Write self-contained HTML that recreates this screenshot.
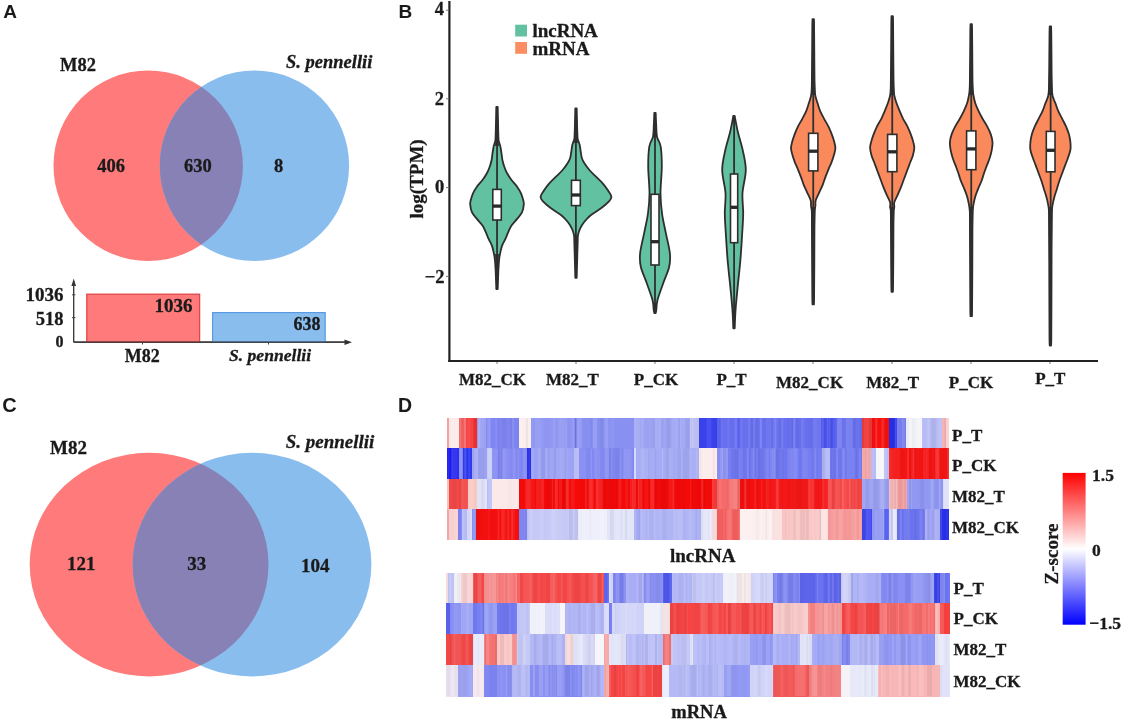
<!DOCTYPE html>
<html><head><meta charset="utf-8"><style>
html,body{margin:0;padding:0;background:#fff;}
svg{display:block;filter:blur(0.45px);}
</style></head><body>
<svg width="1122" height="720" viewBox="0 0 1122 720">
<rect width="1122" height="720" fill="#fff"/>
<text x="3.2" y="17.6" font-family='"Liberation Sans", sans-serif' font-size="19" font-weight="bold"  text-anchor="start" fill="#1a1a1a" >A</text>
<text x="398.6" y="17.6" font-family='"Liberation Sans", sans-serif' font-size="19" font-weight="bold"  text-anchor="start" fill="#1a1a1a" >B</text>
<text x="2.3" y="412.3" font-family='"Liberation Sans", sans-serif' font-size="20" font-weight="bold"  text-anchor="start" fill="#1a1a1a" >C</text>
<text x="398.0" y="412.4" font-family='"Liberation Sans", sans-serif' font-size="19.5" font-weight="bold"  text-anchor="start" fill="#1a1a1a" >D</text>
<ellipse cx="148.2" cy="165.7" rx="94.7" ry="95.3" fill="#ff7b7b"/>
<ellipse cx="254.4" cy="165.7" rx="94.7" ry="95.3" fill="#89bdee"/>
<clipPath id="c165"><ellipse cx="148.2" cy="165.7" rx="94.7" ry="95.3"/></clipPath>
<ellipse cx="254.4" cy="165.7" rx="94.7" ry="95.3" fill="#8781b5" clip-path="url(#c165)"/>
<text x="60" y="70.7" font-family='"Liberation Serif", serif' font-size="18.5" font-weight="bold"  text-anchor="start" fill="#1a1a1a"  stroke="#1a1a1a" stroke-width="0.3">M82</text>
<text x="286" y="68" font-family='"Liberation Serif", serif' font-size="18.5" font-weight="bold" font-style="italic" text-anchor="start" fill="#1a1a1a"  stroke="#1a1a1a" stroke-width="0.3">S. pennellii</text>
<text x="111.2" y="171.8" font-family='"Liberation Serif", serif' font-size="18.5" font-weight="bold"  text-anchor="middle" fill="#1a1a1a"  stroke="#1a1a1a" stroke-width="0.3">406</text>
<text x="197.8" y="171.8" font-family='"Liberation Serif", serif' font-size="18.5" font-weight="bold"  text-anchor="middle" fill="#1a1a1a"  stroke="#1a1a1a" stroke-width="0.3">630</text>
<text x="278.5" y="171.8" font-family='"Liberation Serif", serif' font-size="18.5" font-weight="bold"  text-anchor="middle" fill="#1a1a1a"  stroke="#1a1a1a" stroke-width="0.3">8</text>
<g stroke="#333" stroke-width="1.3" fill="none">
<line x1="73.7" y1="342.2" x2="73.7" y2="281"/>
<line x1="73.7" y1="342.2" x2="349" y2="342.2"/>
</g>
<path d="M73.7 278.5 L71.4 286 L76 286 Z" fill="#333"/>
<g stroke="#444" stroke-width="1"><line x1="72" y1="294.8" x2="75.4" y2="294.8"/><line x1="72" y1="317.6" x2="75.4" y2="317.6"/><line x1="142.5" y1="342" x2="142.5" y2="344.5"/><line x1="268.5" y1="342" x2="268.5" y2="344.5"/></g>
<path d="M352 342.2 L344.5 339.5 L344.5 344.9 Z" fill="#333"/>
<rect x="86.8" y="294.2" width="112.8" height="47.8" fill="#ff7b7b" stroke="#e04848" stroke-width="1.3"/>
<rect x="212.6" y="312.6" width="112.6" height="29.4" fill="#89bdee" stroke="#5a9ae0" stroke-width="1.2"/>
<line x1="73.7" y1="342.2" x2="349" y2="342.2" stroke="#333" stroke-width="1.3"/>
<text x="63.5" y="301.3" font-family='"Liberation Serif", serif' font-size="19" font-weight="bold"  text-anchor="end" fill="#1a1a1a"  stroke="#1a1a1a" stroke-width="0.3">1036</text>
<text x="63.5" y="324.5" font-family='"Liberation Serif", serif' font-size="18.5" font-weight="bold"  text-anchor="end" fill="#1a1a1a"  stroke="#1a1a1a" stroke-width="0.3">518</text>
<text x="63.5" y="347" font-family='"Liberation Serif", serif' font-size="16" font-weight="bold"  text-anchor="end" fill="#1a1a1a"  stroke="#1a1a1a" stroke-width="0.3">0</text>
<text x="192.5" y="312" font-family='"Liberation Serif", serif' font-size="19" font-weight="bold"  text-anchor="end" fill="#1a1a1a"  stroke="#1a1a1a" stroke-width="0.3">1036</text>
<text x="320.6" y="330" font-family='"Liberation Serif", serif' font-size="18" font-weight="bold"  text-anchor="end" fill="#1a1a1a"  stroke="#1a1a1a" stroke-width="0.3">638</text>
<text x="142.3" y="362.2" font-family='"Liberation Serif", serif' font-size="18" font-weight="bold"  text-anchor="middle" fill="#1a1a1a"  stroke="#1a1a1a" stroke-width="0.3">M82</text>
<text x="270" y="360.5" font-family='"Liberation Serif", serif' font-size="17.6" font-weight="bold" font-style="italic" text-anchor="middle" fill="#1a1a1a"  stroke="#1a1a1a" stroke-width="0.3">S. pennellii</text>
<ellipse cx="149.1" cy="564.6" rx="119.4" ry="111.8" fill="#ff7b7b"/>
<ellipse cx="252.0" cy="564.6" rx="119.4" ry="111.8" fill="#89bdee"/>
<clipPath id="c564"><ellipse cx="149.1" cy="564.6" rx="119.4" ry="111.8"/></clipPath>
<ellipse cx="252.0" cy="564.6" rx="119.4" ry="111.8" fill="#8781b5" clip-path="url(#c564)"/>
<text x="50" y="453.6" font-family='"Liberation Serif", serif' font-size="19" font-weight="bold"  text-anchor="start" fill="#1a1a1a"  stroke="#1a1a1a" stroke-width="0.3">M82</text>
<text x="285.7" y="448" font-family='"Liberation Serif", serif' font-size="19" font-weight="bold" font-style="italic" text-anchor="start" fill="#1a1a1a"  stroke="#1a1a1a" stroke-width="0.3">S. pennellii</text>
<text x="81.3" y="570" font-family='"Liberation Serif", serif' font-size="19" font-weight="bold"  text-anchor="middle" fill="#1a1a1a"  stroke="#1a1a1a" stroke-width="0.3">121</text>
<text x="196.7" y="570.4" font-family='"Liberation Serif", serif' font-size="19" font-weight="bold"  text-anchor="middle" fill="#1a1a1a"  stroke="#1a1a1a" stroke-width="0.3">33</text>
<text x="315.2" y="571.6" font-family='"Liberation Serif", serif' font-size="19" font-weight="bold"  text-anchor="middle" fill="#1a1a1a"  stroke="#1a1a1a" stroke-width="0.3">104</text>
<g stroke="#222" stroke-width="2.2" fill="none">
<line x1="449.4" y1="1" x2="449.4" y2="362"/>
<line x1="448.3" y1="361" x2="1098" y2="361"/>
</g>
<g stroke="#777" stroke-width="1">
<line x1="446" y1="10.2" x2="449" y2="10.2"/>
<line x1="446" y1="98.8" x2="449" y2="98.8"/>
<line x1="446" y1="187.6" x2="449" y2="187.6"/>
<line x1="446" y1="276.4" x2="449" y2="276.4"/>
<line x1="497" y1="362" x2="497" y2="364"/>
<line x1="576" y1="362" x2="576" y2="364"/>
<line x1="655" y1="362" x2="655" y2="364"/>
<line x1="734" y1="362" x2="734" y2="364"/>
<line x1="813" y1="362" x2="813" y2="364"/>
<line x1="892" y1="362" x2="892" y2="364"/>
<line x1="971" y1="362" x2="971" y2="364"/>
<line x1="1050" y1="362" x2="1050" y2="364"/>
</g>
<text x="444" y="15.3" font-family='"Liberation Serif", serif' font-size="18.5" font-weight="bold"  text-anchor="end" fill="#1a1a1a"  stroke="#1a1a1a" stroke-width="0.3">4</text>
<text x="444" y="105.3" font-family='"Liberation Serif", serif' font-size="18.5" font-weight="bold"  text-anchor="end" fill="#1a1a1a"  stroke="#1a1a1a" stroke-width="0.3">2</text>
<text x="444.3" y="193" font-family='"Liberation Serif", serif' font-size="18.5" font-weight="bold"  text-anchor="end" fill="#1a1a1a"  stroke="#1a1a1a" stroke-width="0.3">0</text>
<text x="444.5" y="282.6" font-family='"Liberation Serif", serif' font-size="18.5" font-weight="bold"  text-anchor="end" fill="#1a1a1a"  stroke="#1a1a1a" stroke-width="0.3">−2</text>
<text transform="translate(423.2,218.5) rotate(-90)" font-family='"Liberation Serif", serif' font-size="19" font-weight="bold" fill="#1a1a1a" stroke="#1a1a1a" stroke-width="0.3">log(TPM)</text>
<rect x="515.2" y="24.7" width="11.8" height="11.8" fill="#62c1a1"/>
<rect x="515.2" y="42" width="11.8" height="11.8" fill="#fc8d62"/>
<text x="532.4" y="36.5" font-family='"Liberation Serif", serif' font-size="19" font-weight="bold"  text-anchor="start" fill="#1a1a1a"  stroke="#1a1a1a" stroke-width="0.3">lncRNA</text>
<text x="532.4" y="54.8" font-family='"Liberation Serif", serif' font-size="19" font-weight="bold"  text-anchor="start" fill="#1a1a1a"  stroke="#1a1a1a" stroke-width="0.3">mRNA</text>
<path d="M497.70 107.00 C497.77 110.00 497.97 119.67 498.10 125.00 C498.23 130.33 498.33 136.13 498.50 139.00 C498.67 141.87 498.78 140.92 499.10 142.20 C499.42 143.48 500.00 144.85 500.40 146.70 C500.80 148.55 501.17 151.08 501.50 153.30 C501.83 155.52 501.93 157.77 502.40 160.00 C502.87 162.23 503.52 164.48 504.30 166.70 C505.08 168.92 505.90 171.08 507.10 173.30 C508.30 175.52 509.83 177.77 511.50 180.00 C513.17 182.23 515.52 184.48 517.10 186.70 C518.68 188.92 519.98 191.08 521.00 193.30 C522.02 195.52 522.73 198.15 523.20 200.00 C523.67 201.85 523.98 202.37 523.80 204.40 C523.62 206.43 523.22 209.78 522.10 212.20 C520.98 214.62 518.87 216.67 517.10 218.90 C515.33 221.13 512.98 223.38 511.50 225.60 C510.02 227.82 509.22 229.98 508.20 232.20 C507.18 234.42 506.42 236.67 505.40 238.90 C504.38 241.13 502.93 243.38 502.10 245.60 C501.27 247.82 500.88 249.98 500.40 252.20 C499.92 254.42 499.53 255.93 499.20 258.90 C498.87 261.87 498.65 264.98 498.40 270.00 C498.15 275.02 497.82 285.83 497.70 289.00 L496.30 289.00 C496.18 285.83 495.85 275.02 495.60 270.00 C495.35 264.98 495.13 261.87 494.80 258.90 C494.47 255.93 494.08 254.42 493.60 252.20 C493.12 249.98 492.73 247.82 491.90 245.60 C491.07 243.38 489.62 241.13 488.60 238.90 C487.58 236.67 486.82 234.42 485.80 232.20 C484.78 229.98 483.98 227.82 482.50 225.60 C481.02 223.38 478.67 221.13 476.90 218.90 C475.13 216.67 473.02 214.62 471.90 212.20 C470.78 209.78 470.38 206.43 470.20 204.40 C470.02 202.37 470.33 201.85 470.80 200.00 C471.27 198.15 471.98 195.52 473.00 193.30 C474.02 191.08 475.32 188.92 476.90 186.70 C478.48 184.48 480.83 182.23 482.50 180.00 C484.17 177.77 485.70 175.52 486.90 173.30 C488.10 171.08 488.92 168.92 489.70 166.70 C490.48 164.48 491.13 162.23 491.60 160.00 C492.07 157.77 492.17 155.52 492.50 153.30 C492.83 151.08 493.20 148.55 493.60 146.70 C494.00 144.85 494.58 143.48 494.90 142.20 C495.22 140.92 495.33 141.87 495.50 139.00 C495.67 136.13 495.77 130.33 495.90 125.00 C496.03 119.67 496.23 110.00 496.30 107.00 Z" fill="#62c1a1" stroke="#2e2e2e" stroke-width="1.8" stroke-linejoin="round"/>
<path d="M497.00 146.00 L498.90 146.00 L498.67 141.12 L498.46 136.25 L498.29 131.38 L498.15 126.50 L498.04 121.62 L497.96 116.75 L497.92 111.88 L497.90 107.00 L496.10 107.00 L496.08 111.88 L496.04 116.75 L495.96 121.62 L495.85 126.50 L495.71 131.38 L495.54 136.25 L495.33 141.12 L495.10 146.00 Z" fill="#2e2e2e"/>
<path d="M497.00 254.00 L498.90 254.00 L498.67 258.38 L498.46 262.75 L498.29 267.12 L498.15 271.50 L498.04 275.88 L497.96 280.25 L497.92 284.62 L497.90 289.00 L496.10 289.00 L496.08 284.62 L496.04 280.25 L495.96 275.88 L495.85 271.50 L495.71 267.12 L495.54 262.75 L495.33 258.38 L495.10 254.00 Z" fill="#2e2e2e"/>
<line x1="497.05" y1="107" x2="497.05" y2="289" stroke="#2e2e2e" stroke-width="1.8"/><rect x="492.8" y="189.4" width="8.5" height="30.599999999999994" fill="#fff" stroke="#2e2e2e" stroke-width="1.6"/><line x1="492.8" y1="206.1" x2="501.3" y2="206.1" stroke="#2a2a2a" stroke-width="3.3"/>
<path d="M576.70 108.30 C576.77 111.08 576.97 120.22 577.10 125.00 C577.23 129.78 577.35 134.50 577.50 137.00 C577.65 139.50 577.63 138.67 578.00 140.00 C578.37 141.33 579.25 143.05 579.70 145.00 C580.15 146.95 580.33 149.48 580.70 151.70 C581.07 153.92 581.28 156.37 581.90 158.30 C582.52 160.23 583.15 161.35 584.40 163.30 C585.65 165.25 587.47 167.77 589.40 170.00 C591.33 172.23 593.78 174.48 596.00 176.70 C598.22 178.92 600.75 181.08 602.70 183.30 C604.65 185.52 606.25 187.77 607.70 190.00 C609.15 192.23 611.23 194.75 611.40 196.70 C611.57 198.65 610.43 199.77 608.70 201.70 C606.97 203.63 603.95 206.08 601.00 208.30 C598.05 210.52 593.77 212.77 591.00 215.00 C588.23 217.23 586.20 219.48 584.40 221.70 C582.60 223.92 581.27 226.08 580.20 228.30 C579.13 230.52 578.42 232.77 578.00 235.00 C577.58 237.23 577.82 238.37 577.70 241.70 C577.58 245.03 577.47 248.98 577.30 255.00 C577.13 261.02 576.80 274.00 576.70 277.80 L575.30 277.80 C575.20 274.00 574.87 261.02 574.70 255.00 C574.53 248.98 574.42 245.03 574.30 241.70 C574.18 238.37 574.42 237.23 574.00 235.00 C573.58 232.77 572.87 230.52 571.80 228.30 C570.73 226.08 569.40 223.92 567.60 221.70 C565.80 219.48 563.77 217.23 561.00 215.00 C558.23 212.77 553.95 210.52 551.00 208.30 C548.05 206.08 545.03 203.63 543.30 201.70 C541.57 199.77 540.43 198.65 540.60 196.70 C540.77 194.75 542.85 192.23 544.30 190.00 C545.75 187.77 547.35 185.52 549.30 183.30 C551.25 181.08 553.78 178.92 556.00 176.70 C558.22 174.48 560.67 172.23 562.60 170.00 C564.53 167.77 566.35 165.25 567.60 163.30 C568.85 161.35 569.48 160.23 570.10 158.30 C570.72 156.37 570.93 153.92 571.30 151.70 C571.67 149.48 571.85 146.95 572.30 145.00 C572.75 143.05 573.63 141.33 574.00 140.00 C574.37 138.67 574.35 139.50 574.50 137.00 C574.65 134.50 574.77 129.78 574.90 125.00 C575.03 120.22 575.23 111.08 575.30 108.30 Z" fill="#62c1a1" stroke="#2e2e2e" stroke-width="1.8" stroke-linejoin="round"/>
<path d="M576.00 143.00 L577.90 143.00 L577.67 138.66 L577.46 134.32 L577.29 129.99 L577.15 125.65 L577.04 121.31 L576.96 116.97 L576.92 112.64 L576.90 108.30 L575.10 108.30 L575.08 112.64 L575.04 116.97 L574.96 121.31 L574.85 125.65 L574.71 129.99 L574.54 134.32 L574.33 138.66 L574.10 143.00 Z" fill="#2e2e2e"/>
<path d="M576.00 236.00 L577.90 236.00 L577.67 241.22 L577.46 246.45 L577.29 251.68 L577.15 256.90 L577.04 262.12 L576.96 267.35 L576.92 272.57 L576.90 277.80 L575.10 277.80 L575.08 272.57 L575.04 267.35 L574.96 262.12 L574.85 256.90 L574.71 251.68 L574.54 246.45 L574.33 241.22 L574.10 236.00 Z" fill="#2e2e2e"/>
<line x1="575.9" y1="108.3" x2="575.9" y2="277.8" stroke="#2e2e2e" stroke-width="1.8"/><rect x="571.5" y="180.3" width="8.799999999999955" height="25.299999999999983" fill="#fff" stroke="#2e2e2e" stroke-width="1.6"/><line x1="571.5" y1="195.0" x2="580.3" y2="195.0" stroke="#2a2a2a" stroke-width="3.3"/>
<path d="M655.70 113.00 C655.78 115.00 655.98 121.05 656.20 125.00 C656.42 128.95 656.25 133.08 657.00 136.70 C657.75 140.32 659.90 141.70 660.70 146.70 C661.50 151.70 661.83 158.93 661.80 166.70 C661.77 174.47 660.47 185.53 660.50 193.30 C660.53 201.07 661.10 206.63 662.00 213.30 C662.90 219.97 664.58 226.63 665.90 233.30 C667.22 239.97 669.35 247.73 669.90 253.30 C670.45 258.87 670.32 261.70 669.20 266.70 C668.08 271.70 665.15 277.75 663.20 283.30 C661.25 288.85 658.65 295.55 657.50 300.00 C656.35 304.45 656.60 307.83 656.30 310.00 C656.00 312.17 655.80 312.50 655.70 313.00 L654.30 313.00 C654.20 312.50 654.00 312.17 653.70 310.00 C653.40 307.83 653.65 304.45 652.50 300.00 C651.35 295.55 648.75 288.85 646.80 283.30 C644.85 277.75 641.92 271.70 640.80 266.70 C639.68 261.70 639.55 258.87 640.10 253.30 C640.65 247.73 642.78 239.97 644.10 233.30 C645.42 226.63 647.10 219.97 648.00 213.30 C648.90 206.63 649.47 201.07 649.50 193.30 C649.53 185.53 648.23 174.47 648.20 166.70 C648.17 158.93 648.50 151.70 649.30 146.70 C650.10 141.70 652.25 140.32 653.00 136.70 C653.75 133.08 653.58 128.95 653.80 125.00 C654.02 121.05 654.22 115.00 654.30 113.00 Z" fill="#62c1a1" stroke="#2e2e2e" stroke-width="1.8" stroke-linejoin="round"/>
<path d="M655.00 137.00 L656.90 137.00 L656.67 134.00 L656.46 131.00 L656.29 128.00 L656.15 125.00 L656.04 122.00 L655.96 119.00 L655.92 116.00 L655.90 113.00 L654.10 113.00 L654.08 116.00 L654.04 119.00 L653.96 122.00 L653.85 125.00 L653.71 128.00 L653.54 131.00 L653.33 134.00 L653.10 137.00 Z" fill="#2e2e2e"/>
<path d="M655.00 303.00 L656.90 303.00 L656.67 304.25 L656.46 305.50 L656.29 306.75 L656.15 308.00 L656.04 309.25 L655.96 310.50 L655.92 311.75 L655.90 313.00 L654.10 313.00 L654.08 311.75 L654.04 310.50 L653.96 309.25 L653.85 308.00 L653.71 306.75 L653.54 305.50 L653.33 304.25 L653.10 303.00 Z" fill="#2e2e2e"/>
<line x1="655.0" y1="113" x2="655.0" y2="313" stroke="#2e2e2e" stroke-width="1.8"/><rect x="651" y="194.3" width="8" height="70.69999999999999" fill="#fff" stroke="#2e2e2e" stroke-width="1.6"/><line x1="651" y1="241.7" x2="659" y2="241.7" stroke="#2a2a2a" stroke-width="3.3"/>
<path d="M734.70 116.00 C734.95 117.33 735.62 121.12 736.20 124.00 C736.78 126.88 737.12 128.97 738.20 133.30 C739.28 137.63 741.43 143.88 742.70 150.00 C743.97 156.12 745.83 162.83 745.80 170.00 C745.77 177.17 742.93 185.78 742.50 193.00 C742.07 200.22 743.25 206.58 743.20 213.30 C743.15 220.02 742.67 225.52 742.20 233.30 C741.73 241.08 741.15 251.10 740.40 260.00 C739.65 268.90 738.47 278.92 737.70 286.70 C736.93 294.48 736.23 301.48 735.80 306.70 C735.37 311.92 735.28 314.40 735.10 318.00 C734.92 321.60 734.77 326.58 734.70 328.30 L733.30 328.30 C733.23 326.58 733.08 321.60 732.90 318.00 C732.72 314.40 732.63 311.92 732.20 306.70 C731.77 301.48 731.07 294.48 730.30 286.70 C729.53 278.92 728.35 268.90 727.60 260.00 C726.85 251.10 726.27 241.08 725.80 233.30 C725.33 225.52 724.85 220.02 724.80 213.30 C724.75 206.58 725.93 200.22 725.50 193.00 C725.07 185.78 722.23 177.17 722.20 170.00 C722.17 162.83 724.03 156.12 725.30 150.00 C726.57 143.88 728.72 137.63 729.80 133.30 C730.88 128.97 731.22 126.88 731.80 124.00 C732.38 121.12 733.05 117.33 733.30 116.00 Z" fill="#62c1a1" stroke="#2e2e2e" stroke-width="1.8" stroke-linejoin="round"/>
<path d="M734.00 122.00 L735.90 122.00 L735.67 121.25 L735.46 120.50 L735.29 119.75 L735.15 119.00 L735.04 118.25 L734.96 117.50 L734.92 116.75 L734.90 116.00 L733.10 116.00 L733.08 116.75 L733.04 117.50 L732.96 118.25 L732.85 119.00 L732.71 119.75 L732.54 120.50 L732.33 121.25 L732.10 122.00 Z" fill="#2e2e2e"/>
<path d="M734.00 310.00 L735.90 310.00 L735.67 312.29 L735.46 314.57 L735.29 316.86 L735.15 319.15 L735.04 321.44 L734.96 323.73 L734.92 326.01 L734.90 328.30 L733.10 328.30 L733.08 326.01 L733.04 323.73 L732.96 321.44 L732.85 319.15 L732.71 316.86 L732.54 314.57 L732.33 312.29 L732.10 310.00 Z" fill="#2e2e2e"/>
<line x1="734.1" y1="116" x2="734.1" y2="328.3" stroke="#2e2e2e" stroke-width="1.8"/><rect x="730.5" y="174" width="7.2000000000000455" height="68.69999999999999" fill="#fff" stroke="#2e2e2e" stroke-width="1.6"/><line x1="730.5" y1="207.3" x2="737.7" y2="207.3" stroke="#2a2a2a" stroke-width="3.3"/>
<path d="M813.90 19.10 C813.93 20.43 814.03 21.36 814.10 27.10 C814.17 32.84 814.22 43.73 814.30 53.55 C814.38 63.37 814.43 79.01 814.60 86.00 C814.77 92.99 814.80 92.62 815.30 95.50 C815.80 98.38 816.78 100.70 817.60 103.30 C818.42 105.90 819.12 108.52 820.20 111.10 C821.28 113.68 822.72 116.22 824.10 118.80 C825.48 121.38 827.22 124.00 828.50 126.60 C829.78 129.20 830.83 131.82 831.80 134.40 C832.77 136.98 833.70 139.83 834.30 142.10 C834.90 144.37 835.40 146.05 835.40 148.00 C835.40 149.95 834.90 151.53 834.30 153.80 C833.70 156.07 832.77 159.02 831.80 161.60 C830.83 164.18 829.57 166.72 828.50 169.30 C827.43 171.88 826.37 174.50 825.40 177.10 C824.43 179.70 823.73 182.32 822.70 184.90 C821.67 187.48 820.37 190.02 819.20 192.60 C818.03 195.18 816.33 198.17 815.70 200.40 C815.07 202.63 815.58 204.23 815.40 206.00 C815.22 207.77 814.76 207.83 814.60 211.00 C814.44 214.17 814.50 216.05 814.45 225.00 C814.40 233.95 814.36 252.80 814.30 264.70 C814.24 276.60 814.17 289.78 814.10 296.40 C814.03 303.02 813.93 303.07 813.90 304.40 L812.50 304.40 C812.47 303.07 812.37 303.02 812.30 296.40 C812.23 289.78 812.16 276.60 812.10 264.70 C812.04 252.80 812.00 233.95 811.95 225.00 C811.90 216.05 811.96 214.17 811.80 211.00 C811.64 207.83 811.18 207.77 811.00 206.00 C810.82 204.23 811.33 202.63 810.70 200.40 C810.07 198.17 808.37 195.18 807.20 192.60 C806.03 190.02 804.73 187.48 803.70 184.90 C802.67 182.32 801.97 179.70 801.00 177.10 C800.03 174.50 798.97 171.88 797.90 169.30 C796.83 166.72 795.57 164.18 794.60 161.60 C793.63 159.02 792.70 156.07 792.10 153.80 C791.50 151.53 791.00 149.95 791.00 148.00 C791.00 146.05 791.50 144.37 792.10 142.10 C792.70 139.83 793.63 136.98 794.60 134.40 C795.57 131.82 796.62 129.20 797.90 126.60 C799.18 124.00 800.92 121.38 802.30 118.80 C803.68 116.22 805.12 113.68 806.20 111.10 C807.28 108.52 807.98 105.90 808.80 103.30 C809.62 100.70 810.60 98.38 811.10 95.50 C811.60 92.62 811.63 92.99 811.80 86.00 C811.97 79.01 812.02 63.37 812.10 53.55 C812.18 43.73 812.23 32.84 812.30 27.10 C812.37 21.36 812.47 20.43 812.50 19.10 Z" fill="#fa8a5c" stroke="#2e2e2e" stroke-width="1.8" stroke-linejoin="round"/>
<path d="M813.20 95.00 L815.50 95.00 L815.17 85.51 L814.89 76.03 L814.65 66.54 L814.45 57.05 L814.30 47.56 L814.19 38.07 L814.12 28.59 L814.10 19.10 L812.30 19.10 L812.28 28.59 L812.21 38.07 L812.10 47.56 L811.95 57.05 L811.75 66.54 L811.51 76.03 L811.23 85.51 L810.90 95.00 Z" fill="#2e2e2e"/>
<path d="M813.20 207.00 L815.50 207.00 L815.17 219.18 L814.89 231.35 L814.65 243.52 L814.45 255.70 L814.30 267.88 L814.19 280.05 L814.12 292.22 L814.10 304.40 L812.30 304.40 L812.28 292.22 L812.21 280.05 L812.10 267.88 L811.95 255.70 L811.75 243.52 L811.51 231.35 L811.23 219.18 L810.90 207.00 Z" fill="#2e2e2e"/>
<line x1="813.25" y1="19.1" x2="813.25" y2="304.4" stroke="#2e2e2e" stroke-width="1.8"/><rect x="808.6" y="133.3" width="9.299999999999955" height="37.599999999999994" fill="#fff" stroke="#2e2e2e" stroke-width="1.6"/><line x1="808.6" y1="151.2" x2="817.9" y2="151.2" stroke="#2a2a2a" stroke-width="3.3"/>
<path d="M892.90 16.20 C892.93 17.53 893.03 18.22 893.10 24.20 C893.17 30.18 893.22 41.80 893.30 52.10 C893.38 62.40 893.43 78.77 893.60 86.00 C893.77 93.23 893.80 92.62 894.30 95.50 C894.80 98.38 895.70 100.70 896.60 103.30 C897.50 105.90 898.62 108.52 899.70 111.10 C900.78 113.68 901.80 116.22 903.10 118.80 C904.40 121.38 906.22 124.00 907.50 126.60 C908.78 129.20 909.83 131.82 910.80 134.40 C911.77 136.98 912.72 139.83 913.30 142.10 C913.88 144.37 914.38 145.73 914.30 148.00 C914.22 150.27 913.55 153.12 912.80 155.70 C912.05 158.28 910.78 160.90 909.80 163.50 C908.82 166.10 907.87 168.72 906.90 171.30 C905.93 173.88 904.97 176.42 904.00 179.00 C903.03 181.58 902.13 184.20 901.10 186.80 C900.07 189.40 898.93 192.02 897.80 194.60 C896.67 197.18 894.88 200.23 894.30 202.30 C893.72 204.37 894.42 205.55 894.30 207.00 C894.18 208.45 893.74 208.00 893.60 211.00 C893.46 214.00 893.50 217.10 893.45 225.00 C893.40 232.90 893.36 248.60 893.30 258.40 C893.24 268.20 893.17 278.23 893.10 283.80 C893.03 289.37 892.93 290.47 892.90 291.80 L891.50 291.80 C891.47 290.47 891.37 289.37 891.30 283.80 C891.23 278.23 891.16 268.20 891.10 258.40 C891.04 248.60 891.00 232.90 890.95 225.00 C890.90 217.10 890.94 214.00 890.80 211.00 C890.66 208.00 890.22 208.45 890.10 207.00 C889.98 205.55 890.68 204.37 890.10 202.30 C889.52 200.23 887.73 197.18 886.60 194.60 C885.47 192.02 884.33 189.40 883.30 186.80 C882.27 184.20 881.37 181.58 880.40 179.00 C879.43 176.42 878.47 173.88 877.50 171.30 C876.53 168.72 875.58 166.10 874.60 163.50 C873.62 160.90 872.35 158.28 871.60 155.70 C870.85 153.12 870.18 150.27 870.10 148.00 C870.02 145.73 870.52 144.37 871.10 142.10 C871.68 139.83 872.63 136.98 873.60 134.40 C874.57 131.82 875.62 129.20 876.90 126.60 C878.18 124.00 880.00 121.38 881.30 118.80 C882.60 116.22 883.62 113.68 884.70 111.10 C885.78 108.52 886.90 105.90 887.80 103.30 C888.70 100.70 889.60 98.38 890.10 95.50 C890.60 92.62 890.63 93.23 890.80 86.00 C890.97 78.77 891.02 62.40 891.10 52.10 C891.18 41.80 891.23 30.18 891.30 24.20 C891.37 18.22 891.47 17.53 891.50 16.20 Z" fill="#fa8a5c" stroke="#2e2e2e" stroke-width="1.8" stroke-linejoin="round"/>
<path d="M892.20 95.00 L894.50 95.00 L894.17 85.15 L893.89 75.30 L893.65 65.45 L893.45 55.60 L893.30 45.75 L893.19 35.90 L893.12 26.05 L893.10 16.20 L891.30 16.20 L891.28 26.05 L891.21 35.90 L891.10 45.75 L890.95 55.60 L890.75 65.45 L890.51 75.30 L890.23 85.15 L889.90 95.00 Z" fill="#2e2e2e"/>
<path d="M892.20 207.00 L894.50 207.00 L894.17 217.60 L893.89 228.20 L893.65 238.80 L893.45 249.40 L893.30 260.00 L893.19 270.60 L893.12 281.20 L893.10 291.80 L891.30 291.80 L891.28 281.20 L891.21 270.60 L891.10 260.00 L890.95 249.40 L890.75 238.80 L890.51 228.20 L890.23 217.60 L889.90 207.00 Z" fill="#2e2e2e"/>
<line x1="892.25" y1="16.2" x2="892.25" y2="291.8" stroke="#2e2e2e" stroke-width="1.8"/><rect x="887.6" y="134.4" width="9.299999999999955" height="37.29999999999998" fill="#fff" stroke="#2e2e2e" stroke-width="1.6"/><line x1="887.6" y1="151.8" x2="896.9" y2="151.8" stroke="#2a2a2a" stroke-width="3.3"/>
<path d="M971.90 24.10 C971.93 25.43 972.03 26.78 972.10 32.10 C972.17 37.42 972.22 47.07 972.30 56.05 C972.38 65.03 972.40 79.42 972.60 86.00 C972.80 92.58 973.05 92.62 973.50 95.50 C973.95 98.38 974.45 100.70 975.30 103.30 C976.15 105.90 977.38 108.52 978.60 111.10 C979.82 113.68 981.15 116.22 982.60 118.80 C984.05 121.38 985.93 124.00 987.30 126.60 C988.67 129.20 989.93 131.82 990.80 134.40 C991.67 136.98 992.33 139.52 992.50 142.10 C992.67 144.68 992.25 147.30 991.80 149.90 C991.35 152.50 990.62 155.12 989.80 157.70 C988.98 160.28 987.87 162.82 986.90 165.40 C985.93 167.98 984.90 170.60 984.00 173.20 C983.10 175.80 982.47 178.42 981.50 181.00 C980.53 183.58 979.23 186.12 978.20 188.70 C977.17 191.28 976.08 193.90 975.30 196.50 C974.52 199.10 973.95 201.88 973.50 204.30 C973.05 206.72 972.77 207.55 972.60 211.00 C972.43 214.45 972.50 215.07 972.45 225.00 C972.40 234.93 972.36 256.73 972.30 270.60 C972.24 284.47 972.17 300.60 972.10 308.20 C972.03 315.80 971.93 314.87 971.90 316.20 L970.50 316.20 C970.47 314.87 970.37 315.80 970.30 308.20 C970.23 300.60 970.16 284.47 970.10 270.60 C970.04 256.73 970.00 234.93 969.95 225.00 C969.90 215.07 969.98 214.45 969.80 211.00 C969.63 207.55 969.35 206.72 968.90 204.30 C968.45 201.88 967.88 199.10 967.10 196.50 C966.32 193.90 965.23 191.28 964.20 188.70 C963.17 186.12 961.87 183.58 960.90 181.00 C959.93 178.42 959.30 175.80 958.40 173.20 C957.50 170.60 956.47 167.98 955.50 165.40 C954.53 162.82 953.42 160.28 952.60 157.70 C951.78 155.12 951.05 152.50 950.60 149.90 C950.15 147.30 949.73 144.68 949.90 142.10 C950.07 139.52 950.73 136.98 951.60 134.40 C952.47 131.82 953.73 129.20 955.10 126.60 C956.47 124.00 958.35 121.38 959.80 118.80 C961.25 116.22 962.58 113.68 963.80 111.10 C965.02 108.52 966.25 105.90 967.10 103.30 C967.95 100.70 968.45 98.38 968.90 95.50 C969.35 92.62 969.60 92.58 969.80 86.00 C970.00 79.42 970.02 65.03 970.10 56.05 C970.18 47.07 970.23 37.42 970.30 32.10 C970.37 26.78 970.47 25.43 970.50 24.10 Z" fill="#fa8a5c" stroke="#2e2e2e" stroke-width="1.8" stroke-linejoin="round"/>
<path d="M971.20 95.00 L973.50 95.00 L973.17 86.14 L972.89 77.28 L972.65 68.41 L972.45 59.55 L972.30 50.69 L972.19 41.82 L972.12 32.96 L972.10 24.10 L970.30 24.10 L970.28 32.96 L970.21 41.82 L970.10 50.69 L969.95 59.55 L969.75 68.41 L969.51 77.28 L969.23 86.14 L968.90 95.00 Z" fill="#2e2e2e"/>
<path d="M971.20 207.00 L973.50 207.00 L973.17 220.65 L972.89 234.30 L972.65 247.95 L972.45 261.60 L972.30 275.25 L972.19 288.90 L972.12 302.55 L972.10 316.20 L970.30 316.20 L970.28 302.55 L970.21 288.90 L970.10 275.25 L969.95 261.60 L969.75 247.95 L969.51 234.30 L969.23 220.65 L968.90 207.00 Z" fill="#2e2e2e"/>
<line x1="971.25" y1="24.1" x2="971.25" y2="316.2" stroke="#2e2e2e" stroke-width="1.8"/><rect x="966.6" y="130.9" width="9.299999999999955" height="38.79999999999998" fill="#fff" stroke="#2e2e2e" stroke-width="1.6"/><line x1="966.6" y1="148.9" x2="975.9" y2="148.9" stroke="#2a2a2a" stroke-width="3.3"/>
<path d="M1051.10 26.50 C1051.13 27.83 1051.23 29.38 1051.30 34.50 C1051.37 39.62 1051.42 48.67 1051.50 57.25 C1051.58 65.83 1051.63 79.62 1051.80 86.00 C1051.97 92.38 1051.90 92.62 1052.50 95.50 C1053.10 98.38 1054.43 100.70 1055.40 103.30 C1056.37 105.90 1057.17 108.52 1058.30 111.10 C1059.43 113.68 1060.90 116.22 1062.20 118.80 C1063.50 121.38 1064.97 124.00 1066.10 126.60 C1067.23 129.20 1068.28 131.82 1069.00 134.40 C1069.72 136.98 1070.17 139.52 1070.40 142.10 C1070.63 144.68 1070.80 147.30 1070.40 149.90 C1070.00 152.50 1068.88 155.12 1068.00 157.70 C1067.12 160.28 1066.07 162.82 1065.10 165.40 C1064.13 167.98 1063.17 170.60 1062.20 173.20 C1061.23 175.80 1060.17 178.42 1059.30 181.00 C1058.43 183.58 1057.80 186.12 1057.00 188.70 C1056.20 191.28 1055.22 193.90 1054.50 196.50 C1053.78 199.10 1053.15 201.88 1052.70 204.30 C1052.25 206.72 1051.98 207.55 1051.80 211.00 C1051.63 214.45 1051.70 212.62 1051.65 225.00 C1051.60 237.38 1051.56 266.53 1051.50 285.30 C1051.44 304.07 1051.37 327.55 1051.30 337.60 C1051.23 347.65 1051.13 344.27 1051.10 345.60 L1049.70 345.60 C1049.67 344.27 1049.57 347.65 1049.50 337.60 C1049.43 327.55 1049.36 304.07 1049.30 285.30 C1049.24 266.53 1049.20 237.38 1049.15 225.00 C1049.10 212.62 1049.17 214.45 1049.00 211.00 C1048.83 207.55 1048.55 206.72 1048.10 204.30 C1047.65 201.88 1047.02 199.10 1046.30 196.50 C1045.58 193.90 1044.60 191.28 1043.80 188.70 C1043.00 186.12 1042.37 183.58 1041.50 181.00 C1040.63 178.42 1039.57 175.80 1038.60 173.20 C1037.63 170.60 1036.67 167.98 1035.70 165.40 C1034.73 162.82 1033.68 160.28 1032.80 157.70 C1031.92 155.12 1030.80 152.50 1030.40 149.90 C1030.00 147.30 1030.17 144.68 1030.40 142.10 C1030.63 139.52 1031.08 136.98 1031.80 134.40 C1032.52 131.82 1033.57 129.20 1034.70 126.60 C1035.83 124.00 1037.30 121.38 1038.60 118.80 C1039.90 116.22 1041.37 113.68 1042.50 111.10 C1043.63 108.52 1044.43 105.90 1045.40 103.30 C1046.37 100.70 1047.70 98.38 1048.30 95.50 C1048.90 92.62 1048.83 92.38 1049.00 86.00 C1049.17 79.62 1049.22 65.83 1049.30 57.25 C1049.38 48.67 1049.43 39.62 1049.50 34.50 C1049.57 29.38 1049.67 27.83 1049.70 26.50 Z" fill="#fa8a5c" stroke="#2e2e2e" stroke-width="1.8" stroke-linejoin="round"/>
<path d="M1050.40 95.00 L1052.70 95.00 L1052.37 86.44 L1052.09 77.88 L1051.85 69.31 L1051.65 60.75 L1051.50 52.19 L1051.39 43.62 L1051.32 35.06 L1051.30 26.50 L1049.50 26.50 L1049.48 35.06 L1049.41 43.62 L1049.30 52.19 L1049.15 60.75 L1048.95 69.31 L1048.71 77.88 L1048.43 86.44 L1048.10 95.00 Z" fill="#2e2e2e"/>
<path d="M1050.40 207.00 L1052.70 207.00 L1052.37 224.32 L1052.09 241.65 L1051.85 258.98 L1051.65 276.30 L1051.50 293.62 L1051.39 310.95 L1051.32 328.28 L1051.30 345.60 L1049.50 345.60 L1049.48 328.28 L1049.41 310.95 L1049.30 293.62 L1049.15 276.30 L1048.95 258.98 L1048.71 241.65 L1048.43 224.32 L1048.10 207.00 Z" fill="#2e2e2e"/>
<line x1="1050.65" y1="26.5" x2="1050.65" y2="345.6" stroke="#2e2e2e" stroke-width="1.8"/><rect x="1046.3" y="131.4" width="8.700000000000045" height="40.400000000000006" fill="#fff" stroke="#2e2e2e" stroke-width="1.6"/><line x1="1046.3" y1="150.3" x2="1055.0" y2="150.3" stroke="#2a2a2a" stroke-width="3.3"/>
<text x="492.5" y="385.3" font-family='"Liberation Serif", serif' font-size="17" font-weight="bold"  text-anchor="middle" fill="#1a1a1a"  stroke="#1a1a1a" stroke-width="0.3">M82_CK</text>
<text x="572.5" y="385.3" font-family='"Liberation Serif", serif' font-size="17" font-weight="bold"  text-anchor="middle" fill="#1a1a1a"  stroke="#1a1a1a" stroke-width="0.3">M82_T</text>
<text x="656" y="385" font-family='"Liberation Serif", serif' font-size="17" font-weight="bold"  text-anchor="middle" fill="#1a1a1a"  stroke="#1a1a1a" stroke-width="0.3">P_CK</text>
<text x="731.5" y="384.5" font-family='"Liberation Serif", serif' font-size="17" font-weight="bold"  text-anchor="middle" fill="#1a1a1a"  stroke="#1a1a1a" stroke-width="0.3">P_T</text>
<text x="809.6" y="387.7" font-family='"Liberation Serif", serif' font-size="17" font-weight="bold"  text-anchor="middle" fill="#1a1a1a"  stroke="#1a1a1a" stroke-width="0.3">M82_CK</text>
<text x="892.6" y="387.7" font-family='"Liberation Serif", serif' font-size="17" font-weight="bold"  text-anchor="middle" fill="#1a1a1a"  stroke="#1a1a1a" stroke-width="0.3">M82_T</text>
<text x="971" y="387.7" font-family='"Liberation Serif", serif' font-size="17" font-weight="bold"  text-anchor="middle" fill="#1a1a1a"  stroke="#1a1a1a" stroke-width="0.3">P_CK</text>
<text x="1050.3" y="383.5" font-family='"Liberation Serif", serif' font-size="17" font-weight="bold"  text-anchor="middle" fill="#1a1a1a"  stroke="#1a1a1a" stroke-width="0.3">P_T</text>
<g shape-rendering="crispEdges">
<rect x="447.3" y="418.2" width="2.0" height="30.5" fill="#f5a0a0"/>
<rect x="449.0" y="418.2" width="9.8" height="30.5" fill="#fbeaea"/>
<rect x="458.5" y="418.2" width="7.8" height="30.5" fill="#f56060"/>
<rect x="466.0" y="418.2" width="10.9" height="30.5" fill="#f53030"/>
<rect x="476.6" y="418.2" width="9.7" height="30.5" fill="#9fa5f5"/>
<rect x="486.0" y="418.2" width="5.3" height="30.5" fill="#8a8ff5"/>
<rect x="491.0" y="418.2" width="28.3" height="30.5" fill="#7f86f2"/>
<rect x="519.0" y="418.2" width="12.3" height="30.5" fill="#fbeeee"/>
<rect x="531.0" y="418.2" width="44.3" height="30.5" fill="#9098f3"/>
<rect x="575.0" y="418.2" width="2.3" height="30.5" fill="#6a72ee"/>
<rect x="577.0" y="418.2" width="57.3" height="30.5" fill="#8890f2"/>
<rect x="634.0" y="418.2" width="56.3" height="30.5" fill="#a0a6f4"/>
<rect x="690.0" y="418.2" width="9.3" height="30.5" fill="#c0c4f6"/>
<rect x="699.0" y="418.2" width="18.3" height="30.5" fill="#3a42ec"/>
<rect x="717.0" y="418.2" width="23.3" height="30.5" fill="#5a62ee"/>
<rect x="740.0" y="418.2" width="81.3" height="30.5" fill="#6870ef"/>
<rect x="821.0" y="418.2" width="16.3" height="30.5" fill="#4a52ee"/>
<rect x="837.0" y="418.2" width="25.3" height="30.5" fill="#6a72ee"/>
<rect x="862.0" y="418.2" width="10.3" height="30.5" fill="#f03a3a"/>
<rect x="872.0" y="418.2" width="17.3" height="30.5" fill="#f51010"/>
<rect x="889.0" y="418.2" width="8.3" height="30.5" fill="#2830e8"/>
<rect x="897.0" y="418.2" width="9.3" height="30.5" fill="#7a80f0"/>
<rect x="906.0" y="418.2" width="16.3" height="30.5" fill="#f3f3fa"/>
<rect x="922.0" y="418.2" width="20.3" height="30.5" fill="#b8bcf5"/>
<rect x="942.0" y="418.2" width="4.3" height="30.5" fill="#f5b0b0"/>
<rect x="946.0" y="418.2" width="3.3" height="30.5" fill="#f8d0d0"/>
<rect x="447.3" y="448.4" width="12.0" height="30.8" fill="#1a1aee"/>
<rect x="459.0" y="448.4" width="4.3" height="30.8" fill="#7a80f0"/>
<rect x="463.0" y="448.4" width="9.3" height="30.8" fill="#2e38ee"/>
<rect x="472.0" y="448.4" width="15.3" height="30.8" fill="#9da3f3"/>
<rect x="487.0" y="448.4" width="5.3" height="30.8" fill="#c8cbf7"/>
<rect x="492.0" y="448.4" width="35.3" height="30.8" fill="#7f86f2"/>
<rect x="527.0" y="448.4" width="4.3" height="30.8" fill="#2830e8"/>
<rect x="531.0" y="448.4" width="43.3" height="30.8" fill="#9ba1f4"/>
<rect x="574.0" y="448.4" width="5.3" height="30.8" fill="#b5b9f5"/>
<rect x="579.0" y="448.4" width="55.3" height="30.8" fill="#8088f2"/>
<rect x="634.0" y="448.4" width="2.3" height="30.8" fill="#d5d8f8"/>
<rect x="636.0" y="448.4" width="4.3" height="30.8" fill="#a0a6f4"/>
<rect x="640.0" y="448.4" width="59.3" height="30.8" fill="#a5abf4"/>
<rect x="699.0" y="448.4" width="18.3" height="30.8" fill="#fcecec"/>
<rect x="717.0" y="448.4" width="11.3" height="30.8" fill="#8a91f2"/>
<rect x="728.0" y="448.4" width="94.3" height="30.8" fill="#7078f0"/>
<rect x="822.0" y="448.4" width="8.3" height="30.8" fill="#b0b5f5"/>
<rect x="830.0" y="448.4" width="32.3" height="30.8" fill="#7078f0"/>
<rect x="862.0" y="448.4" width="9.3" height="30.8" fill="#f5a8a8"/>
<rect x="871.0" y="448.4" width="5.3" height="30.8" fill="#b5b9f5"/>
<rect x="876.0" y="448.4" width="8.3" height="30.8" fill="#f5f5fa"/>
<rect x="884.0" y="448.4" width="5.3" height="30.8" fill="#c0c4f6"/>
<rect x="889.0" y="448.4" width="60.3" height="30.8" fill="#f51515"/>
<rect x="447.3" y="478.9" width="2.0" height="30.7" fill="#f9c0c0"/>
<rect x="449.0" y="478.9" width="19.3" height="30.7" fill="#f24848"/>
<rect x="468.0" y="478.9" width="9.3" height="30.7" fill="#f8c8c0"/>
<rect x="477.0" y="478.9" width="10.3" height="30.7" fill="#e0e2f8"/>
<rect x="487.0" y="478.9" width="5.3" height="30.7" fill="#b8bcf5"/>
<rect x="492.0" y="478.9" width="27.3" height="30.7" fill="#fbe8e8"/>
<rect x="519.0" y="478.9" width="193.3" height="30.7" fill="#f50a0a"/>
<rect x="712.0" y="478.9" width="5.3" height="30.7" fill="#f53838"/>
<rect x="717.0" y="478.9" width="23.3" height="30.7" fill="#f56a6a"/>
<rect x="740.0" y="478.9" width="25.3" height="30.7" fill="#f51010"/>
<rect x="765.0" y="478.9" width="63.3" height="30.7" fill="#f51818"/>
<rect x="828.0" y="478.9" width="34.3" height="30.7" fill="#f54545"/>
<rect x="862.0" y="478.9" width="27.3" height="30.7" fill="#9ca2f3"/>
<rect x="889.0" y="478.9" width="8.3" height="30.7" fill="#f5b8b8"/>
<rect x="897.0" y="478.9" width="10.3" height="30.7" fill="#f5a0a0"/>
<rect x="907.0" y="478.9" width="36.3" height="30.7" fill="#9098f3"/>
<rect x="943.0" y="478.9" width="6.3" height="30.7" fill="#e0e2f8"/>
<rect x="447.3" y="509.3" width="2.0" height="31.0" fill="#f5a5a5"/>
<rect x="449.0" y="509.3" width="9.3" height="31.0" fill="#f8d0d0"/>
<rect x="458.0" y="509.3" width="4.3" height="31.0" fill="#7a80f0"/>
<rect x="462.0" y="509.3" width="5.3" height="31.0" fill="#b0b5f5"/>
<rect x="467.0" y="509.3" width="5.3" height="31.0" fill="#d8daf8"/>
<rect x="472.0" y="509.3" width="4.3" height="31.0" fill="#8088f0"/>
<rect x="476.0" y="509.3" width="43.3" height="31.0" fill="#f51010"/>
<rect x="519.0" y="509.3" width="8.3" height="31.0" fill="#8088f2"/>
<rect x="527.0" y="509.3" width="51.3" height="31.0" fill="#c5c8f6"/>
<rect x="578.0" y="509.3" width="29.3" height="31.0" fill="#eeeffa"/>
<rect x="607.0" y="509.3" width="27.3" height="31.0" fill="#e2e4f9"/>
<rect x="634.0" y="509.3" width="6.3" height="31.0" fill="#a5abf4"/>
<rect x="640.0" y="509.3" width="61.3" height="31.0" fill="#b0b5f5"/>
<rect x="701.0" y="509.3" width="11.3" height="31.0" fill="#e5e6fa"/>
<rect x="712.0" y="509.3" width="5.3" height="31.0" fill="#f8d8d8"/>
<rect x="717.0" y="509.3" width="23.3" height="31.0" fill="#f56060"/>
<rect x="740.0" y="509.3" width="32.3" height="31.0" fill="#fcefef"/>
<rect x="772.0" y="509.3" width="10.3" height="31.0" fill="#fbe0e0"/>
<rect x="782.0" y="509.3" width="39.3" height="31.0" fill="#f8c4c4"/>
<rect x="821.0" y="509.3" width="7.3" height="31.0" fill="#fbe0e0"/>
<rect x="828.0" y="509.3" width="34.3" height="31.0" fill="#f59595"/>
<rect x="862.0" y="509.3" width="10.3" height="31.0" fill="#4048ee"/>
<rect x="872.0" y="509.3" width="12.3" height="31.0" fill="#9098f3"/>
<rect x="884.0" y="509.3" width="5.3" height="31.0" fill="#5a62ee"/>
<rect x="889.0" y="509.3" width="4.3" height="31.0" fill="#d0d3f8"/>
<rect x="893.0" y="509.3" width="4.3" height="31.0" fill="#e8e9fa"/>
<rect x="897.0" y="509.3" width="28.3" height="31.0" fill="#6a72ee"/>
<rect x="925.0" y="509.3" width="15.3" height="31.0" fill="#a0a6f4"/>
<rect x="940.0" y="509.3" width="9.3" height="31.0" fill="#2830e8"/>
<rect x="445.5" y="573.0" width="2.8" height="30.6" fill="#f8dede"/>
<rect x="448.0" y="573.0" width="6.3" height="30.6" fill="#c5c8f6"/>
<rect x="454.0" y="573.0" width="7.3" height="30.6" fill="#f2f0f8"/>
<rect x="461.0" y="573.0" width="12.3" height="30.6" fill="#f8d0d0"/>
<rect x="473.0" y="573.0" width="11.3" height="30.6" fill="#f24848"/>
<rect x="484.0" y="573.0" width="13.3" height="30.6" fill="#f59090"/>
<rect x="497.0" y="573.0" width="20.3" height="30.6" fill="#f57575"/>
<rect x="517.0" y="573.0" width="87.3" height="30.6" fill="#f54848"/>
<rect x="604.0" y="573.0" width="5.3" height="30.6" fill="#5a62ee"/>
<rect x="609.0" y="573.0" width="4.3" height="30.6" fill="#d5d8f8"/>
<rect x="613.0" y="573.0" width="13.3" height="30.6" fill="#7a82f0"/>
<rect x="626.0" y="573.0" width="18.3" height="30.6" fill="#a8adf5"/>
<rect x="644.0" y="573.0" width="19.3" height="30.6" fill="#8a91f2"/>
<rect x="663.0" y="573.0" width="9.3" height="30.6" fill="#5058ee"/>
<rect x="672.0" y="573.0" width="20.3" height="30.6" fill="#b0b5f5"/>
<rect x="692.0" y="573.0" width="31.3" height="30.6" fill="#c5c8f6"/>
<rect x="723.0" y="573.0" width="14.3" height="30.6" fill="#f0f0fa"/>
<rect x="737.0" y="573.0" width="14.3" height="30.6" fill="#f8ecec"/>
<rect x="751.0" y="573.0" width="22.3" height="30.6" fill="#d0d3f8"/>
<rect x="773.0" y="573.0" width="27.3" height="30.6" fill="#7a82f0"/>
<rect x="800.0" y="573.0" width="41.3" height="30.6" fill="#5e66ee"/>
<rect x="841.0" y="573.0" width="9.9" height="30.6" fill="#d0d3f8"/>
<rect x="850.6" y="573.0" width="30.7" height="30.6" fill="#a8adf5"/>
<rect x="881.0" y="573.0" width="32.3" height="30.6" fill="#8088f2"/>
<rect x="913.0" y="573.0" width="21.3" height="30.6" fill="#9098f3"/>
<rect x="934.0" y="573.0" width="6.3" height="30.6" fill="#3a42ec"/>
<rect x="940.0" y="573.0" width="5.3" height="30.6" fill="#8088f2"/>
<rect x="945.0" y="573.0" width="5.0" height="30.6" fill="#6068ee"/>
<rect x="445.5" y="603.3" width="4.8" height="31.4" fill="#5a62ee"/>
<rect x="450.0" y="603.3" width="11.3" height="31.4" fill="#8088f2"/>
<rect x="461.0" y="603.3" width="12.3" height="31.4" fill="#a0a6f4"/>
<rect x="473.0" y="603.3" width="11.3" height="31.4" fill="#7078f0"/>
<rect x="484.0" y="603.3" width="13.3" height="31.4" fill="#9098f3"/>
<rect x="497.0" y="603.3" width="20.3" height="31.4" fill="#7078f0"/>
<rect x="517.0" y="603.3" width="13.3" height="31.4" fill="#c0c4f6"/>
<rect x="530.0" y="603.3" width="15.3" height="31.4" fill="#f0f0fa"/>
<rect x="545.0" y="603.3" width="15.3" height="31.4" fill="#dadcf8"/>
<rect x="560.0" y="603.3" width="5.3" height="31.4" fill="#f5f5fa"/>
<rect x="565.0" y="603.3" width="39.3" height="31.4" fill="#b0b5f5"/>
<rect x="604.0" y="603.3" width="5.3" height="31.4" fill="#d8daf8"/>
<rect x="609.0" y="603.3" width="3.3" height="31.4" fill="#7078f0"/>
<rect x="612.0" y="603.3" width="32.3" height="31.4" fill="#d0d3f8"/>
<rect x="644.0" y="603.3" width="19.3" height="31.4" fill="#f0f0fa"/>
<rect x="663.0" y="603.3" width="7.3" height="31.4" fill="#f5e0e0"/>
<rect x="670.0" y="603.3" width="103.3" height="31.4" fill="#f54545"/>
<rect x="773.0" y="603.3" width="35.3" height="31.4" fill="#f8c8c8"/>
<rect x="808.0" y="603.3" width="7.3" height="31.4" fill="#f58080"/>
<rect x="815.0" y="603.3" width="27.3" height="31.4" fill="#f59595"/>
<rect x="842.0" y="603.3" width="37.3" height="31.4" fill="#f54545"/>
<rect x="879.0" y="603.3" width="56.3" height="31.4" fill="#f56a6a"/>
<rect x="935.0" y="603.3" width="5.3" height="31.4" fill="#f8b0b0"/>
<rect x="940.0" y="603.3" width="10.0" height="31.4" fill="#f54040"/>
<rect x="445.5" y="634.4" width="27.8" height="30.8" fill="#f24848"/>
<rect x="473.0" y="634.4" width="11.3" height="30.8" fill="#e8e9fa"/>
<rect x="484.0" y="634.4" width="13.3" height="30.8" fill="#f57070"/>
<rect x="497.0" y="634.4" width="15.3" height="30.8" fill="#f8c0c0"/>
<rect x="512.0" y="634.4" width="5.3" height="30.8" fill="#f59090"/>
<rect x="517.0" y="634.4" width="13.3" height="30.8" fill="#c5c8f6"/>
<rect x="530.0" y="634.4" width="35.3" height="30.8" fill="#adb2f5"/>
<rect x="565.0" y="634.4" width="8.3" height="30.8" fill="#f8dada"/>
<rect x="573.0" y="634.4" width="10.3" height="30.8" fill="#e5e6fa"/>
<rect x="583.0" y="634.4" width="12.3" height="30.8" fill="#d8daf8"/>
<rect x="595.0" y="634.4" width="9.3" height="30.8" fill="#f5f5fa"/>
<rect x="604.0" y="634.4" width="5.3" height="30.8" fill="#f5a0a0"/>
<rect x="609.0" y="634.4" width="17.3" height="30.8" fill="#e0e2f8"/>
<rect x="626.0" y="634.4" width="37.3" height="30.8" fill="#b5b9f5"/>
<rect x="663.0" y="634.4" width="8.3" height="30.8" fill="#f57070"/>
<rect x="671.0" y="634.4" width="19.3" height="30.8" fill="#c0c4f6"/>
<rect x="690.0" y="634.4" width="3.3" height="30.8" fill="#e0e2f8"/>
<rect x="693.0" y="634.4" width="57.3" height="30.8" fill="#b0b5f5"/>
<rect x="750.0" y="634.4" width="23.3" height="30.8" fill="#9098f3"/>
<rect x="773.0" y="634.4" width="27.3" height="30.8" fill="#a8adf5"/>
<rect x="800.0" y="634.4" width="12.3" height="30.8" fill="#e0e2f8"/>
<rect x="812.0" y="634.4" width="3.3" height="30.8" fill="#a8adf5"/>
<rect x="815.0" y="634.4" width="27.3" height="30.8" fill="#9ca2f3"/>
<rect x="842.0" y="634.4" width="8.3" height="30.8" fill="#7a82f0"/>
<rect x="850.0" y="634.4" width="29.3" height="30.8" fill="#aeb3f5"/>
<rect x="879.0" y="634.4" width="56.3" height="30.8" fill="#9098f3"/>
<rect x="935.0" y="634.4" width="15.0" height="30.8" fill="#e8e9fa"/>
<rect x="445.5" y="664.9" width="12.8" height="31.6" fill="#ece4f2"/>
<rect x="458.0" y="664.9" width="15.3" height="31.6" fill="#a0a6f4"/>
<rect x="473.0" y="664.9" width="11.3" height="31.6" fill="#f5e8ee"/>
<rect x="484.0" y="664.9" width="13.3" height="31.6" fill="#7a82f0"/>
<rect x="497.0" y="664.9" width="15.3" height="31.6" fill="#8a91f2"/>
<rect x="512.0" y="664.9" width="18.3" height="31.6" fill="#b5b9f5"/>
<rect x="530.0" y="664.9" width="35.3" height="31.6" fill="#8a91f2"/>
<rect x="565.0" y="664.9" width="17.3" height="31.6" fill="#8088f2"/>
<rect x="582.0" y="664.9" width="22.3" height="31.6" fill="#a8adf5"/>
<rect x="604.0" y="664.9" width="5.3" height="31.6" fill="#f5a8a8"/>
<rect x="609.0" y="664.9" width="53.3" height="31.6" fill="#f54545"/>
<rect x="662.0" y="664.9" width="7.3" height="31.6" fill="#ececfa"/>
<rect x="669.0" y="664.9" width="21.3" height="31.6" fill="#b5b9f5"/>
<rect x="690.0" y="664.9" width="34.3" height="31.6" fill="#aeb3f5"/>
<rect x="724.0" y="664.9" width="26.3" height="31.6" fill="#9098f3"/>
<rect x="750.0" y="664.9" width="23.3" height="31.6" fill="#d0d3f8"/>
<rect x="773.0" y="664.9" width="36.3" height="31.6" fill="#f55a5a"/>
<rect x="809.0" y="664.9" width="32.3" height="31.6" fill="#f58282"/>
<rect x="841.0" y="664.9" width="9.3" height="31.6" fill="#f5f3f8"/>
<rect x="850.0" y="664.9" width="28.3" height="31.6" fill="#e6e8f9"/>
<rect x="878.0" y="664.9" width="62.3" height="31.6" fill="#f8b5b5"/>
<rect x="940.0" y="664.9" width="10.0" height="31.6" fill="#e0e2f8"/>
</g>
<rect x="449.3" y="418.2" width="2.0" height="30.2" fill="#000" fill-opacity="0.01"/>
<rect x="451.3" y="418.2" width="3.0" height="30.2" fill="#fff" fill-opacity="0.11"/>
<rect x="454.3" y="418.2" width="3.0" height="30.2" fill="#fff" fill-opacity="0.05"/>
<rect x="457.3" y="418.2" width="2.0" height="30.2" fill="#fff" fill-opacity="0.05"/>
<rect x="459.3" y="418.2" width="2.0" height="30.2" fill="#fff" fill-opacity="0.11"/>
<rect x="461.3" y="418.2" width="1.5" height="30.2" fill="#000" fill-opacity="0.03"/>
<rect x="462.8" y="418.2" width="1.0" height="30.2" fill="#000" fill-opacity="0.03"/>
<rect x="463.8" y="418.2" width="1.5" height="30.2" fill="#fff" fill-opacity="0.14"/>
<rect x="465.3" y="418.2" width="2.0" height="30.2" fill="#fff" fill-opacity="0.10"/>
<rect x="467.3" y="418.2" width="3.0" height="30.2" fill="#fff" fill-opacity="0.14"/>
<rect x="470.3" y="418.2" width="1.5" height="30.2" fill="#fff" fill-opacity="0.11"/>
<rect x="471.8" y="418.2" width="1.5" height="30.2" fill="#fff" fill-opacity="0.11"/>
<rect x="473.3" y="418.2" width="1.0" height="30.2" fill="#000" fill-opacity="0.03"/>
<rect x="474.3" y="418.2" width="2.0" height="30.2" fill="#000" fill-opacity="0.03"/>
<rect x="476.3" y="418.2" width="2.0" height="30.2" fill="#000" fill-opacity="0.05"/>
<rect x="478.3" y="418.2" width="2.0" height="30.2" fill="#fff" fill-opacity="0.14"/>
<rect x="484.3" y="418.2" width="1.0" height="30.2" fill="#000" fill-opacity="0.03"/>
<rect x="485.3" y="418.2" width="2.0" height="30.2" fill="#000" fill-opacity="0.02"/>
<rect x="487.3" y="418.2" width="1.0" height="30.2" fill="#fff" fill-opacity="0.09"/>
<rect x="488.3" y="418.2" width="2.0" height="30.2" fill="#fff" fill-opacity="0.10"/>
<rect x="495.3" y="418.2" width="2.0" height="30.2" fill="#fff" fill-opacity="0.08"/>
<rect x="497.3" y="418.2" width="2.0" height="30.2" fill="#000" fill-opacity="0.03"/>
<rect x="500.3" y="418.2" width="2.0" height="30.2" fill="#000" fill-opacity="0.01"/>
<rect x="502.3" y="418.2" width="4.0" height="30.2" fill="#000" fill-opacity="0.04"/>
<rect x="510.3" y="418.2" width="2.0" height="30.2" fill="#000" fill-opacity="0.05"/>
<rect x="512.3" y="418.2" width="2.0" height="30.2" fill="#fff" fill-opacity="0.10"/>
<rect x="514.3" y="418.2" width="1.5" height="30.2" fill="#000" fill-opacity="0.03"/>
<rect x="517.3" y="418.2" width="1.5" height="30.2" fill="#000" fill-opacity="0.03"/>
<rect x="518.8" y="418.2" width="2.0" height="30.2" fill="#fff" fill-opacity="0.09"/>
<rect x="520.8" y="418.2" width="3.0" height="30.2" fill="#fff" fill-opacity="0.06"/>
<rect x="525.8" y="418.2" width="2.0" height="30.2" fill="#000" fill-opacity="0.05"/>
<rect x="531.8" y="418.2" width="1.5" height="30.2" fill="#fff" fill-opacity="0.06"/>
<rect x="533.3" y="418.2" width="1.5" height="30.2" fill="#000" fill-opacity="0.01"/>
<rect x="534.8" y="418.2" width="3.0" height="30.2" fill="#fff" fill-opacity="0.07"/>
<rect x="537.8" y="418.2" width="1.5" height="30.2" fill="#fff" fill-opacity="0.08"/>
<rect x="539.3" y="418.2" width="3.0" height="30.2" fill="#fff" fill-opacity="0.06"/>
<rect x="545.3" y="418.2" width="4.0" height="30.2" fill="#000" fill-opacity="0.01"/>
<rect x="553.3" y="418.2" width="2.0" height="30.2" fill="#fff" fill-opacity="0.09"/>
<rect x="555.3" y="418.2" width="2.0" height="30.2" fill="#000" fill-opacity="0.01"/>
<rect x="558.3" y="418.2" width="2.0" height="30.2" fill="#fff" fill-opacity="0.08"/>
<rect x="560.3" y="418.2" width="1.0" height="30.2" fill="#fff" fill-opacity="0.11"/>
<rect x="561.3" y="418.2" width="3.0" height="30.2" fill="#fff" fill-opacity="0.08"/>
<rect x="564.3" y="418.2" width="1.0" height="30.2" fill="#fff" fill-opacity="0.06"/>
<rect x="565.3" y="418.2" width="2.0" height="30.2" fill="#fff" fill-opacity="0.07"/>
<rect x="567.3" y="418.2" width="2.0" height="30.2" fill="#000" fill-opacity="0.03"/>
<rect x="570.3" y="418.2" width="2.0" height="30.2" fill="#000" fill-opacity="0.02"/>
<rect x="572.3" y="418.2" width="1.5" height="30.2" fill="#fff" fill-opacity="0.08"/>
<rect x="573.8" y="418.2" width="2.0" height="30.2" fill="#000" fill-opacity="0.04"/>
<rect x="575.8" y="418.2" width="3.0" height="30.2" fill="#fff" fill-opacity="0.15"/>
<rect x="578.8" y="418.2" width="3.0" height="30.2" fill="#fff" fill-opacity="0.12"/>
<rect x="584.8" y="418.2" width="1.0" height="30.2" fill="#000" fill-opacity="0.02"/>
<rect x="589.8" y="418.2" width="3.0" height="30.2" fill="#000" fill-opacity="0.03"/>
<rect x="592.8" y="418.2" width="4.0" height="30.2" fill="#fff" fill-opacity="0.14"/>
<rect x="598.3" y="418.2" width="2.0" height="30.2" fill="#000" fill-opacity="0.02"/>
<rect x="600.3" y="418.2" width="3.0" height="30.2" fill="#000" fill-opacity="0.04"/>
<rect x="604.3" y="418.2" width="2.0" height="30.2" fill="#fff" fill-opacity="0.12"/>
<rect x="606.3" y="418.2" width="2.0" height="30.2" fill="#fff" fill-opacity="0.15"/>
<rect x="610.3" y="418.2" width="2.0" height="30.2" fill="#fff" fill-opacity="0.05"/>
<rect x="612.3" y="418.2" width="2.0" height="30.2" fill="#fff" fill-opacity="0.06"/>
<rect x="634.3" y="418.2" width="2.0" height="30.2" fill="#fff" fill-opacity="0.15"/>
<rect x="636.3" y="418.2" width="4.0" height="30.2" fill="#fff" fill-opacity="0.09"/>
<rect x="640.3" y="418.2" width="1.0" height="30.2" fill="#000" fill-opacity="0.02"/>
<rect x="641.3" y="418.2" width="1.5" height="30.2" fill="#fff" fill-opacity="0.11"/>
<rect x="644.8" y="418.2" width="1.5" height="30.2" fill="#000" fill-opacity="0.03"/>
<rect x="646.3" y="418.2" width="2.0" height="30.2" fill="#000" fill-opacity="0.02"/>
<rect x="648.3" y="418.2" width="3.0" height="30.2" fill="#000" fill-opacity="0.01"/>
<rect x="651.3" y="418.2" width="4.0" height="30.2" fill="#000" fill-opacity="0.03"/>
<rect x="655.3" y="418.2" width="1.5" height="30.2" fill="#fff" fill-opacity="0.14"/>
<rect x="656.8" y="418.2" width="1.5" height="30.2" fill="#fff" fill-opacity="0.07"/>
<rect x="658.3" y="418.2" width="3.0" height="30.2" fill="#fff" fill-opacity="0.11"/>
<rect x="661.3" y="418.2" width="2.0" height="30.2" fill="#000" fill-opacity="0.04"/>
<rect x="666.3" y="418.2" width="4.0" height="30.2" fill="#000" fill-opacity="0.05"/>
<rect x="672.3" y="418.2" width="3.0" height="30.2" fill="#fff" fill-opacity="0.06"/>
<rect x="675.3" y="418.2" width="3.0" height="30.2" fill="#fff" fill-opacity="0.09"/>
<rect x="678.3" y="418.2" width="1.5" height="30.2" fill="#000" fill-opacity="0.04"/>
<rect x="679.8" y="418.2" width="1.5" height="30.2" fill="#fff" fill-opacity="0.10"/>
<rect x="681.3" y="418.2" width="4.0" height="30.2" fill="#fff" fill-opacity="0.05"/>
<rect x="685.3" y="418.2" width="4.0" height="30.2" fill="#000" fill-opacity="0.03"/>
<rect x="690.3" y="418.2" width="1.0" height="30.2" fill="#fff" fill-opacity="0.07"/>
<rect x="691.3" y="418.2" width="1.0" height="30.2" fill="#000" fill-opacity="0.03"/>
<rect x="692.3" y="418.2" width="1.0" height="30.2" fill="#fff" fill-opacity="0.11"/>
<rect x="693.3" y="418.2" width="3.0" height="30.2" fill="#000" fill-opacity="0.02"/>
<rect x="696.3" y="418.2" width="2.0" height="30.2" fill="#000" fill-opacity="0.03"/>
<rect x="698.3" y="418.2" width="2.0" height="30.2" fill="#000" fill-opacity="0.02"/>
<rect x="706.8" y="418.2" width="1.5" height="30.2" fill="#fff" fill-opacity="0.09"/>
<rect x="708.3" y="418.2" width="2.0" height="30.2" fill="#fff" fill-opacity="0.07"/>
<rect x="710.3" y="418.2" width="1.0" height="30.2" fill="#fff" fill-opacity="0.08"/>
<rect x="713.8" y="418.2" width="4.0" height="30.2" fill="#000" fill-opacity="0.02"/>
<rect x="719.3" y="418.2" width="1.5" height="30.2" fill="#000" fill-opacity="0.01"/>
<rect x="720.8" y="418.2" width="2.0" height="30.2" fill="#fff" fill-opacity="0.12"/>
<rect x="722.8" y="418.2" width="1.5" height="30.2" fill="#fff" fill-opacity="0.09"/>
<rect x="724.3" y="418.2" width="3.0" height="30.2" fill="#fff" fill-opacity="0.09"/>
<rect x="727.3" y="418.2" width="2.0" height="30.2" fill="#fff" fill-opacity="0.13"/>
<rect x="729.3" y="418.2" width="1.0" height="30.2" fill="#fff" fill-opacity="0.10"/>
<rect x="730.3" y="418.2" width="4.0" height="30.2" fill="#fff" fill-opacity="0.08"/>
<rect x="734.3" y="418.2" width="3.0" height="30.2" fill="#fff" fill-opacity="0.16"/>
<rect x="739.8" y="418.2" width="1.0" height="30.2" fill="#fff" fill-opacity="0.07"/>
<rect x="740.8" y="418.2" width="1.5" height="30.2" fill="#fff" fill-opacity="0.06"/>
<rect x="748.3" y="418.2" width="2.0" height="30.2" fill="#fff" fill-opacity="0.10"/>
<rect x="750.3" y="418.2" width="3.0" height="30.2" fill="#000" fill-opacity="0.04"/>
<rect x="753.3" y="418.2" width="1.0" height="30.2" fill="#fff" fill-opacity="0.14"/>
<rect x="754.3" y="418.2" width="1.5" height="30.2" fill="#fff" fill-opacity="0.05"/>
<rect x="755.8" y="418.2" width="1.0" height="30.2" fill="#000" fill-opacity="0.04"/>
<rect x="756.8" y="418.2" width="1.0" height="30.2" fill="#000" fill-opacity="0.02"/>
<rect x="759.8" y="418.2" width="2.0" height="30.2" fill="#fff" fill-opacity="0.16"/>
<rect x="763.8" y="418.2" width="2.0" height="30.2" fill="#000" fill-opacity="0.01"/>
<rect x="765.8" y="418.2" width="4.0" height="30.2" fill="#fff" fill-opacity="0.05"/>
<rect x="769.8" y="418.2" width="1.5" height="30.2" fill="#fff" fill-opacity="0.06"/>
<rect x="771.3" y="418.2" width="2.0" height="30.2" fill="#000" fill-opacity="0.03"/>
<rect x="773.3" y="418.2" width="1.5" height="30.2" fill="#fff" fill-opacity="0.10"/>
<rect x="774.8" y="418.2" width="1.5" height="30.2" fill="#fff" fill-opacity="0.14"/>
<rect x="776.3" y="418.2" width="2.0" height="30.2" fill="#fff" fill-opacity="0.04"/>
<rect x="778.3" y="418.2" width="3.0" height="30.2" fill="#000" fill-opacity="0.02"/>
<rect x="781.3" y="418.2" width="2.0" height="30.2" fill="#fff" fill-opacity="0.09"/>
<rect x="787.3" y="418.2" width="2.0" height="30.2" fill="#000" fill-opacity="0.03"/>
<rect x="791.3" y="418.2" width="2.0" height="30.2" fill="#000" fill-opacity="0.05"/>
<rect x="793.3" y="418.2" width="2.0" height="30.2" fill="#fff" fill-opacity="0.15"/>
<rect x="795.3" y="418.2" width="4.0" height="30.2" fill="#000" fill-opacity="0.03"/>
<rect x="801.3" y="418.2" width="1.5" height="30.2" fill="#fff" fill-opacity="0.12"/>
<rect x="802.8" y="418.2" width="2.0" height="30.2" fill="#fff" fill-opacity="0.05"/>
<rect x="808.8" y="418.2" width="3.0" height="30.2" fill="#000" fill-opacity="0.02"/>
<rect x="811.8" y="418.2" width="1.5" height="30.2" fill="#000" fill-opacity="0.01"/>
<rect x="813.3" y="418.2" width="1.5" height="30.2" fill="#fff" fill-opacity="0.09"/>
<rect x="814.8" y="418.2" width="2.0" height="30.2" fill="#fff" fill-opacity="0.08"/>
<rect x="816.8" y="418.2" width="3.0" height="30.2" fill="#fff" fill-opacity="0.04"/>
<rect x="819.8" y="418.2" width="2.0" height="30.2" fill="#fff" fill-opacity="0.06"/>
<rect x="821.8" y="418.2" width="2.0" height="30.2" fill="#fff" fill-opacity="0.10"/>
<rect x="823.8" y="418.2" width="3.0" height="30.2" fill="#000" fill-opacity="0.02"/>
<rect x="826.8" y="418.2" width="1.0" height="30.2" fill="#fff" fill-opacity="0.14"/>
<rect x="827.8" y="418.2" width="1.5" height="30.2" fill="#fff" fill-opacity="0.05"/>
<rect x="829.3" y="418.2" width="1.0" height="30.2" fill="#fff" fill-opacity="0.12"/>
<rect x="830.3" y="418.2" width="1.0" height="30.2" fill="#000" fill-opacity="0.03"/>
<rect x="831.3" y="418.2" width="1.5" height="30.2" fill="#000" fill-opacity="0.04"/>
<rect x="832.8" y="418.2" width="3.0" height="30.2" fill="#fff" fill-opacity="0.08"/>
<rect x="835.8" y="418.2" width="2.0" height="30.2" fill="#fff" fill-opacity="0.13"/>
<rect x="837.8" y="418.2" width="4.0" height="30.2" fill="#fff" fill-opacity="0.14"/>
<rect x="845.8" y="418.2" width="4.0" height="30.2" fill="#fff" fill-opacity="0.12"/>
<rect x="849.8" y="418.2" width="3.0" height="30.2" fill="#fff" fill-opacity="0.10"/>
<rect x="852.8" y="418.2" width="3.0" height="30.2" fill="#000" fill-opacity="0.04"/>
<rect x="859.8" y="418.2" width="4.0" height="30.2" fill="#000" fill-opacity="0.04"/>
<rect x="863.8" y="418.2" width="1.5" height="30.2" fill="#fff" fill-opacity="0.05"/>
<rect x="865.3" y="418.2" width="4.0" height="30.2" fill="#fff" fill-opacity="0.05"/>
<rect x="869.3" y="418.2" width="2.0" height="30.2" fill="#000" fill-opacity="0.04"/>
<rect x="871.3" y="418.2" width="4.0" height="30.2" fill="#000" fill-opacity="0.02"/>
<rect x="875.3" y="418.2" width="2.0" height="30.2" fill="#fff" fill-opacity="0.14"/>
<rect x="881.3" y="418.2" width="3.0" height="30.2" fill="#fff" fill-opacity="0.10"/>
<rect x="884.3" y="418.2" width="4.0" height="30.2" fill="#000" fill-opacity="0.02"/>
<rect x="889.3" y="418.2" width="1.5" height="30.2" fill="#000" fill-opacity="0.02"/>
<rect x="890.8" y="418.2" width="4.0" height="30.2" fill="#000" fill-opacity="0.03"/>
<rect x="894.8" y="418.2" width="2.0" height="30.2" fill="#fff" fill-opacity="0.15"/>
<rect x="898.8" y="418.2" width="3.0" height="30.2" fill="#000" fill-opacity="0.02"/>
<rect x="901.8" y="418.2" width="3.0" height="30.2" fill="#fff" fill-opacity="0.07"/>
<rect x="904.8" y="418.2" width="4.0" height="30.2" fill="#000" fill-opacity="0.03"/>
<rect x="908.8" y="418.2" width="1.5" height="30.2" fill="#fff" fill-opacity="0.05"/>
<rect x="912.3" y="418.2" width="1.0" height="30.2" fill="#000" fill-opacity="0.04"/>
<rect x="913.3" y="418.2" width="2.0" height="30.2" fill="#000" fill-opacity="0.02"/>
<rect x="915.3" y="418.2" width="2.0" height="30.2" fill="#000" fill-opacity="0.01"/>
<rect x="917.3" y="418.2" width="3.0" height="30.2" fill="#fff" fill-opacity="0.16"/>
<rect x="920.3" y="418.2" width="2.0" height="30.2" fill="#fff" fill-opacity="0.10"/>
<rect x="927.3" y="418.2" width="2.0" height="30.2" fill="#fff" fill-opacity="0.15"/>
<rect x="929.3" y="418.2" width="1.5" height="30.2" fill="#fff" fill-opacity="0.05"/>
<rect x="930.8" y="418.2" width="4.0" height="30.2" fill="#000" fill-opacity="0.05"/>
<rect x="934.8" y="418.2" width="1.5" height="30.2" fill="#000" fill-opacity="0.04"/>
<rect x="938.3" y="418.2" width="4.0" height="30.2" fill="#fff" fill-opacity="0.10"/>
<rect x="942.3" y="418.2" width="2.0" height="30.2" fill="#fff" fill-opacity="0.06"/>
<rect x="944.3" y="418.2" width="2.0" height="30.2" fill="#000" fill-opacity="0.03"/>
<rect x="946.3" y="418.2" width="2.7" height="30.2" fill="#fff" fill-opacity="0.08"/>
<rect x="447.3" y="448.4" width="2.0" height="30.5" fill="#fff" fill-opacity="0.08"/>
<rect x="451.3" y="448.4" width="2.0" height="30.5" fill="#fff" fill-opacity="0.15"/>
<rect x="453.3" y="448.4" width="4.0" height="30.5" fill="#fff" fill-opacity="0.13"/>
<rect x="457.3" y="448.4" width="2.0" height="30.5" fill="#fff" fill-opacity="0.09"/>
<rect x="459.3" y="448.4" width="3.0" height="30.5" fill="#fff" fill-opacity="0.15"/>
<rect x="464.3" y="448.4" width="2.0" height="30.5" fill="#fff" fill-opacity="0.14"/>
<rect x="466.3" y="448.4" width="2.0" height="30.5" fill="#000" fill-opacity="0.02"/>
<rect x="468.3" y="448.4" width="2.0" height="30.5" fill="#fff" fill-opacity="0.08"/>
<rect x="474.3" y="448.4" width="4.0" height="30.5" fill="#fff" fill-opacity="0.15"/>
<rect x="478.3" y="448.4" width="3.0" height="30.5" fill="#000" fill-opacity="0.04"/>
<rect x="482.3" y="448.4" width="2.0" height="30.5" fill="#000" fill-opacity="0.04"/>
<rect x="488.3" y="448.4" width="2.0" height="30.5" fill="#fff" fill-opacity="0.15"/>
<rect x="490.3" y="448.4" width="1.5" height="30.5" fill="#fff" fill-opacity="0.09"/>
<rect x="491.8" y="448.4" width="2.0" height="30.5" fill="#fff" fill-opacity="0.13"/>
<rect x="493.8" y="448.4" width="4.0" height="30.5" fill="#fff" fill-opacity="0.12"/>
<rect x="497.8" y="448.4" width="2.0" height="30.5" fill="#000" fill-opacity="0.04"/>
<rect x="499.8" y="448.4" width="1.0" height="30.5" fill="#fff" fill-opacity="0.06"/>
<rect x="500.8" y="448.4" width="1.5" height="30.5" fill="#000" fill-opacity="0.04"/>
<rect x="502.3" y="448.4" width="3.0" height="30.5" fill="#fff" fill-opacity="0.15"/>
<rect x="505.3" y="448.4" width="2.0" height="30.5" fill="#fff" fill-opacity="0.11"/>
<rect x="507.3" y="448.4" width="1.5" height="30.5" fill="#fff" fill-opacity="0.08"/>
<rect x="508.8" y="448.4" width="1.0" height="30.5" fill="#fff" fill-opacity="0.08"/>
<rect x="509.8" y="448.4" width="3.0" height="30.5" fill="#fff" fill-opacity="0.04"/>
<rect x="512.8" y="448.4" width="2.0" height="30.5" fill="#fff" fill-opacity="0.13"/>
<rect x="514.8" y="448.4" width="1.5" height="30.5" fill="#fff" fill-opacity="0.08"/>
<rect x="516.3" y="448.4" width="1.0" height="30.5" fill="#000" fill-opacity="0.03"/>
<rect x="517.3" y="448.4" width="2.0" height="30.5" fill="#fff" fill-opacity="0.10"/>
<rect x="523.3" y="448.4" width="1.5" height="30.5" fill="#fff" fill-opacity="0.15"/>
<rect x="524.8" y="448.4" width="2.0" height="30.5" fill="#fff" fill-opacity="0.09"/>
<rect x="528.8" y="448.4" width="1.0" height="30.5" fill="#fff" fill-opacity="0.09"/>
<rect x="531.8" y="448.4" width="2.0" height="30.5" fill="#fff" fill-opacity="0.09"/>
<rect x="536.8" y="448.4" width="2.0" height="30.5" fill="#fff" fill-opacity="0.05"/>
<rect x="538.8" y="448.4" width="1.5" height="30.5" fill="#fff" fill-opacity="0.16"/>
<rect x="541.3" y="448.4" width="4.0" height="30.5" fill="#000" fill-opacity="0.04"/>
<rect x="545.3" y="448.4" width="2.0" height="30.5" fill="#fff" fill-opacity="0.13"/>
<rect x="548.3" y="448.4" width="1.5" height="30.5" fill="#000" fill-opacity="0.01"/>
<rect x="549.8" y="448.4" width="4.0" height="30.5" fill="#fff" fill-opacity="0.06"/>
<rect x="553.8" y="448.4" width="2.0" height="30.5" fill="#000" fill-opacity="0.03"/>
<rect x="555.8" y="448.4" width="1.0" height="30.5" fill="#fff" fill-opacity="0.08"/>
<rect x="556.8" y="448.4" width="3.0" height="30.5" fill="#fff" fill-opacity="0.07"/>
<rect x="559.8" y="448.4" width="3.0" height="30.5" fill="#fff" fill-opacity="0.10"/>
<rect x="562.8" y="448.4" width="2.0" height="30.5" fill="#fff" fill-opacity="0.08"/>
<rect x="564.8" y="448.4" width="1.5" height="30.5" fill="#000" fill-opacity="0.02"/>
<rect x="566.3" y="448.4" width="1.5" height="30.5" fill="#fff" fill-opacity="0.09"/>
<rect x="567.8" y="448.4" width="4.0" height="30.5" fill="#fff" fill-opacity="0.04"/>
<rect x="573.8" y="448.4" width="4.0" height="30.5" fill="#fff" fill-opacity="0.07"/>
<rect x="577.8" y="448.4" width="4.0" height="30.5" fill="#fff" fill-opacity="0.08"/>
<rect x="581.8" y="448.4" width="2.0" height="30.5" fill="#fff" fill-opacity="0.08"/>
<rect x="583.8" y="448.4" width="2.0" height="30.5" fill="#fff" fill-opacity="0.09"/>
<rect x="590.8" y="448.4" width="1.0" height="30.5" fill="#fff" fill-opacity="0.16"/>
<rect x="593.8" y="448.4" width="1.5" height="30.5" fill="#fff" fill-opacity="0.07"/>
<rect x="595.3" y="448.4" width="2.0" height="30.5" fill="#fff" fill-opacity="0.11"/>
<rect x="597.3" y="448.4" width="3.0" height="30.5" fill="#fff" fill-opacity="0.07"/>
<rect x="604.8" y="448.4" width="1.0" height="30.5" fill="#fff" fill-opacity="0.16"/>
<rect x="605.8" y="448.4" width="1.5" height="30.5" fill="#fff" fill-opacity="0.13"/>
<rect x="607.3" y="448.4" width="1.5" height="30.5" fill="#fff" fill-opacity="0.15"/>
<rect x="608.8" y="448.4" width="2.0" height="30.5" fill="#000" fill-opacity="0.05"/>
<rect x="610.8" y="448.4" width="1.5" height="30.5" fill="#fff" fill-opacity="0.06"/>
<rect x="612.3" y="448.4" width="3.0" height="30.5" fill="#000" fill-opacity="0.01"/>
<rect x="615.3" y="448.4" width="4.0" height="30.5" fill="#000" fill-opacity="0.04"/>
<rect x="619.3" y="448.4" width="2.0" height="30.5" fill="#fff" fill-opacity="0.05"/>
<rect x="621.3" y="448.4" width="1.0" height="30.5" fill="#fff" fill-opacity="0.08"/>
<rect x="622.3" y="448.4" width="1.0" height="30.5" fill="#000" fill-opacity="0.04"/>
<rect x="623.3" y="448.4" width="2.0" height="30.5" fill="#fff" fill-opacity="0.14"/>
<rect x="625.3" y="448.4" width="2.0" height="30.5" fill="#fff" fill-opacity="0.12"/>
<rect x="627.3" y="448.4" width="1.5" height="30.5" fill="#fff" fill-opacity="0.15"/>
<rect x="628.8" y="448.4" width="1.5" height="30.5" fill="#fff" fill-opacity="0.13"/>
<rect x="630.3" y="448.4" width="2.0" height="30.5" fill="#fff" fill-opacity="0.09"/>
<rect x="636.3" y="448.4" width="1.0" height="30.5" fill="#fff" fill-opacity="0.10"/>
<rect x="637.3" y="448.4" width="1.0" height="30.5" fill="#fff" fill-opacity="0.13"/>
<rect x="638.3" y="448.4" width="3.0" height="30.5" fill="#fff" fill-opacity="0.07"/>
<rect x="641.3" y="448.4" width="3.0" height="30.5" fill="#fff" fill-opacity="0.13"/>
<rect x="644.3" y="448.4" width="4.0" height="30.5" fill="#fff" fill-opacity="0.07"/>
<rect x="648.3" y="448.4" width="1.0" height="30.5" fill="#000" fill-opacity="0.03"/>
<rect x="653.3" y="448.4" width="1.0" height="30.5" fill="#fff" fill-opacity="0.07"/>
<rect x="654.3" y="448.4" width="2.0" height="30.5" fill="#000" fill-opacity="0.03"/>
<rect x="661.8" y="448.4" width="1.5" height="30.5" fill="#fff" fill-opacity="0.15"/>
<rect x="665.3" y="448.4" width="1.5" height="30.5" fill="#000" fill-opacity="0.02"/>
<rect x="666.8" y="448.4" width="2.0" height="30.5" fill="#000" fill-opacity="0.04"/>
<rect x="668.8" y="448.4" width="3.0" height="30.5" fill="#fff" fill-opacity="0.06"/>
<rect x="671.8" y="448.4" width="1.5" height="30.5" fill="#fff" fill-opacity="0.05"/>
<rect x="673.3" y="448.4" width="1.0" height="30.5" fill="#000" fill-opacity="0.03"/>
<rect x="676.8" y="448.4" width="2.0" height="30.5" fill="#000" fill-opacity="0.02"/>
<rect x="678.8" y="448.4" width="2.0" height="30.5" fill="#000" fill-opacity="0.04"/>
<rect x="680.8" y="448.4" width="2.0" height="30.5" fill="#fff" fill-opacity="0.06"/>
<rect x="682.8" y="448.4" width="2.0" height="30.5" fill="#000" fill-opacity="0.04"/>
<rect x="684.8" y="448.4" width="4.0" height="30.5" fill="#000" fill-opacity="0.04"/>
<rect x="689.8" y="448.4" width="2.0" height="30.5" fill="#fff" fill-opacity="0.11"/>
<rect x="691.8" y="448.4" width="2.0" height="30.5" fill="#fff" fill-opacity="0.07"/>
<rect x="693.8" y="448.4" width="2.0" height="30.5" fill="#fff" fill-opacity="0.07"/>
<rect x="695.8" y="448.4" width="1.5" height="30.5" fill="#fff" fill-opacity="0.15"/>
<rect x="697.3" y="448.4" width="1.5" height="30.5" fill="#fff" fill-opacity="0.09"/>
<rect x="698.8" y="448.4" width="1.5" height="30.5" fill="#000" fill-opacity="0.02"/>
<rect x="700.3" y="448.4" width="1.0" height="30.5" fill="#000" fill-opacity="0.05"/>
<rect x="701.3" y="448.4" width="1.0" height="30.5" fill="#fff" fill-opacity="0.15"/>
<rect x="703.8" y="448.4" width="2.0" height="30.5" fill="#fff" fill-opacity="0.08"/>
<rect x="705.8" y="448.4" width="1.0" height="30.5" fill="#fff" fill-opacity="0.11"/>
<rect x="706.8" y="448.4" width="3.0" height="30.5" fill="#fff" fill-opacity="0.05"/>
<rect x="712.8" y="448.4" width="2.0" height="30.5" fill="#000" fill-opacity="0.04"/>
<rect x="718.8" y="448.4" width="1.0" height="30.5" fill="#000" fill-opacity="0.04"/>
<rect x="719.8" y="448.4" width="2.0" height="30.5" fill="#fff" fill-opacity="0.08"/>
<rect x="721.8" y="448.4" width="1.5" height="30.5" fill="#fff" fill-opacity="0.16"/>
<rect x="723.3" y="448.4" width="1.0" height="30.5" fill="#000" fill-opacity="0.04"/>
<rect x="725.8" y="448.4" width="2.0" height="30.5" fill="#fff" fill-opacity="0.08"/>
<rect x="727.8" y="448.4" width="3.0" height="30.5" fill="#fff" fill-opacity="0.06"/>
<rect x="730.8" y="448.4" width="2.0" height="30.5" fill="#000" fill-opacity="0.01"/>
<rect x="733.8" y="448.4" width="4.0" height="30.5" fill="#000" fill-opacity="0.04"/>
<rect x="737.8" y="448.4" width="1.0" height="30.5" fill="#000" fill-opacity="0.03"/>
<rect x="738.8" y="448.4" width="2.0" height="30.5" fill="#fff" fill-opacity="0.07"/>
<rect x="740.8" y="448.4" width="2.0" height="30.5" fill="#fff" fill-opacity="0.05"/>
<rect x="742.8" y="448.4" width="4.0" height="30.5" fill="#000" fill-opacity="0.02"/>
<rect x="746.8" y="448.4" width="2.0" height="30.5" fill="#fff" fill-opacity="0.13"/>
<rect x="748.8" y="448.4" width="2.0" height="30.5" fill="#000" fill-opacity="0.03"/>
<rect x="750.8" y="448.4" width="2.0" height="30.5" fill="#fff" fill-opacity="0.04"/>
<rect x="752.8" y="448.4" width="1.5" height="30.5" fill="#fff" fill-opacity="0.14"/>
<rect x="754.3" y="448.4" width="2.0" height="30.5" fill="#000" fill-opacity="0.02"/>
<rect x="756.3" y="448.4" width="1.5" height="30.5" fill="#fff" fill-opacity="0.05"/>
<rect x="757.8" y="448.4" width="1.5" height="30.5" fill="#000" fill-opacity="0.05"/>
<rect x="759.3" y="448.4" width="1.0" height="30.5" fill="#000" fill-opacity="0.05"/>
<rect x="760.3" y="448.4" width="4.0" height="30.5" fill="#000" fill-opacity="0.02"/>
<rect x="764.3" y="448.4" width="2.0" height="30.5" fill="#fff" fill-opacity="0.06"/>
<rect x="766.3" y="448.4" width="1.0" height="30.5" fill="#fff" fill-opacity="0.10"/>
<rect x="767.3" y="448.4" width="1.5" height="30.5" fill="#fff" fill-opacity="0.14"/>
<rect x="769.8" y="448.4" width="2.0" height="30.5" fill="#fff" fill-opacity="0.11"/>
<rect x="771.8" y="448.4" width="4.0" height="30.5" fill="#fff" fill-opacity="0.15"/>
<rect x="775.8" y="448.4" width="3.0" height="30.5" fill="#000" fill-opacity="0.05"/>
<rect x="782.8" y="448.4" width="1.5" height="30.5" fill="#000" fill-opacity="0.03"/>
<rect x="785.8" y="448.4" width="1.5" height="30.5" fill="#000" fill-opacity="0.01"/>
<rect x="787.3" y="448.4" width="3.0" height="30.5" fill="#fff" fill-opacity="0.08"/>
<rect x="790.3" y="448.4" width="1.5" height="30.5" fill="#fff" fill-opacity="0.13"/>
<rect x="791.8" y="448.4" width="1.5" height="30.5" fill="#fff" fill-opacity="0.11"/>
<rect x="793.3" y="448.4" width="4.0" height="30.5" fill="#fff" fill-opacity="0.14"/>
<rect x="797.3" y="448.4" width="1.0" height="30.5" fill="#fff" fill-opacity="0.09"/>
<rect x="802.3" y="448.4" width="4.0" height="30.5" fill="#fff" fill-opacity="0.11"/>
<rect x="806.3" y="448.4" width="2.0" height="30.5" fill="#fff" fill-opacity="0.08"/>
<rect x="808.3" y="448.4" width="3.0" height="30.5" fill="#fff" fill-opacity="0.04"/>
<rect x="814.3" y="448.4" width="2.0" height="30.5" fill="#fff" fill-opacity="0.13"/>
<rect x="818.3" y="448.4" width="2.0" height="30.5" fill="#fff" fill-opacity="0.05"/>
<rect x="820.3" y="448.4" width="2.0" height="30.5" fill="#fff" fill-opacity="0.05"/>
<rect x="822.3" y="448.4" width="2.0" height="30.5" fill="#000" fill-opacity="0.04"/>
<rect x="824.3" y="448.4" width="1.0" height="30.5" fill="#000" fill-opacity="0.01"/>
<rect x="825.3" y="448.4" width="4.0" height="30.5" fill="#fff" fill-opacity="0.13"/>
<rect x="829.3" y="448.4" width="1.0" height="30.5" fill="#fff" fill-opacity="0.10"/>
<rect x="830.3" y="448.4" width="2.0" height="30.5" fill="#000" fill-opacity="0.04"/>
<rect x="833.3" y="448.4" width="3.0" height="30.5" fill="#000" fill-opacity="0.04"/>
<rect x="836.3" y="448.4" width="1.5" height="30.5" fill="#fff" fill-opacity="0.15"/>
<rect x="839.8" y="448.4" width="1.5" height="30.5" fill="#000" fill-opacity="0.04"/>
<rect x="841.3" y="448.4" width="1.5" height="30.5" fill="#fff" fill-opacity="0.08"/>
<rect x="842.8" y="448.4" width="2.0" height="30.5" fill="#fff" fill-opacity="0.15"/>
<rect x="846.8" y="448.4" width="2.0" height="30.5" fill="#fff" fill-opacity="0.10"/>
<rect x="848.8" y="448.4" width="2.0" height="30.5" fill="#fff" fill-opacity="0.07"/>
<rect x="850.8" y="448.4" width="3.0" height="30.5" fill="#fff" fill-opacity="0.08"/>
<rect x="853.8" y="448.4" width="1.5" height="30.5" fill="#fff" fill-opacity="0.06"/>
<rect x="855.3" y="448.4" width="2.0" height="30.5" fill="#000" fill-opacity="0.05"/>
<rect x="858.8" y="448.4" width="2.0" height="30.5" fill="#fff" fill-opacity="0.10"/>
<rect x="864.8" y="448.4" width="2.0" height="30.5" fill="#000" fill-opacity="0.03"/>
<rect x="866.8" y="448.4" width="1.0" height="30.5" fill="#fff" fill-opacity="0.10"/>
<rect x="867.8" y="448.4" width="2.0" height="30.5" fill="#000" fill-opacity="0.02"/>
<rect x="871.8" y="448.4" width="3.0" height="30.5" fill="#fff" fill-opacity="0.08"/>
<rect x="874.8" y="448.4" width="1.0" height="30.5" fill="#fff" fill-opacity="0.06"/>
<rect x="881.8" y="448.4" width="2.0" height="30.5" fill="#fff" fill-opacity="0.16"/>
<rect x="886.8" y="448.4" width="2.0" height="30.5" fill="#000" fill-opacity="0.04"/>
<rect x="888.8" y="448.4" width="1.5" height="30.5" fill="#fff" fill-opacity="0.11"/>
<rect x="890.3" y="448.4" width="2.0" height="30.5" fill="#fff" fill-opacity="0.08"/>
<rect x="892.3" y="448.4" width="1.0" height="30.5" fill="#fff" fill-opacity="0.07"/>
<rect x="893.3" y="448.4" width="4.0" height="30.5" fill="#fff" fill-opacity="0.05"/>
<rect x="897.3" y="448.4" width="3.0" height="30.5" fill="#fff" fill-opacity="0.05"/>
<rect x="900.3" y="448.4" width="2.0" height="30.5" fill="#000" fill-opacity="0.03"/>
<rect x="902.3" y="448.4" width="2.0" height="30.5" fill="#000" fill-opacity="0.02"/>
<rect x="907.3" y="448.4" width="1.5" height="30.5" fill="#fff" fill-opacity="0.15"/>
<rect x="908.8" y="448.4" width="1.5" height="30.5" fill="#000" fill-opacity="0.03"/>
<rect x="910.3" y="448.4" width="1.0" height="30.5" fill="#000" fill-opacity="0.04"/>
<rect x="911.3" y="448.4" width="2.0" height="30.5" fill="#fff" fill-opacity="0.07"/>
<rect x="913.3" y="448.4" width="1.0" height="30.5" fill="#fff" fill-opacity="0.14"/>
<rect x="914.3" y="448.4" width="2.0" height="30.5" fill="#000" fill-opacity="0.03"/>
<rect x="919.3" y="448.4" width="4.0" height="30.5" fill="#000" fill-opacity="0.02"/>
<rect x="923.3" y="448.4" width="1.0" height="30.5" fill="#fff" fill-opacity="0.10"/>
<rect x="924.3" y="448.4" width="2.0" height="30.5" fill="#fff" fill-opacity="0.06"/>
<rect x="926.3" y="448.4" width="1.0" height="30.5" fill="#fff" fill-opacity="0.11"/>
<rect x="927.3" y="448.4" width="1.5" height="30.5" fill="#fff" fill-opacity="0.06"/>
<rect x="928.8" y="448.4" width="3.0" height="30.5" fill="#000" fill-opacity="0.04"/>
<rect x="933.8" y="448.4" width="1.5" height="30.5" fill="#000" fill-opacity="0.01"/>
<rect x="935.3" y="448.4" width="4.0" height="30.5" fill="#fff" fill-opacity="0.15"/>
<rect x="939.3" y="448.4" width="2.0" height="30.5" fill="#000" fill-opacity="0.01"/>
<rect x="941.3" y="448.4" width="2.0" height="30.5" fill="#000" fill-opacity="0.03"/>
<rect x="943.3" y="448.4" width="4.0" height="30.5" fill="#000" fill-opacity="0.02"/>
<rect x="947.3" y="448.4" width="1.0" height="30.5" fill="#fff" fill-opacity="0.12"/>
<rect x="948.3" y="448.4" width="0.7" height="30.5" fill="#fff" fill-opacity="0.13"/>
<rect x="451.3" y="478.9" width="2.0" height="30.4" fill="#000" fill-opacity="0.02"/>
<rect x="453.3" y="478.9" width="3.0" height="30.4" fill="#000" fill-opacity="0.04"/>
<rect x="459.3" y="478.9" width="2.0" height="30.4" fill="#000" fill-opacity="0.05"/>
<rect x="461.3" y="478.9" width="1.5" height="30.4" fill="#fff" fill-opacity="0.10"/>
<rect x="462.8" y="478.9" width="1.5" height="30.4" fill="#fff" fill-opacity="0.07"/>
<rect x="464.3" y="478.9" width="4.0" height="30.4" fill="#fff" fill-opacity="0.06"/>
<rect x="468.3" y="478.9" width="2.0" height="30.4" fill="#fff" fill-opacity="0.09"/>
<rect x="470.3" y="478.9" width="3.0" height="30.4" fill="#fff" fill-opacity="0.15"/>
<rect x="481.3" y="478.9" width="3.0" height="30.4" fill="#000" fill-opacity="0.04"/>
<rect x="484.3" y="478.9" width="4.0" height="30.4" fill="#fff" fill-opacity="0.04"/>
<rect x="488.3" y="478.9" width="4.0" height="30.4" fill="#fff" fill-opacity="0.15"/>
<rect x="492.3" y="478.9" width="1.5" height="30.4" fill="#fff" fill-opacity="0.11"/>
<rect x="496.8" y="478.9" width="1.5" height="30.4" fill="#fff" fill-opacity="0.05"/>
<rect x="503.3" y="478.9" width="4.0" height="30.4" fill="#fff" fill-opacity="0.04"/>
<rect x="507.3" y="478.9" width="4.0" height="30.4" fill="#000" fill-opacity="0.01"/>
<rect x="511.3" y="478.9" width="1.0" height="30.4" fill="#000" fill-opacity="0.01"/>
<rect x="524.8" y="478.9" width="1.0" height="30.4" fill="#fff" fill-opacity="0.06"/>
<rect x="525.8" y="478.9" width="1.0" height="30.4" fill="#fff" fill-opacity="0.14"/>
<rect x="526.8" y="478.9" width="4.0" height="30.4" fill="#fff" fill-opacity="0.13"/>
<rect x="530.8" y="478.9" width="4.0" height="30.4" fill="#fff" fill-opacity="0.05"/>
<rect x="535.8" y="478.9" width="4.0" height="30.4" fill="#fff" fill-opacity="0.08"/>
<rect x="539.8" y="478.9" width="2.0" height="30.4" fill="#fff" fill-opacity="0.08"/>
<rect x="541.8" y="478.9" width="2.0" height="30.4" fill="#fff" fill-opacity="0.13"/>
<rect x="545.8" y="478.9" width="3.0" height="30.4" fill="#000" fill-opacity="0.04"/>
<rect x="548.8" y="478.9" width="3.0" height="30.4" fill="#000" fill-opacity="0.04"/>
<rect x="551.8" y="478.9" width="1.0" height="30.4" fill="#fff" fill-opacity="0.13"/>
<rect x="552.8" y="478.9" width="2.0" height="30.4" fill="#000" fill-opacity="0.01"/>
<rect x="554.8" y="478.9" width="3.0" height="30.4" fill="#fff" fill-opacity="0.14"/>
<rect x="557.8" y="478.9" width="1.0" height="30.4" fill="#000" fill-opacity="0.02"/>
<rect x="558.8" y="478.9" width="2.0" height="30.4" fill="#fff" fill-opacity="0.06"/>
<rect x="560.8" y="478.9" width="1.0" height="30.4" fill="#fff" fill-opacity="0.10"/>
<rect x="561.8" y="478.9" width="2.0" height="30.4" fill="#000" fill-opacity="0.04"/>
<rect x="563.8" y="478.9" width="2.0" height="30.4" fill="#000" fill-opacity="0.05"/>
<rect x="565.8" y="478.9" width="3.0" height="30.4" fill="#fff" fill-opacity="0.15"/>
<rect x="570.8" y="478.9" width="4.0" height="30.4" fill="#fff" fill-opacity="0.06"/>
<rect x="580.8" y="478.9" width="4.0" height="30.4" fill="#000" fill-opacity="0.01"/>
<rect x="584.8" y="478.9" width="2.0" height="30.4" fill="#fff" fill-opacity="0.09"/>
<rect x="588.8" y="478.9" width="4.0" height="30.4" fill="#fff" fill-opacity="0.15"/>
<rect x="592.8" y="478.9" width="1.0" height="30.4" fill="#fff" fill-opacity="0.08"/>
<rect x="595.8" y="478.9" width="3.0" height="30.4" fill="#fff" fill-opacity="0.16"/>
<rect x="598.8" y="478.9" width="4.0" height="30.4" fill="#fff" fill-opacity="0.10"/>
<rect x="602.8" y="478.9" width="3.0" height="30.4" fill="#000" fill-opacity="0.04"/>
<rect x="605.8" y="478.9" width="3.0" height="30.4" fill="#000" fill-opacity="0.02"/>
<rect x="608.8" y="478.9" width="2.0" height="30.4" fill="#000" fill-opacity="0.04"/>
<rect x="610.8" y="478.9" width="2.0" height="30.4" fill="#000" fill-opacity="0.04"/>
<rect x="612.8" y="478.9" width="1.5" height="30.4" fill="#000" fill-opacity="0.04"/>
<rect x="614.3" y="478.9" width="2.0" height="30.4" fill="#000" fill-opacity="0.02"/>
<rect x="616.3" y="478.9" width="2.0" height="30.4" fill="#000" fill-opacity="0.04"/>
<rect x="618.3" y="478.9" width="3.0" height="30.4" fill="#fff" fill-opacity="0.08"/>
<rect x="625.3" y="478.9" width="3.0" height="30.4" fill="#fff" fill-opacity="0.06"/>
<rect x="628.3" y="478.9" width="1.5" height="30.4" fill="#000" fill-opacity="0.03"/>
<rect x="629.8" y="478.9" width="2.0" height="30.4" fill="#fff" fill-opacity="0.08"/>
<rect x="631.8" y="478.9" width="1.5" height="30.4" fill="#fff" fill-opacity="0.15"/>
<rect x="633.3" y="478.9" width="1.0" height="30.4" fill="#fff" fill-opacity="0.12"/>
<rect x="634.3" y="478.9" width="1.5" height="30.4" fill="#fff" fill-opacity="0.16"/>
<rect x="635.8" y="478.9" width="2.0" height="30.4" fill="#000" fill-opacity="0.03"/>
<rect x="637.8" y="478.9" width="1.5" height="30.4" fill="#fff" fill-opacity="0.15"/>
<rect x="639.3" y="478.9" width="2.0" height="30.4" fill="#fff" fill-opacity="0.09"/>
<rect x="641.3" y="478.9" width="1.0" height="30.4" fill="#fff" fill-opacity="0.14"/>
<rect x="642.3" y="478.9" width="2.0" height="30.4" fill="#000" fill-opacity="0.03"/>
<rect x="644.3" y="478.9" width="4.0" height="30.4" fill="#fff" fill-opacity="0.04"/>
<rect x="648.3" y="478.9" width="2.0" height="30.4" fill="#000" fill-opacity="0.03"/>
<rect x="650.3" y="478.9" width="4.0" height="30.4" fill="#fff" fill-opacity="0.14"/>
<rect x="654.3" y="478.9" width="4.0" height="30.4" fill="#000" fill-opacity="0.04"/>
<rect x="660.3" y="478.9" width="4.0" height="30.4" fill="#000" fill-opacity="0.05"/>
<rect x="664.3" y="478.9" width="4.0" height="30.4" fill="#000" fill-opacity="0.04"/>
<rect x="668.3" y="478.9" width="4.0" height="30.4" fill="#fff" fill-opacity="0.05"/>
<rect x="672.3" y="478.9" width="2.0" height="30.4" fill="#fff" fill-opacity="0.12"/>
<rect x="676.8" y="478.9" width="4.0" height="30.4" fill="#000" fill-opacity="0.02"/>
<rect x="680.8" y="478.9" width="2.0" height="30.4" fill="#000" fill-opacity="0.01"/>
<rect x="682.8" y="478.9" width="2.0" height="30.4" fill="#000" fill-opacity="0.04"/>
<rect x="690.3" y="478.9" width="1.0" height="30.4" fill="#fff" fill-opacity="0.11"/>
<rect x="691.3" y="478.9" width="1.5" height="30.4" fill="#000" fill-opacity="0.05"/>
<rect x="692.8" y="478.9" width="1.5" height="30.4" fill="#000" fill-opacity="0.01"/>
<rect x="694.3" y="478.9" width="3.0" height="30.4" fill="#000" fill-opacity="0.02"/>
<rect x="697.3" y="478.9" width="2.0" height="30.4" fill="#000" fill-opacity="0.04"/>
<rect x="699.3" y="478.9" width="2.0" height="30.4" fill="#000" fill-opacity="0.03"/>
<rect x="701.3" y="478.9" width="2.0" height="30.4" fill="#fff" fill-opacity="0.12"/>
<rect x="703.3" y="478.9" width="2.0" height="30.4" fill="#000" fill-opacity="0.05"/>
<rect x="709.3" y="478.9" width="2.0" height="30.4" fill="#000" fill-opacity="0.02"/>
<rect x="711.3" y="478.9" width="2.0" height="30.4" fill="#fff" fill-opacity="0.04"/>
<rect x="715.3" y="478.9" width="4.0" height="30.4" fill="#000" fill-opacity="0.02"/>
<rect x="719.3" y="478.9" width="2.0" height="30.4" fill="#fff" fill-opacity="0.08"/>
<rect x="726.3" y="478.9" width="2.0" height="30.4" fill="#000" fill-opacity="0.02"/>
<rect x="729.3" y="478.9" width="4.0" height="30.4" fill="#fff" fill-opacity="0.12"/>
<rect x="733.3" y="478.9" width="4.0" height="30.4" fill="#fff" fill-opacity="0.16"/>
<rect x="737.3" y="478.9" width="2.0" height="30.4" fill="#000" fill-opacity="0.04"/>
<rect x="739.3" y="478.9" width="2.0" height="30.4" fill="#000" fill-opacity="0.02"/>
<rect x="741.3" y="478.9" width="3.0" height="30.4" fill="#000" fill-opacity="0.04"/>
<rect x="744.3" y="478.9" width="2.0" height="30.4" fill="#fff" fill-opacity="0.14"/>
<rect x="746.3" y="478.9" width="2.0" height="30.4" fill="#000" fill-opacity="0.04"/>
<rect x="748.3" y="478.9" width="2.0" height="30.4" fill="#000" fill-opacity="0.03"/>
<rect x="754.3" y="478.9" width="2.0" height="30.4" fill="#fff" fill-opacity="0.08"/>
<rect x="756.3" y="478.9" width="2.0" height="30.4" fill="#000" fill-opacity="0.03"/>
<rect x="758.3" y="478.9" width="1.0" height="30.4" fill="#000" fill-opacity="0.02"/>
<rect x="761.3" y="478.9" width="1.0" height="30.4" fill="#fff" fill-opacity="0.11"/>
<rect x="764.3" y="478.9" width="1.5" height="30.4" fill="#000" fill-opacity="0.02"/>
<rect x="765.8" y="478.9" width="3.0" height="30.4" fill="#fff" fill-opacity="0.04"/>
<rect x="768.8" y="478.9" width="1.0" height="30.4" fill="#000" fill-opacity="0.02"/>
<rect x="769.8" y="478.9" width="1.0" height="30.4" fill="#000" fill-opacity="0.04"/>
<rect x="775.8" y="478.9" width="3.0" height="30.4" fill="#fff" fill-opacity="0.15"/>
<rect x="781.8" y="478.9" width="1.0" height="30.4" fill="#000" fill-opacity="0.05"/>
<rect x="786.8" y="478.9" width="1.5" height="30.4" fill="#000" fill-opacity="0.02"/>
<rect x="788.3" y="478.9" width="1.0" height="30.4" fill="#000" fill-opacity="0.03"/>
<rect x="789.3" y="478.9" width="1.0" height="30.4" fill="#000" fill-opacity="0.02"/>
<rect x="791.8" y="478.9" width="2.0" height="30.4" fill="#000" fill-opacity="0.01"/>
<rect x="795.8" y="478.9" width="4.0" height="30.4" fill="#000" fill-opacity="0.03"/>
<rect x="799.8" y="478.9" width="3.0" height="30.4" fill="#000" fill-opacity="0.04"/>
<rect x="804.3" y="478.9" width="2.0" height="30.4" fill="#000" fill-opacity="0.03"/>
<rect x="808.3" y="478.9" width="2.0" height="30.4" fill="#fff" fill-opacity="0.16"/>
<rect x="810.3" y="478.9" width="4.0" height="30.4" fill="#fff" fill-opacity="0.12"/>
<rect x="814.3" y="478.9" width="4.0" height="30.4" fill="#000" fill-opacity="0.01"/>
<rect x="818.3" y="478.9" width="1.0" height="30.4" fill="#000" fill-opacity="0.05"/>
<rect x="821.3" y="478.9" width="1.0" height="30.4" fill="#000" fill-opacity="0.03"/>
<rect x="822.3" y="478.9" width="1.5" height="30.4" fill="#fff" fill-opacity="0.13"/>
<rect x="823.8" y="478.9" width="4.0" height="30.4" fill="#fff" fill-opacity="0.05"/>
<rect x="827.8" y="478.9" width="4.0" height="30.4" fill="#fff" fill-opacity="0.10"/>
<rect x="831.8" y="478.9" width="3.0" height="30.4" fill="#000" fill-opacity="0.05"/>
<rect x="834.8" y="478.9" width="2.0" height="30.4" fill="#fff" fill-opacity="0.09"/>
<rect x="836.8" y="478.9" width="3.0" height="30.4" fill="#fff" fill-opacity="0.07"/>
<rect x="841.8" y="478.9" width="2.0" height="30.4" fill="#fff" fill-opacity="0.16"/>
<rect x="843.8" y="478.9" width="3.0" height="30.4" fill="#fff" fill-opacity="0.06"/>
<rect x="848.8" y="478.9" width="2.0" height="30.4" fill="#fff" fill-opacity="0.13"/>
<rect x="850.8" y="478.9" width="1.5" height="30.4" fill="#000" fill-opacity="0.04"/>
<rect x="852.3" y="478.9" width="1.0" height="30.4" fill="#fff" fill-opacity="0.11"/>
<rect x="853.3" y="478.9" width="2.0" height="30.4" fill="#000" fill-opacity="0.01"/>
<rect x="855.3" y="478.9" width="2.0" height="30.4" fill="#fff" fill-opacity="0.05"/>
<rect x="857.3" y="478.9" width="2.0" height="30.4" fill="#000" fill-opacity="0.04"/>
<rect x="862.3" y="478.9" width="3.0" height="30.4" fill="#fff" fill-opacity="0.06"/>
<rect x="865.3" y="478.9" width="4.0" height="30.4" fill="#000" fill-opacity="0.03"/>
<rect x="869.3" y="478.9" width="4.0" height="30.4" fill="#fff" fill-opacity="0.04"/>
<rect x="873.3" y="478.9" width="4.0" height="30.4" fill="#000" fill-opacity="0.04"/>
<rect x="877.3" y="478.9" width="1.0" height="30.4" fill="#000" fill-opacity="0.04"/>
<rect x="880.3" y="478.9" width="4.0" height="30.4" fill="#fff" fill-opacity="0.14"/>
<rect x="885.8" y="478.9" width="3.0" height="30.4" fill="#000" fill-opacity="0.04"/>
<rect x="888.8" y="478.9" width="1.5" height="30.4" fill="#fff" fill-opacity="0.08"/>
<rect x="890.3" y="478.9" width="2.0" height="30.4" fill="#000" fill-opacity="0.03"/>
<rect x="892.3" y="478.9" width="1.0" height="30.4" fill="#000" fill-opacity="0.03"/>
<rect x="894.3" y="478.9" width="2.0" height="30.4" fill="#000" fill-opacity="0.05"/>
<rect x="896.3" y="478.9" width="2.0" height="30.4" fill="#fff" fill-opacity="0.12"/>
<rect x="898.3" y="478.9" width="3.0" height="30.4" fill="#000" fill-opacity="0.05"/>
<rect x="901.3" y="478.9" width="1.5" height="30.4" fill="#000" fill-opacity="0.03"/>
<rect x="902.8" y="478.9" width="1.0" height="30.4" fill="#fff" fill-opacity="0.10"/>
<rect x="903.8" y="478.9" width="1.5" height="30.4" fill="#000" fill-opacity="0.03"/>
<rect x="905.3" y="478.9" width="1.0" height="30.4" fill="#000" fill-opacity="0.01"/>
<rect x="906.3" y="478.9" width="1.0" height="30.4" fill="#fff" fill-opacity="0.05"/>
<rect x="907.3" y="478.9" width="2.0" height="30.4" fill="#fff" fill-opacity="0.13"/>
<rect x="909.3" y="478.9" width="1.5" height="30.4" fill="#000" fill-opacity="0.04"/>
<rect x="910.8" y="478.9" width="1.0" height="30.4" fill="#fff" fill-opacity="0.13"/>
<rect x="919.8" y="478.9" width="2.0" height="30.4" fill="#000" fill-opacity="0.04"/>
<rect x="921.8" y="478.9" width="2.0" height="30.4" fill="#000" fill-opacity="0.05"/>
<rect x="923.8" y="478.9" width="1.0" height="30.4" fill="#000" fill-opacity="0.01"/>
<rect x="929.8" y="478.9" width="1.0" height="30.4" fill="#fff" fill-opacity="0.08"/>
<rect x="930.8" y="478.9" width="3.0" height="30.4" fill="#fff" fill-opacity="0.14"/>
<rect x="933.8" y="478.9" width="2.0" height="30.4" fill="#000" fill-opacity="0.02"/>
<rect x="935.8" y="478.9" width="3.0" height="30.4" fill="#000" fill-opacity="0.03"/>
<rect x="938.8" y="478.9" width="1.5" height="30.4" fill="#fff" fill-opacity="0.14"/>
<rect x="942.3" y="478.9" width="1.5" height="30.4" fill="#000" fill-opacity="0.03"/>
<rect x="947.8" y="478.9" width="1.2" height="30.4" fill="#fff" fill-opacity="0.07"/>
<rect x="454.3" y="509.3" width="3.0" height="30.7" fill="#fff" fill-opacity="0.11"/>
<rect x="461.3" y="509.3" width="3.0" height="30.7" fill="#fff" fill-opacity="0.15"/>
<rect x="464.3" y="509.3" width="2.0" height="30.7" fill="#fff" fill-opacity="0.09"/>
<rect x="467.8" y="509.3" width="2.0" height="30.7" fill="#000" fill-opacity="0.02"/>
<rect x="469.8" y="509.3" width="2.0" height="30.7" fill="#fff" fill-opacity="0.11"/>
<rect x="471.8" y="509.3" width="1.0" height="30.7" fill="#fff" fill-opacity="0.06"/>
<rect x="472.8" y="509.3" width="3.0" height="30.7" fill="#fff" fill-opacity="0.16"/>
<rect x="475.8" y="509.3" width="3.0" height="30.7" fill="#000" fill-opacity="0.05"/>
<rect x="478.8" y="509.3" width="2.0" height="30.7" fill="#000" fill-opacity="0.03"/>
<rect x="488.3" y="509.3" width="1.5" height="30.7" fill="#fff" fill-opacity="0.05"/>
<rect x="489.8" y="509.3" width="2.0" height="30.7" fill="#000" fill-opacity="0.02"/>
<rect x="491.8" y="509.3" width="2.0" height="30.7" fill="#000" fill-opacity="0.01"/>
<rect x="493.8" y="509.3" width="2.0" height="30.7" fill="#000" fill-opacity="0.01"/>
<rect x="497.8" y="509.3" width="1.5" height="30.7" fill="#fff" fill-opacity="0.10"/>
<rect x="501.3" y="509.3" width="3.0" height="30.7" fill="#fff" fill-opacity="0.10"/>
<rect x="504.3" y="509.3" width="1.5" height="30.7" fill="#fff" fill-opacity="0.06"/>
<rect x="507.3" y="509.3" width="2.0" height="30.7" fill="#fff" fill-opacity="0.11"/>
<rect x="511.3" y="509.3" width="1.5" height="30.7" fill="#fff" fill-opacity="0.15"/>
<rect x="512.8" y="509.3" width="2.0" height="30.7" fill="#fff" fill-opacity="0.05"/>
<rect x="514.8" y="509.3" width="4.0" height="30.7" fill="#000" fill-opacity="0.01"/>
<rect x="518.8" y="509.3" width="2.0" height="30.7" fill="#000" fill-opacity="0.02"/>
<rect x="520.8" y="509.3" width="3.0" height="30.7" fill="#000" fill-opacity="0.01"/>
<rect x="525.3" y="509.3" width="3.0" height="30.7" fill="#000" fill-opacity="0.03"/>
<rect x="530.3" y="509.3" width="2.0" height="30.7" fill="#fff" fill-opacity="0.15"/>
<rect x="535.3" y="509.3" width="1.5" height="30.7" fill="#fff" fill-opacity="0.04"/>
<rect x="538.3" y="509.3" width="2.0" height="30.7" fill="#fff" fill-opacity="0.05"/>
<rect x="540.3" y="509.3" width="3.0" height="30.7" fill="#fff" fill-opacity="0.12"/>
<rect x="546.3" y="509.3" width="4.0" height="30.7" fill="#fff" fill-opacity="0.05"/>
<rect x="550.3" y="509.3" width="1.0" height="30.7" fill="#fff" fill-opacity="0.11"/>
<rect x="551.3" y="509.3" width="4.0" height="30.7" fill="#fff" fill-opacity="0.15"/>
<rect x="555.3" y="509.3" width="3.0" height="30.7" fill="#fff" fill-opacity="0.09"/>
<rect x="558.3" y="509.3" width="1.5" height="30.7" fill="#fff" fill-opacity="0.07"/>
<rect x="559.8" y="509.3" width="4.0" height="30.7" fill="#fff" fill-opacity="0.04"/>
<rect x="567.8" y="509.3" width="1.0" height="30.7" fill="#fff" fill-opacity="0.10"/>
<rect x="568.8" y="509.3" width="4.0" height="30.7" fill="#000" fill-opacity="0.05"/>
<rect x="572.8" y="509.3" width="1.0" height="30.7" fill="#fff" fill-opacity="0.08"/>
<rect x="574.8" y="509.3" width="4.0" height="30.7" fill="#000" fill-opacity="0.03"/>
<rect x="580.8" y="509.3" width="1.0" height="30.7" fill="#000" fill-opacity="0.02"/>
<rect x="581.8" y="509.3" width="2.0" height="30.7" fill="#fff" fill-opacity="0.10"/>
<rect x="583.8" y="509.3" width="1.5" height="30.7" fill="#fff" fill-opacity="0.14"/>
<rect x="589.3" y="509.3" width="2.0" height="30.7" fill="#000" fill-opacity="0.02"/>
<rect x="591.3" y="509.3" width="1.0" height="30.7" fill="#fff" fill-opacity="0.14"/>
<rect x="599.8" y="509.3" width="4.0" height="30.7" fill="#fff" fill-opacity="0.16"/>
<rect x="605.8" y="509.3" width="2.0" height="30.7" fill="#fff" fill-opacity="0.08"/>
<rect x="607.8" y="509.3" width="2.0" height="30.7" fill="#fff" fill-opacity="0.05"/>
<rect x="609.8" y="509.3" width="4.0" height="30.7" fill="#000" fill-opacity="0.05"/>
<rect x="615.8" y="509.3" width="2.0" height="30.7" fill="#fff" fill-opacity="0.07"/>
<rect x="617.8" y="509.3" width="1.0" height="30.7" fill="#fff" fill-opacity="0.14"/>
<rect x="620.8" y="509.3" width="2.0" height="30.7" fill="#000" fill-opacity="0.02"/>
<rect x="622.8" y="509.3" width="2.0" height="30.7" fill="#fff" fill-opacity="0.16"/>
<rect x="624.8" y="509.3" width="1.0" height="30.7" fill="#000" fill-opacity="0.04"/>
<rect x="625.8" y="509.3" width="1.5" height="30.7" fill="#000" fill-opacity="0.04"/>
<rect x="627.3" y="509.3" width="1.0" height="30.7" fill="#fff" fill-opacity="0.06"/>
<rect x="628.3" y="509.3" width="2.0" height="30.7" fill="#fff" fill-opacity="0.07"/>
<rect x="631.8" y="509.3" width="1.0" height="30.7" fill="#fff" fill-opacity="0.09"/>
<rect x="632.8" y="509.3" width="1.5" height="30.7" fill="#fff" fill-opacity="0.13"/>
<rect x="634.3" y="509.3" width="2.0" height="30.7" fill="#fff" fill-opacity="0.12"/>
<rect x="638.3" y="509.3" width="2.0" height="30.7" fill="#000" fill-opacity="0.03"/>
<rect x="640.3" y="509.3" width="3.0" height="30.7" fill="#fff" fill-opacity="0.08"/>
<rect x="644.3" y="509.3" width="1.5" height="30.7" fill="#fff" fill-opacity="0.06"/>
<rect x="645.8" y="509.3" width="1.5" height="30.7" fill="#000" fill-opacity="0.02"/>
<rect x="647.3" y="509.3" width="1.5" height="30.7" fill="#fff" fill-opacity="0.05"/>
<rect x="649.8" y="509.3" width="4.0" height="30.7" fill="#000" fill-opacity="0.02"/>
<rect x="653.8" y="509.3" width="1.5" height="30.7" fill="#fff" fill-opacity="0.12"/>
<rect x="659.3" y="509.3" width="3.0" height="30.7" fill="#fff" fill-opacity="0.04"/>
<rect x="662.3" y="509.3" width="4.0" height="30.7" fill="#000" fill-opacity="0.03"/>
<rect x="673.3" y="509.3" width="2.0" height="30.7" fill="#fff" fill-opacity="0.12"/>
<rect x="675.3" y="509.3" width="2.0" height="30.7" fill="#fff" fill-opacity="0.09"/>
<rect x="677.3" y="509.3" width="2.0" height="30.7" fill="#fff" fill-opacity="0.12"/>
<rect x="679.3" y="509.3" width="1.5" height="30.7" fill="#fff" fill-opacity="0.14"/>
<rect x="680.8" y="509.3" width="2.0" height="30.7" fill="#fff" fill-opacity="0.12"/>
<rect x="682.8" y="509.3" width="3.0" height="30.7" fill="#000" fill-opacity="0.01"/>
<rect x="688.8" y="509.3" width="3.0" height="30.7" fill="#fff" fill-opacity="0.08"/>
<rect x="695.3" y="509.3" width="2.0" height="30.7" fill="#000" fill-opacity="0.05"/>
<rect x="699.3" y="509.3" width="4.0" height="30.7" fill="#000" fill-opacity="0.03"/>
<rect x="706.3" y="509.3" width="1.5" height="30.7" fill="#fff" fill-opacity="0.16"/>
<rect x="707.8" y="509.3" width="1.5" height="30.7" fill="#000" fill-opacity="0.02"/>
<rect x="709.3" y="509.3" width="2.0" height="30.7" fill="#fff" fill-opacity="0.14"/>
<rect x="711.3" y="509.3" width="1.0" height="30.7" fill="#fff" fill-opacity="0.15"/>
<rect x="712.3" y="509.3" width="4.0" height="30.7" fill="#fff" fill-opacity="0.04"/>
<rect x="716.3" y="509.3" width="3.0" height="30.7" fill="#000" fill-opacity="0.03"/>
<rect x="719.3" y="509.3" width="1.5" height="30.7" fill="#000" fill-opacity="0.01"/>
<rect x="720.8" y="509.3" width="1.0" height="30.7" fill="#000" fill-opacity="0.01"/>
<rect x="721.8" y="509.3" width="1.0" height="30.7" fill="#000" fill-opacity="0.03"/>
<rect x="722.8" y="509.3" width="2.0" height="30.7" fill="#fff" fill-opacity="0.05"/>
<rect x="724.8" y="509.3" width="1.5" height="30.7" fill="#000" fill-opacity="0.02"/>
<rect x="726.3" y="509.3" width="1.5" height="30.7" fill="#fff" fill-opacity="0.11"/>
<rect x="727.8" y="509.3" width="4.0" height="30.7" fill="#fff" fill-opacity="0.15"/>
<rect x="732.8" y="509.3" width="2.0" height="30.7" fill="#000" fill-opacity="0.03"/>
<rect x="734.8" y="509.3" width="3.0" height="30.7" fill="#000" fill-opacity="0.03"/>
<rect x="738.8" y="509.3" width="2.0" height="30.7" fill="#fff" fill-opacity="0.14"/>
<rect x="740.8" y="509.3" width="4.0" height="30.7" fill="#fff" fill-opacity="0.16"/>
<rect x="746.8" y="509.3" width="3.0" height="30.7" fill="#fff" fill-opacity="0.10"/>
<rect x="755.3" y="509.3" width="4.0" height="30.7" fill="#000" fill-opacity="0.02"/>
<rect x="759.3" y="509.3" width="3.0" height="30.7" fill="#fff" fill-opacity="0.08"/>
<rect x="762.3" y="509.3" width="1.5" height="30.7" fill="#000" fill-opacity="0.01"/>
<rect x="763.8" y="509.3" width="1.5" height="30.7" fill="#fff" fill-opacity="0.09"/>
<rect x="765.3" y="509.3" width="2.0" height="30.7" fill="#000" fill-opacity="0.04"/>
<rect x="767.3" y="509.3" width="1.0" height="30.7" fill="#fff" fill-opacity="0.12"/>
<rect x="770.3" y="509.3" width="3.0" height="30.7" fill="#fff" fill-opacity="0.11"/>
<rect x="773.3" y="509.3" width="1.0" height="30.7" fill="#000" fill-opacity="0.02"/>
<rect x="774.3" y="509.3" width="3.0" height="30.7" fill="#fff" fill-opacity="0.07"/>
<rect x="777.3" y="509.3" width="1.0" height="30.7" fill="#fff" fill-opacity="0.08"/>
<rect x="778.3" y="509.3" width="4.0" height="30.7" fill="#fff" fill-opacity="0.05"/>
<rect x="785.3" y="509.3" width="1.0" height="30.7" fill="#000" fill-opacity="0.03"/>
<rect x="786.3" y="509.3" width="1.5" height="30.7" fill="#fff" fill-opacity="0.10"/>
<rect x="789.8" y="509.3" width="3.0" height="30.7" fill="#fff" fill-opacity="0.07"/>
<rect x="792.8" y="509.3" width="1.0" height="30.7" fill="#000" fill-opacity="0.02"/>
<rect x="793.8" y="509.3" width="2.0" height="30.7" fill="#000" fill-opacity="0.03"/>
<rect x="795.8" y="509.3" width="4.0" height="30.7" fill="#fff" fill-opacity="0.11"/>
<rect x="799.8" y="509.3" width="2.0" height="30.7" fill="#000" fill-opacity="0.03"/>
<rect x="801.8" y="509.3" width="3.0" height="30.7" fill="#000" fill-opacity="0.04"/>
<rect x="804.8" y="509.3" width="1.0" height="30.7" fill="#fff" fill-opacity="0.07"/>
<rect x="805.8" y="509.3" width="3.0" height="30.7" fill="#000" fill-opacity="0.05"/>
<rect x="808.8" y="509.3" width="2.0" height="30.7" fill="#fff" fill-opacity="0.08"/>
<rect x="810.8" y="509.3" width="1.5" height="30.7" fill="#fff" fill-opacity="0.08"/>
<rect x="812.3" y="509.3" width="2.0" height="30.7" fill="#fff" fill-opacity="0.16"/>
<rect x="814.3" y="509.3" width="2.0" height="30.7" fill="#fff" fill-opacity="0.04"/>
<rect x="816.3" y="509.3" width="3.0" height="30.7" fill="#fff" fill-opacity="0.14"/>
<rect x="819.3" y="509.3" width="2.0" height="30.7" fill="#000" fill-opacity="0.03"/>
<rect x="821.3" y="509.3" width="2.0" height="30.7" fill="#fff" fill-opacity="0.13"/>
<rect x="823.3" y="509.3" width="3.0" height="30.7" fill="#fff" fill-opacity="0.16"/>
<rect x="830.3" y="509.3" width="2.0" height="30.7" fill="#fff" fill-opacity="0.08"/>
<rect x="832.3" y="509.3" width="4.0" height="30.7" fill="#fff" fill-opacity="0.11"/>
<rect x="838.3" y="509.3" width="3.0" height="30.7" fill="#fff" fill-opacity="0.14"/>
<rect x="841.3" y="509.3" width="2.0" height="30.7" fill="#fff" fill-opacity="0.12"/>
<rect x="847.3" y="509.3" width="1.5" height="30.7" fill="#fff" fill-opacity="0.05"/>
<rect x="850.8" y="509.3" width="3.0" height="30.7" fill="#fff" fill-opacity="0.09"/>
<rect x="853.8" y="509.3" width="3.0" height="30.7" fill="#fff" fill-opacity="0.14"/>
<rect x="858.8" y="509.3" width="3.0" height="30.7" fill="#fff" fill-opacity="0.14"/>
<rect x="861.8" y="509.3" width="4.0" height="30.7" fill="#000" fill-opacity="0.04"/>
<rect x="865.8" y="509.3" width="2.0" height="30.7" fill="#fff" fill-opacity="0.10"/>
<rect x="867.8" y="509.3" width="3.0" height="30.7" fill="#fff" fill-opacity="0.08"/>
<rect x="874.8" y="509.3" width="2.0" height="30.7" fill="#fff" fill-opacity="0.08"/>
<rect x="876.8" y="509.3" width="3.0" height="30.7" fill="#fff" fill-opacity="0.06"/>
<rect x="879.8" y="509.3" width="3.0" height="30.7" fill="#fff" fill-opacity="0.07"/>
<rect x="882.8" y="509.3" width="2.0" height="30.7" fill="#fff" fill-opacity="0.14"/>
<rect x="887.8" y="509.3" width="1.0" height="30.7" fill="#fff" fill-opacity="0.07"/>
<rect x="888.8" y="509.3" width="2.0" height="30.7" fill="#fff" fill-opacity="0.10"/>
<rect x="890.8" y="509.3" width="2.0" height="30.7" fill="#000" fill-opacity="0.05"/>
<rect x="895.8" y="509.3" width="4.0" height="30.7" fill="#000" fill-opacity="0.03"/>
<rect x="899.8" y="509.3" width="2.0" height="30.7" fill="#fff" fill-opacity="0.12"/>
<rect x="903.8" y="509.3" width="4.0" height="30.7" fill="#fff" fill-opacity="0.07"/>
<rect x="907.8" y="509.3" width="2.0" height="30.7" fill="#fff" fill-opacity="0.09"/>
<rect x="914.3" y="509.3" width="2.0" height="30.7" fill="#000" fill-opacity="0.03"/>
<rect x="919.3" y="509.3" width="3.0" height="30.7" fill="#fff" fill-opacity="0.10"/>
<rect x="922.3" y="509.3" width="1.0" height="30.7" fill="#fff" fill-opacity="0.08"/>
<rect x="924.3" y="509.3" width="3.0" height="30.7" fill="#fff" fill-opacity="0.12"/>
<rect x="927.3" y="509.3" width="2.0" height="30.7" fill="#000" fill-opacity="0.04"/>
<rect x="932.3" y="509.3" width="2.0" height="30.7" fill="#000" fill-opacity="0.03"/>
<rect x="934.3" y="509.3" width="3.0" height="30.7" fill="#fff" fill-opacity="0.15"/>
<rect x="937.3" y="509.3" width="2.0" height="30.7" fill="#fff" fill-opacity="0.12"/>
<rect x="939.3" y="509.3" width="3.0" height="30.7" fill="#fff" fill-opacity="0.11"/>
<rect x="942.3" y="509.3" width="4.0" height="30.7" fill="#000" fill-opacity="0.01"/>
<rect x="946.3" y="509.3" width="2.0" height="30.7" fill="#fff" fill-opacity="0.04"/>
<rect x="948.3" y="509.3" width="0.7" height="30.7" fill="#000" fill-opacity="0.01"/>
<rect x="447.5" y="573.0" width="2.0" height="30.3" fill="#000" fill-opacity="0.04"/>
<rect x="449.5" y="573.0" width="1.5" height="30.3" fill="#fff" fill-opacity="0.10"/>
<rect x="451.0" y="573.0" width="4.0" height="30.3" fill="#000" fill-opacity="0.02"/>
<rect x="455.0" y="573.0" width="2.0" height="30.3" fill="#fff" fill-opacity="0.05"/>
<rect x="457.0" y="573.0" width="4.0" height="30.3" fill="#000" fill-opacity="0.03"/>
<rect x="463.0" y="573.0" width="4.0" height="30.3" fill="#000" fill-opacity="0.04"/>
<rect x="467.0" y="573.0" width="3.0" height="30.3" fill="#fff" fill-opacity="0.10"/>
<rect x="470.0" y="573.0" width="1.0" height="30.3" fill="#fff" fill-opacity="0.15"/>
<rect x="471.0" y="573.0" width="3.0" height="30.3" fill="#fff" fill-opacity="0.10"/>
<rect x="474.0" y="573.0" width="2.0" height="30.3" fill="#000" fill-opacity="0.02"/>
<rect x="476.0" y="573.0" width="1.5" height="30.3" fill="#000" fill-opacity="0.03"/>
<rect x="477.5" y="573.0" width="4.0" height="30.3" fill="#fff" fill-opacity="0.12"/>
<rect x="483.5" y="573.0" width="1.0" height="30.3" fill="#000" fill-opacity="0.02"/>
<rect x="484.5" y="573.0" width="1.5" height="30.3" fill="#000" fill-opacity="0.01"/>
<rect x="489.0" y="573.0" width="2.0" height="30.3" fill="#fff" fill-opacity="0.07"/>
<rect x="492.0" y="573.0" width="4.0" height="30.3" fill="#fff" fill-opacity="0.07"/>
<rect x="496.0" y="573.0" width="1.0" height="30.3" fill="#000" fill-opacity="0.05"/>
<rect x="497.0" y="573.0" width="2.0" height="30.3" fill="#fff" fill-opacity="0.11"/>
<rect x="500.5" y="573.0" width="2.0" height="30.3" fill="#fff" fill-opacity="0.08"/>
<rect x="503.5" y="573.0" width="1.0" height="30.3" fill="#fff" fill-opacity="0.12"/>
<rect x="504.5" y="573.0" width="1.0" height="30.3" fill="#fff" fill-opacity="0.14"/>
<rect x="505.5" y="573.0" width="1.5" height="30.3" fill="#000" fill-opacity="0.02"/>
<rect x="507.0" y="573.0" width="3.0" height="30.3" fill="#fff" fill-opacity="0.13"/>
<rect x="510.0" y="573.0" width="1.5" height="30.3" fill="#fff" fill-opacity="0.09"/>
<rect x="511.5" y="573.0" width="2.0" height="30.3" fill="#fff" fill-opacity="0.07"/>
<rect x="515.5" y="573.0" width="3.0" height="30.3" fill="#fff" fill-opacity="0.15"/>
<rect x="518.5" y="573.0" width="1.5" height="30.3" fill="#fff" fill-opacity="0.16"/>
<rect x="520.0" y="573.0" width="3.0" height="30.3" fill="#000" fill-opacity="0.01"/>
<rect x="523.0" y="573.0" width="1.5" height="30.3" fill="#fff" fill-opacity="0.07"/>
<rect x="524.5" y="573.0" width="3.0" height="30.3" fill="#fff" fill-opacity="0.08"/>
<rect x="527.5" y="573.0" width="1.0" height="30.3" fill="#fff" fill-opacity="0.07"/>
<rect x="528.5" y="573.0" width="4.0" height="30.3" fill="#fff" fill-opacity="0.11"/>
<rect x="532.5" y="573.0" width="2.0" height="30.3" fill="#000" fill-opacity="0.02"/>
<rect x="534.5" y="573.0" width="3.0" height="30.3" fill="#000" fill-opacity="0.03"/>
<rect x="537.5" y="573.0" width="2.0" height="30.3" fill="#fff" fill-opacity="0.06"/>
<rect x="541.0" y="573.0" width="1.5" height="30.3" fill="#000" fill-opacity="0.02"/>
<rect x="546.5" y="573.0" width="1.5" height="30.3" fill="#000" fill-opacity="0.03"/>
<rect x="548.0" y="573.0" width="2.0" height="30.3" fill="#000" fill-opacity="0.03"/>
<rect x="550.0" y="573.0" width="1.0" height="30.3" fill="#fff" fill-opacity="0.10"/>
<rect x="551.0" y="573.0" width="2.0" height="30.3" fill="#fff" fill-opacity="0.12"/>
<rect x="553.0" y="573.0" width="2.0" height="30.3" fill="#fff" fill-opacity="0.15"/>
<rect x="555.0" y="573.0" width="2.0" height="30.3" fill="#fff" fill-opacity="0.06"/>
<rect x="561.0" y="573.0" width="1.5" height="30.3" fill="#fff" fill-opacity="0.11"/>
<rect x="562.5" y="573.0" width="3.0" height="30.3" fill="#000" fill-opacity="0.02"/>
<rect x="565.5" y="573.0" width="1.5" height="30.3" fill="#000" fill-opacity="0.01"/>
<rect x="567.0" y="573.0" width="2.0" height="30.3" fill="#fff" fill-opacity="0.05"/>
<rect x="569.0" y="573.0" width="1.5" height="30.3" fill="#fff" fill-opacity="0.10"/>
<rect x="570.5" y="573.0" width="1.5" height="30.3" fill="#fff" fill-opacity="0.06"/>
<rect x="574.0" y="573.0" width="4.0" height="30.3" fill="#000" fill-opacity="0.03"/>
<rect x="578.0" y="573.0" width="1.5" height="30.3" fill="#000" fill-opacity="0.05"/>
<rect x="581.5" y="573.0" width="4.0" height="30.3" fill="#fff" fill-opacity="0.04"/>
<rect x="585.5" y="573.0" width="3.0" height="30.3" fill="#000" fill-opacity="0.03"/>
<rect x="588.5" y="573.0" width="4.0" height="30.3" fill="#fff" fill-opacity="0.06"/>
<rect x="592.5" y="573.0" width="1.0" height="30.3" fill="#fff" fill-opacity="0.11"/>
<rect x="593.5" y="573.0" width="4.0" height="30.3" fill="#fff" fill-opacity="0.15"/>
<rect x="597.5" y="573.0" width="4.0" height="30.3" fill="#000" fill-opacity="0.04"/>
<rect x="601.5" y="573.0" width="2.0" height="30.3" fill="#fff" fill-opacity="0.12"/>
<rect x="607.5" y="573.0" width="3.0" height="30.3" fill="#fff" fill-opacity="0.12"/>
<rect x="610.5" y="573.0" width="2.0" height="30.3" fill="#000" fill-opacity="0.03"/>
<rect x="612.5" y="573.0" width="1.0" height="30.3" fill="#fff" fill-opacity="0.05"/>
<rect x="615.5" y="573.0" width="4.0" height="30.3" fill="#fff" fill-opacity="0.15"/>
<rect x="619.5" y="573.0" width="4.0" height="30.3" fill="#000" fill-opacity="0.03"/>
<rect x="623.5" y="573.0" width="3.0" height="30.3" fill="#fff" fill-opacity="0.13"/>
<rect x="626.5" y="573.0" width="1.0" height="30.3" fill="#fff" fill-opacity="0.05"/>
<rect x="627.5" y="573.0" width="1.0" height="30.3" fill="#fff" fill-opacity="0.12"/>
<rect x="636.5" y="573.0" width="2.0" height="30.3" fill="#fff" fill-opacity="0.12"/>
<rect x="638.5" y="573.0" width="1.5" height="30.3" fill="#000" fill-opacity="0.04"/>
<rect x="640.0" y="573.0" width="2.0" height="30.3" fill="#000" fill-opacity="0.03"/>
<rect x="642.0" y="573.0" width="1.5" height="30.3" fill="#fff" fill-opacity="0.12"/>
<rect x="643.5" y="573.0" width="1.5" height="30.3" fill="#000" fill-opacity="0.04"/>
<rect x="646.5" y="573.0" width="2.0" height="30.3" fill="#fff" fill-opacity="0.15"/>
<rect x="648.5" y="573.0" width="1.5" height="30.3" fill="#fff" fill-opacity="0.10"/>
<rect x="650.0" y="573.0" width="1.0" height="30.3" fill="#000" fill-opacity="0.05"/>
<rect x="653.0" y="573.0" width="1.0" height="30.3" fill="#000" fill-opacity="0.02"/>
<rect x="655.5" y="573.0" width="2.0" height="30.3" fill="#000" fill-opacity="0.03"/>
<rect x="657.5" y="573.0" width="2.0" height="30.3" fill="#000" fill-opacity="0.04"/>
<rect x="659.5" y="573.0" width="3.0" height="30.3" fill="#000" fill-opacity="0.01"/>
<rect x="662.5" y="573.0" width="1.0" height="30.3" fill="#fff" fill-opacity="0.11"/>
<rect x="663.5" y="573.0" width="4.0" height="30.3" fill="#000" fill-opacity="0.03"/>
<rect x="667.5" y="573.0" width="2.0" height="30.3" fill="#000" fill-opacity="0.03"/>
<rect x="669.5" y="573.0" width="4.0" height="30.3" fill="#fff" fill-opacity="0.09"/>
<rect x="674.5" y="573.0" width="2.0" height="30.3" fill="#fff" fill-opacity="0.06"/>
<rect x="677.5" y="573.0" width="1.0" height="30.3" fill="#fff" fill-opacity="0.12"/>
<rect x="678.5" y="573.0" width="4.0" height="30.3" fill="#000" fill-opacity="0.02"/>
<rect x="682.5" y="573.0" width="1.0" height="30.3" fill="#000" fill-opacity="0.02"/>
<rect x="683.5" y="573.0" width="2.0" height="30.3" fill="#fff" fill-opacity="0.13"/>
<rect x="685.5" y="573.0" width="2.0" height="30.3" fill="#000" fill-opacity="0.01"/>
<rect x="687.5" y="573.0" width="1.5" height="30.3" fill="#fff" fill-opacity="0.08"/>
<rect x="693.0" y="573.0" width="3.0" height="30.3" fill="#000" fill-opacity="0.04"/>
<rect x="702.0" y="573.0" width="1.0" height="30.3" fill="#fff" fill-opacity="0.15"/>
<rect x="703.0" y="573.0" width="2.0" height="30.3" fill="#fff" fill-opacity="0.09"/>
<rect x="709.0" y="573.0" width="1.0" height="30.3" fill="#fff" fill-opacity="0.11"/>
<rect x="713.0" y="573.0" width="2.0" height="30.3" fill="#000" fill-opacity="0.04"/>
<rect x="715.0" y="573.0" width="1.5" height="30.3" fill="#fff" fill-opacity="0.14"/>
<rect x="720.5" y="573.0" width="1.0" height="30.3" fill="#fff" fill-opacity="0.15"/>
<rect x="725.5" y="573.0" width="2.0" height="30.3" fill="#fff" fill-opacity="0.13"/>
<rect x="727.5" y="573.0" width="1.0" height="30.3" fill="#fff" fill-opacity="0.05"/>
<rect x="728.5" y="573.0" width="2.0" height="30.3" fill="#fff" fill-opacity="0.09"/>
<rect x="730.5" y="573.0" width="2.0" height="30.3" fill="#000" fill-opacity="0.01"/>
<rect x="732.5" y="573.0" width="1.0" height="30.3" fill="#fff" fill-opacity="0.04"/>
<rect x="733.5" y="573.0" width="3.0" height="30.3" fill="#fff" fill-opacity="0.13"/>
<rect x="736.5" y="573.0" width="1.5" height="30.3" fill="#000" fill-opacity="0.05"/>
<rect x="738.0" y="573.0" width="4.0" height="30.3" fill="#000" fill-opacity="0.04"/>
<rect x="744.0" y="573.0" width="2.0" height="30.3" fill="#000" fill-opacity="0.04"/>
<rect x="746.0" y="573.0" width="1.5" height="30.3" fill="#fff" fill-opacity="0.11"/>
<rect x="747.5" y="573.0" width="4.0" height="30.3" fill="#000" fill-opacity="0.02"/>
<rect x="754.5" y="573.0" width="3.0" height="30.3" fill="#fff" fill-opacity="0.12"/>
<rect x="757.5" y="573.0" width="3.0" height="30.3" fill="#fff" fill-opacity="0.14"/>
<rect x="760.5" y="573.0" width="3.0" height="30.3" fill="#000" fill-opacity="0.03"/>
<rect x="763.5" y="573.0" width="1.5" height="30.3" fill="#fff" fill-opacity="0.05"/>
<rect x="765.0" y="573.0" width="1.0" height="30.3" fill="#000" fill-opacity="0.01"/>
<rect x="766.0" y="573.0" width="1.0" height="30.3" fill="#000" fill-opacity="0.03"/>
<rect x="767.0" y="573.0" width="3.0" height="30.3" fill="#fff" fill-opacity="0.05"/>
<rect x="770.0" y="573.0" width="1.5" height="30.3" fill="#fff" fill-opacity="0.10"/>
<rect x="773.5" y="573.0" width="2.0" height="30.3" fill="#fff" fill-opacity="0.10"/>
<rect x="775.5" y="573.0" width="1.5" height="30.3" fill="#fff" fill-opacity="0.15"/>
<rect x="777.0" y="573.0" width="2.0" height="30.3" fill="#000" fill-opacity="0.01"/>
<rect x="779.0" y="573.0" width="2.0" height="30.3" fill="#000" fill-opacity="0.05"/>
<rect x="781.0" y="573.0" width="1.5" height="30.3" fill="#000" fill-opacity="0.05"/>
<rect x="782.5" y="573.0" width="1.0" height="30.3" fill="#fff" fill-opacity="0.07"/>
<rect x="783.5" y="573.0" width="4.0" height="30.3" fill="#fff" fill-opacity="0.13"/>
<rect x="787.5" y="573.0" width="1.5" height="30.3" fill="#000" fill-opacity="0.01"/>
<rect x="789.0" y="573.0" width="4.0" height="30.3" fill="#000" fill-opacity="0.04"/>
<rect x="793.0" y="573.0" width="3.0" height="30.3" fill="#fff" fill-opacity="0.06"/>
<rect x="799.0" y="573.0" width="1.0" height="30.3" fill="#fff" fill-opacity="0.09"/>
<rect x="800.0" y="573.0" width="3.0" height="30.3" fill="#000" fill-opacity="0.03"/>
<rect x="803.0" y="573.0" width="4.0" height="30.3" fill="#000" fill-opacity="0.02"/>
<rect x="808.5" y="573.0" width="3.0" height="30.3" fill="#000" fill-opacity="0.02"/>
<rect x="811.5" y="573.0" width="4.0" height="30.3" fill="#000" fill-opacity="0.02"/>
<rect x="815.5" y="573.0" width="1.5" height="30.3" fill="#fff" fill-opacity="0.08"/>
<rect x="817.0" y="573.0" width="1.5" height="30.3" fill="#fff" fill-opacity="0.16"/>
<rect x="818.5" y="573.0" width="1.0" height="30.3" fill="#fff" fill-opacity="0.07"/>
<rect x="819.5" y="573.0" width="4.0" height="30.3" fill="#fff" fill-opacity="0.09"/>
<rect x="825.5" y="573.0" width="2.0" height="30.3" fill="#000" fill-opacity="0.04"/>
<rect x="827.5" y="573.0" width="1.5" height="30.3" fill="#fff" fill-opacity="0.12"/>
<rect x="829.0" y="573.0" width="1.0" height="30.3" fill="#fff" fill-opacity="0.11"/>
<rect x="832.0" y="573.0" width="2.0" height="30.3" fill="#fff" fill-opacity="0.10"/>
<rect x="834.0" y="573.0" width="2.0" height="30.3" fill="#000" fill-opacity="0.04"/>
<rect x="837.5" y="573.0" width="2.0" height="30.3" fill="#fff" fill-opacity="0.04"/>
<rect x="839.5" y="573.0" width="3.0" height="30.3" fill="#000" fill-opacity="0.05"/>
<rect x="842.5" y="573.0" width="2.0" height="30.3" fill="#fff" fill-opacity="0.06"/>
<rect x="844.5" y="573.0" width="1.5" height="30.3" fill="#fff" fill-opacity="0.06"/>
<rect x="848.0" y="573.0" width="1.0" height="30.3" fill="#000" fill-opacity="0.02"/>
<rect x="849.0" y="573.0" width="4.0" height="30.3" fill="#000" fill-opacity="0.04"/>
<rect x="853.0" y="573.0" width="2.0" height="30.3" fill="#fff" fill-opacity="0.09"/>
<rect x="855.0" y="573.0" width="2.0" height="30.3" fill="#fff" fill-opacity="0.11"/>
<rect x="857.0" y="573.0" width="1.0" height="30.3" fill="#000" fill-opacity="0.01"/>
<rect x="858.0" y="573.0" width="1.5" height="30.3" fill="#fff" fill-opacity="0.09"/>
<rect x="859.5" y="573.0" width="4.0" height="30.3" fill="#fff" fill-opacity="0.15"/>
<rect x="863.5" y="573.0" width="3.0" height="30.3" fill="#fff" fill-opacity="0.10"/>
<rect x="866.5" y="573.0" width="1.0" height="30.3" fill="#fff" fill-opacity="0.05"/>
<rect x="875.5" y="573.0" width="3.0" height="30.3" fill="#000" fill-opacity="0.03"/>
<rect x="880.5" y="573.0" width="2.0" height="30.3" fill="#fff" fill-opacity="0.05"/>
<rect x="886.5" y="573.0" width="2.0" height="30.3" fill="#fff" fill-opacity="0.08"/>
<rect x="888.5" y="573.0" width="3.0" height="30.3" fill="#000" fill-opacity="0.04"/>
<rect x="891.5" y="573.0" width="1.5" height="30.3" fill="#fff" fill-opacity="0.13"/>
<rect x="894.0" y="573.0" width="2.0" height="30.3" fill="#000" fill-opacity="0.01"/>
<rect x="898.0" y="573.0" width="3.0" height="30.3" fill="#fff" fill-opacity="0.07"/>
<rect x="901.0" y="573.0" width="4.0" height="30.3" fill="#fff" fill-opacity="0.07"/>
<rect x="905.0" y="573.0" width="2.0" height="30.3" fill="#000" fill-opacity="0.03"/>
<rect x="907.0" y="573.0" width="2.0" height="30.3" fill="#000" fill-opacity="0.03"/>
<rect x="909.0" y="573.0" width="1.5" height="30.3" fill="#000" fill-opacity="0.04"/>
<rect x="910.5" y="573.0" width="3.0" height="30.3" fill="#fff" fill-opacity="0.11"/>
<rect x="913.5" y="573.0" width="4.0" height="30.3" fill="#fff" fill-opacity="0.09"/>
<rect x="917.5" y="573.0" width="3.0" height="30.3" fill="#fff" fill-opacity="0.06"/>
<rect x="920.5" y="573.0" width="2.0" height="30.3" fill="#fff" fill-opacity="0.07"/>
<rect x="924.5" y="573.0" width="3.0" height="30.3" fill="#000" fill-opacity="0.03"/>
<rect x="927.5" y="573.0" width="3.0" height="30.3" fill="#000" fill-opacity="0.05"/>
<rect x="930.5" y="573.0" width="4.0" height="30.3" fill="#fff" fill-opacity="0.12"/>
<rect x="934.5" y="573.0" width="3.0" height="30.3" fill="#000" fill-opacity="0.04"/>
<rect x="937.5" y="573.0" width="1.0" height="30.3" fill="#fff" fill-opacity="0.15"/>
<rect x="938.5" y="573.0" width="2.0" height="30.3" fill="#000" fill-opacity="0.02"/>
<rect x="940.5" y="573.0" width="2.0" height="30.3" fill="#000" fill-opacity="0.03"/>
<rect x="944.5" y="573.0" width="2.0" height="30.3" fill="#fff" fill-opacity="0.09"/>
<rect x="946.5" y="573.0" width="2.0" height="30.3" fill="#fff" fill-opacity="0.07"/>
<rect x="948.5" y="573.0" width="1.2" height="30.3" fill="#fff" fill-opacity="0.15"/>
<rect x="445.5" y="603.3" width="4.0" height="31.1" fill="#000" fill-opacity="0.02"/>
<rect x="450.5" y="603.3" width="3.0" height="31.1" fill="#fff" fill-opacity="0.06"/>
<rect x="453.5" y="603.3" width="4.0" height="31.1" fill="#fff" fill-opacity="0.15"/>
<rect x="457.5" y="603.3" width="4.0" height="31.1" fill="#fff" fill-opacity="0.11"/>
<rect x="466.5" y="603.3" width="1.5" height="31.1" fill="#fff" fill-opacity="0.10"/>
<rect x="468.0" y="603.3" width="1.5" height="31.1" fill="#fff" fill-opacity="0.05"/>
<rect x="475.0" y="603.3" width="1.5" height="31.1" fill="#000" fill-opacity="0.01"/>
<rect x="476.5" y="603.3" width="3.0" height="31.1" fill="#fff" fill-opacity="0.05"/>
<rect x="479.5" y="603.3" width="1.0" height="31.1" fill="#fff" fill-opacity="0.06"/>
<rect x="480.5" y="603.3" width="2.0" height="31.1" fill="#fff" fill-opacity="0.12"/>
<rect x="482.5" y="603.3" width="2.0" height="31.1" fill="#000" fill-opacity="0.04"/>
<rect x="484.5" y="603.3" width="4.0" height="31.1" fill="#fff" fill-opacity="0.13"/>
<rect x="493.0" y="603.3" width="4.0" height="31.1" fill="#fff" fill-opacity="0.10"/>
<rect x="500.0" y="603.3" width="3.0" height="31.1" fill="#000" fill-opacity="0.02"/>
<rect x="503.0" y="603.3" width="2.0" height="31.1" fill="#000" fill-opacity="0.04"/>
<rect x="505.0" y="603.3" width="4.0" height="31.1" fill="#000" fill-opacity="0.04"/>
<rect x="509.0" y="603.3" width="1.5" height="31.1" fill="#fff" fill-opacity="0.07"/>
<rect x="514.5" y="603.3" width="4.0" height="31.1" fill="#fff" fill-opacity="0.05"/>
<rect x="518.5" y="603.3" width="2.0" height="31.1" fill="#fff" fill-opacity="0.04"/>
<rect x="520.5" y="603.3" width="1.0" height="31.1" fill="#fff" fill-opacity="0.10"/>
<rect x="522.5" y="603.3" width="4.0" height="31.1" fill="#fff" fill-opacity="0.07"/>
<rect x="526.5" y="603.3" width="2.0" height="31.1" fill="#000" fill-opacity="0.02"/>
<rect x="528.5" y="603.3" width="2.0" height="31.1" fill="#fff" fill-opacity="0.13"/>
<rect x="536.5" y="603.3" width="1.5" height="31.1" fill="#fff" fill-opacity="0.13"/>
<rect x="540.0" y="603.3" width="2.0" height="31.1" fill="#fff" fill-opacity="0.14"/>
<rect x="542.0" y="603.3" width="3.0" height="31.1" fill="#fff" fill-opacity="0.11"/>
<rect x="549.0" y="603.3" width="1.5" height="31.1" fill="#fff" fill-opacity="0.08"/>
<rect x="550.5" y="603.3" width="1.0" height="31.1" fill="#000" fill-opacity="0.02"/>
<rect x="551.5" y="603.3" width="3.0" height="31.1" fill="#fff" fill-opacity="0.11"/>
<rect x="556.5" y="603.3" width="2.0" height="31.1" fill="#fff" fill-opacity="0.13"/>
<rect x="558.5" y="603.3" width="1.0" height="31.1" fill="#fff" fill-opacity="0.15"/>
<rect x="559.5" y="603.3" width="3.0" height="31.1" fill="#fff" fill-opacity="0.08"/>
<rect x="566.5" y="603.3" width="2.0" height="31.1" fill="#fff" fill-opacity="0.06"/>
<rect x="568.5" y="603.3" width="2.0" height="31.1" fill="#000" fill-opacity="0.02"/>
<rect x="570.5" y="603.3" width="1.0" height="31.1" fill="#fff" fill-opacity="0.09"/>
<rect x="578.5" y="603.3" width="2.0" height="31.1" fill="#000" fill-opacity="0.05"/>
<rect x="580.5" y="603.3" width="2.0" height="31.1" fill="#fff" fill-opacity="0.09"/>
<rect x="586.5" y="603.3" width="1.5" height="31.1" fill="#fff" fill-opacity="0.14"/>
<rect x="588.0" y="603.3" width="1.0" height="31.1" fill="#fff" fill-opacity="0.09"/>
<rect x="591.0" y="603.3" width="4.0" height="31.1" fill="#000" fill-opacity="0.04"/>
<rect x="595.0" y="603.3" width="3.0" height="31.1" fill="#fff" fill-opacity="0.11"/>
<rect x="598.0" y="603.3" width="1.5" height="31.1" fill="#fff" fill-opacity="0.13"/>
<rect x="601.5" y="603.3" width="1.5" height="31.1" fill="#000" fill-opacity="0.03"/>
<rect x="603.0" y="603.3" width="3.0" height="31.1" fill="#fff" fill-opacity="0.04"/>
<rect x="606.0" y="603.3" width="2.0" height="31.1" fill="#fff" fill-opacity="0.11"/>
<rect x="608.0" y="603.3" width="3.0" height="31.1" fill="#fff" fill-opacity="0.05"/>
<rect x="611.0" y="603.3" width="4.0" height="31.1" fill="#fff" fill-opacity="0.08"/>
<rect x="615.0" y="603.3" width="1.0" height="31.1" fill="#000" fill-opacity="0.02"/>
<rect x="620.0" y="603.3" width="2.0" height="31.1" fill="#fff" fill-opacity="0.07"/>
<rect x="622.0" y="603.3" width="3.0" height="31.1" fill="#fff" fill-opacity="0.10"/>
<rect x="625.0" y="603.3" width="2.0" height="31.1" fill="#fff" fill-opacity="0.16"/>
<rect x="627.0" y="603.3" width="4.0" height="31.1" fill="#fff" fill-opacity="0.10"/>
<rect x="631.0" y="603.3" width="4.0" height="31.1" fill="#fff" fill-opacity="0.11"/>
<rect x="635.0" y="603.3" width="1.0" height="31.1" fill="#fff" fill-opacity="0.14"/>
<rect x="636.0" y="603.3" width="4.0" height="31.1" fill="#fff" fill-opacity="0.04"/>
<rect x="644.0" y="603.3" width="4.0" height="31.1" fill="#fff" fill-opacity="0.08"/>
<rect x="651.0" y="603.3" width="1.5" height="31.1" fill="#fff" fill-opacity="0.06"/>
<rect x="652.5" y="603.3" width="4.0" height="31.1" fill="#fff" fill-opacity="0.06"/>
<rect x="656.5" y="603.3" width="1.5" height="31.1" fill="#fff" fill-opacity="0.10"/>
<rect x="660.0" y="603.3" width="1.0" height="31.1" fill="#000" fill-opacity="0.04"/>
<rect x="661.0" y="603.3" width="2.0" height="31.1" fill="#000" fill-opacity="0.04"/>
<rect x="664.5" y="603.3" width="2.0" height="31.1" fill="#fff" fill-opacity="0.10"/>
<rect x="666.5" y="603.3" width="1.0" height="31.1" fill="#fff" fill-opacity="0.06"/>
<rect x="667.5" y="603.3" width="2.0" height="31.1" fill="#fff" fill-opacity="0.07"/>
<rect x="669.5" y="603.3" width="4.0" height="31.1" fill="#000" fill-opacity="0.03"/>
<rect x="673.5" y="603.3" width="2.0" height="31.1" fill="#fff" fill-opacity="0.07"/>
<rect x="677.0" y="603.3" width="2.0" height="31.1" fill="#000" fill-opacity="0.05"/>
<rect x="679.0" y="603.3" width="3.0" height="31.1" fill="#000" fill-opacity="0.02"/>
<rect x="684.0" y="603.3" width="2.0" height="31.1" fill="#000" fill-opacity="0.04"/>
<rect x="686.0" y="603.3" width="1.0" height="31.1" fill="#000" fill-opacity="0.02"/>
<rect x="687.0" y="603.3" width="1.0" height="31.1" fill="#fff" fill-opacity="0.06"/>
<rect x="693.0" y="603.3" width="1.0" height="31.1" fill="#000" fill-opacity="0.02"/>
<rect x="695.0" y="603.3" width="2.0" height="31.1" fill="#000" fill-opacity="0.02"/>
<rect x="697.0" y="603.3" width="2.0" height="31.1" fill="#000" fill-opacity="0.02"/>
<rect x="700.5" y="603.3" width="1.5" height="31.1" fill="#fff" fill-opacity="0.14"/>
<rect x="702.0" y="603.3" width="3.0" height="31.1" fill="#fff" fill-opacity="0.13"/>
<rect x="705.0" y="603.3" width="3.0" height="31.1" fill="#fff" fill-opacity="0.10"/>
<rect x="708.0" y="603.3" width="1.5" height="31.1" fill="#000" fill-opacity="0.02"/>
<rect x="712.5" y="603.3" width="1.0" height="31.1" fill="#fff" fill-opacity="0.11"/>
<rect x="713.5" y="603.3" width="3.0" height="31.1" fill="#fff" fill-opacity="0.10"/>
<rect x="716.5" y="603.3" width="2.0" height="31.1" fill="#fff" fill-opacity="0.13"/>
<rect x="721.5" y="603.3" width="2.0" height="31.1" fill="#fff" fill-opacity="0.06"/>
<rect x="726.0" y="603.3" width="2.0" height="31.1" fill="#fff" fill-opacity="0.11"/>
<rect x="728.0" y="603.3" width="3.0" height="31.1" fill="#000" fill-opacity="0.05"/>
<rect x="731.0" y="603.3" width="2.0" height="31.1" fill="#fff" fill-opacity="0.09"/>
<rect x="733.0" y="603.3" width="3.0" height="31.1" fill="#fff" fill-opacity="0.10"/>
<rect x="736.0" y="603.3" width="4.0" height="31.1" fill="#fff" fill-opacity="0.05"/>
<rect x="740.0" y="603.3" width="1.5" height="31.1" fill="#fff" fill-opacity="0.09"/>
<rect x="741.5" y="603.3" width="2.0" height="31.1" fill="#000" fill-opacity="0.04"/>
<rect x="743.5" y="603.3" width="1.0" height="31.1" fill="#000" fill-opacity="0.01"/>
<rect x="744.5" y="603.3" width="2.0" height="31.1" fill="#000" fill-opacity="0.03"/>
<rect x="746.5" y="603.3" width="2.0" height="31.1" fill="#000" fill-opacity="0.03"/>
<rect x="749.5" y="603.3" width="4.0" height="31.1" fill="#fff" fill-opacity="0.11"/>
<rect x="753.5" y="603.3" width="2.0" height="31.1" fill="#000" fill-opacity="0.05"/>
<rect x="755.5" y="603.3" width="4.0" height="31.1" fill="#fff" fill-opacity="0.08"/>
<rect x="759.5" y="603.3" width="2.0" height="31.1" fill="#000" fill-opacity="0.01"/>
<rect x="761.5" y="603.3" width="1.5" height="31.1" fill="#fff" fill-opacity="0.13"/>
<rect x="763.0" y="603.3" width="2.0" height="31.1" fill="#fff" fill-opacity="0.07"/>
<rect x="765.0" y="603.3" width="2.0" height="31.1" fill="#000" fill-opacity="0.02"/>
<rect x="767.0" y="603.3" width="2.0" height="31.1" fill="#fff" fill-opacity="0.06"/>
<rect x="769.0" y="603.3" width="1.0" height="31.1" fill="#fff" fill-opacity="0.12"/>
<rect x="770.0" y="603.3" width="1.5" height="31.1" fill="#fff" fill-opacity="0.09"/>
<rect x="771.5" y="603.3" width="2.0" height="31.1" fill="#000" fill-opacity="0.01"/>
<rect x="773.5" y="603.3" width="1.5" height="31.1" fill="#fff" fill-opacity="0.16"/>
<rect x="775.0" y="603.3" width="2.0" height="31.1" fill="#fff" fill-opacity="0.05"/>
<rect x="779.0" y="603.3" width="1.5" height="31.1" fill="#000" fill-opacity="0.04"/>
<rect x="780.5" y="603.3" width="4.0" height="31.1" fill="#fff" fill-opacity="0.08"/>
<rect x="784.5" y="603.3" width="2.0" height="31.1" fill="#000" fill-opacity="0.04"/>
<rect x="786.5" y="603.3" width="3.0" height="31.1" fill="#000" fill-opacity="0.05"/>
<rect x="789.5" y="603.3" width="1.5" height="31.1" fill="#000" fill-opacity="0.03"/>
<rect x="791.0" y="603.3" width="1.0" height="31.1" fill="#fff" fill-opacity="0.06"/>
<rect x="792.0" y="603.3" width="2.0" height="31.1" fill="#000" fill-opacity="0.01"/>
<rect x="794.0" y="603.3" width="2.0" height="31.1" fill="#fff" fill-opacity="0.08"/>
<rect x="798.0" y="603.3" width="3.0" height="31.1" fill="#000" fill-opacity="0.02"/>
<rect x="804.0" y="603.3" width="3.0" height="31.1" fill="#fff" fill-opacity="0.11"/>
<rect x="807.0" y="603.3" width="3.0" height="31.1" fill="#fff" fill-opacity="0.13"/>
<rect x="817.0" y="603.3" width="1.5" height="31.1" fill="#000" fill-opacity="0.01"/>
<rect x="818.5" y="603.3" width="4.0" height="31.1" fill="#fff" fill-opacity="0.05"/>
<rect x="822.5" y="603.3" width="1.5" height="31.1" fill="#000" fill-opacity="0.03"/>
<rect x="824.0" y="603.3" width="2.0" height="31.1" fill="#fff" fill-opacity="0.15"/>
<rect x="826.0" y="603.3" width="2.0" height="31.1" fill="#fff" fill-opacity="0.15"/>
<rect x="830.0" y="603.3" width="1.5" height="31.1" fill="#fff" fill-opacity="0.11"/>
<rect x="831.5" y="603.3" width="3.0" height="31.1" fill="#000" fill-opacity="0.03"/>
<rect x="834.5" y="603.3" width="2.0" height="31.1" fill="#fff" fill-opacity="0.13"/>
<rect x="836.5" y="603.3" width="2.0" height="31.1" fill="#000" fill-opacity="0.01"/>
<rect x="838.5" y="603.3" width="1.0" height="31.1" fill="#fff" fill-opacity="0.15"/>
<rect x="843.0" y="603.3" width="1.5" height="31.1" fill="#000" fill-opacity="0.04"/>
<rect x="844.5" y="603.3" width="2.0" height="31.1" fill="#fff" fill-opacity="0.06"/>
<rect x="846.5" y="603.3" width="4.0" height="31.1" fill="#fff" fill-opacity="0.13"/>
<rect x="854.5" y="603.3" width="3.0" height="31.1" fill="#000" fill-opacity="0.04"/>
<rect x="857.5" y="603.3" width="1.0" height="31.1" fill="#fff" fill-opacity="0.09"/>
<rect x="858.5" y="603.3" width="1.0" height="31.1" fill="#fff" fill-opacity="0.09"/>
<rect x="859.5" y="603.3" width="3.0" height="31.1" fill="#fff" fill-opacity="0.08"/>
<rect x="862.5" y="603.3" width="1.5" height="31.1" fill="#fff" fill-opacity="0.11"/>
<rect x="864.0" y="603.3" width="2.0" height="31.1" fill="#fff" fill-opacity="0.13"/>
<rect x="866.0" y="603.3" width="4.0" height="31.1" fill="#000" fill-opacity="0.02"/>
<rect x="870.0" y="603.3" width="2.0" height="31.1" fill="#000" fill-opacity="0.03"/>
<rect x="874.0" y="603.3" width="4.0" height="31.1" fill="#000" fill-opacity="0.03"/>
<rect x="878.0" y="603.3" width="2.0" height="31.1" fill="#000" fill-opacity="0.05"/>
<rect x="880.0" y="603.3" width="4.0" height="31.1" fill="#fff" fill-opacity="0.09"/>
<rect x="884.0" y="603.3" width="3.0" height="31.1" fill="#fff" fill-opacity="0.15"/>
<rect x="887.0" y="603.3" width="2.0" height="31.1" fill="#000" fill-opacity="0.03"/>
<rect x="889.0" y="603.3" width="1.0" height="31.1" fill="#fff" fill-opacity="0.05"/>
<rect x="890.0" y="603.3" width="4.0" height="31.1" fill="#000" fill-opacity="0.03"/>
<rect x="894.0" y="603.3" width="2.0" height="31.1" fill="#000" fill-opacity="0.04"/>
<rect x="898.0" y="603.3" width="1.0" height="31.1" fill="#fff" fill-opacity="0.14"/>
<rect x="899.0" y="603.3" width="1.5" height="31.1" fill="#000" fill-opacity="0.03"/>
<rect x="900.5" y="603.3" width="1.0" height="31.1" fill="#000" fill-opacity="0.01"/>
<rect x="901.5" y="603.3" width="1.5" height="31.1" fill="#000" fill-opacity="0.04"/>
<rect x="908.5" y="603.3" width="4.0" height="31.1" fill="#fff" fill-opacity="0.11"/>
<rect x="915.5" y="603.3" width="1.5" height="31.1" fill="#000" fill-opacity="0.03"/>
<rect x="918.0" y="603.3" width="1.0" height="31.1" fill="#000" fill-opacity="0.02"/>
<rect x="919.0" y="603.3" width="3.0" height="31.1" fill="#000" fill-opacity="0.03"/>
<rect x="922.0" y="603.3" width="2.0" height="31.1" fill="#fff" fill-opacity="0.08"/>
<rect x="924.0" y="603.3" width="2.0" height="31.1" fill="#fff" fill-opacity="0.09"/>
<rect x="928.0" y="603.3" width="2.0" height="31.1" fill="#fff" fill-opacity="0.12"/>
<rect x="930.0" y="603.3" width="1.5" height="31.1" fill="#fff" fill-opacity="0.04"/>
<rect x="931.5" y="603.3" width="2.0" height="31.1" fill="#fff" fill-opacity="0.10"/>
<rect x="935.5" y="603.3" width="1.5" height="31.1" fill="#fff" fill-opacity="0.15"/>
<rect x="937.0" y="603.3" width="1.0" height="31.1" fill="#fff" fill-opacity="0.14"/>
<rect x="940.0" y="603.3" width="1.0" height="31.1" fill="#fff" fill-opacity="0.15"/>
<rect x="941.0" y="603.3" width="3.0" height="31.1" fill="#fff" fill-opacity="0.12"/>
<rect x="945.5" y="603.3" width="1.0" height="31.1" fill="#000" fill-opacity="0.02"/>
<rect x="449.5" y="634.4" width="2.0" height="30.5" fill="#000" fill-opacity="0.05"/>
<rect x="451.5" y="634.4" width="2.0" height="30.5" fill="#fff" fill-opacity="0.06"/>
<rect x="453.5" y="634.4" width="2.0" height="30.5" fill="#fff" fill-opacity="0.12"/>
<rect x="455.5" y="634.4" width="2.0" height="30.5" fill="#fff" fill-opacity="0.07"/>
<rect x="457.5" y="634.4" width="4.0" height="30.5" fill="#fff" fill-opacity="0.07"/>
<rect x="461.5" y="634.4" width="4.0" height="30.5" fill="#000" fill-opacity="0.01"/>
<rect x="465.5" y="634.4" width="3.0" height="30.5" fill="#fff" fill-opacity="0.08"/>
<rect x="468.5" y="634.4" width="1.5" height="30.5" fill="#000" fill-opacity="0.02"/>
<rect x="470.0" y="634.4" width="4.0" height="30.5" fill="#000" fill-opacity="0.03"/>
<rect x="474.0" y="634.4" width="1.0" height="30.5" fill="#fff" fill-opacity="0.10"/>
<rect x="478.0" y="634.4" width="1.0" height="30.5" fill="#000" fill-opacity="0.02"/>
<rect x="479.0" y="634.4" width="2.0" height="30.5" fill="#fff" fill-opacity="0.11"/>
<rect x="481.0" y="634.4" width="1.5" height="30.5" fill="#fff" fill-opacity="0.13"/>
<rect x="482.5" y="634.4" width="1.5" height="30.5" fill="#fff" fill-opacity="0.13"/>
<rect x="484.0" y="634.4" width="1.0" height="30.5" fill="#fff" fill-opacity="0.15"/>
<rect x="485.0" y="634.4" width="1.0" height="30.5" fill="#000" fill-opacity="0.05"/>
<rect x="486.0" y="634.4" width="3.0" height="30.5" fill="#fff" fill-opacity="0.15"/>
<rect x="489.0" y="634.4" width="2.0" height="30.5" fill="#fff" fill-opacity="0.05"/>
<rect x="495.0" y="634.4" width="2.0" height="30.5" fill="#000" fill-opacity="0.04"/>
<rect x="497.0" y="634.4" width="3.0" height="30.5" fill="#fff" fill-opacity="0.14"/>
<rect x="500.0" y="634.4" width="4.0" height="30.5" fill="#000" fill-opacity="0.03"/>
<rect x="504.0" y="634.4" width="3.0" height="30.5" fill="#fff" fill-opacity="0.13"/>
<rect x="507.0" y="634.4" width="1.5" height="30.5" fill="#fff" fill-opacity="0.09"/>
<rect x="508.5" y="634.4" width="4.0" height="30.5" fill="#fff" fill-opacity="0.13"/>
<rect x="516.5" y="634.4" width="1.5" height="30.5" fill="#fff" fill-opacity="0.11"/>
<rect x="518.0" y="634.4" width="3.0" height="30.5" fill="#000" fill-opacity="0.02"/>
<rect x="521.0" y="634.4" width="1.5" height="30.5" fill="#000" fill-opacity="0.04"/>
<rect x="522.5" y="634.4" width="3.0" height="30.5" fill="#fff" fill-opacity="0.15"/>
<rect x="525.5" y="634.4" width="2.0" height="30.5" fill="#fff" fill-opacity="0.04"/>
<rect x="529.5" y="634.4" width="3.0" height="30.5" fill="#fff" fill-opacity="0.07"/>
<rect x="532.5" y="634.4" width="1.0" height="30.5" fill="#fff" fill-opacity="0.15"/>
<rect x="533.5" y="634.4" width="3.0" height="30.5" fill="#000" fill-opacity="0.03"/>
<rect x="536.5" y="634.4" width="4.0" height="30.5" fill="#fff" fill-opacity="0.06"/>
<rect x="540.5" y="634.4" width="2.0" height="30.5" fill="#fff" fill-opacity="0.12"/>
<rect x="542.5" y="634.4" width="3.0" height="30.5" fill="#000" fill-opacity="0.04"/>
<rect x="545.5" y="634.4" width="3.0" height="30.5" fill="#000" fill-opacity="0.04"/>
<rect x="548.5" y="634.4" width="3.0" height="30.5" fill="#fff" fill-opacity="0.07"/>
<rect x="551.5" y="634.4" width="1.5" height="30.5" fill="#000" fill-opacity="0.04"/>
<rect x="556.0" y="634.4" width="1.0" height="30.5" fill="#fff" fill-opacity="0.10"/>
<rect x="557.0" y="634.4" width="4.0" height="30.5" fill="#fff" fill-opacity="0.16"/>
<rect x="561.0" y="634.4" width="1.0" height="30.5" fill="#fff" fill-opacity="0.13"/>
<rect x="565.0" y="634.4" width="1.5" height="30.5" fill="#000" fill-opacity="0.03"/>
<rect x="566.5" y="634.4" width="1.0" height="30.5" fill="#fff" fill-opacity="0.09"/>
<rect x="567.5" y="634.4" width="3.0" height="30.5" fill="#fff" fill-opacity="0.09"/>
<rect x="570.5" y="634.4" width="2.0" height="30.5" fill="#000" fill-opacity="0.05"/>
<rect x="572.5" y="634.4" width="1.0" height="30.5" fill="#000" fill-opacity="0.04"/>
<rect x="573.5" y="634.4" width="4.0" height="30.5" fill="#000" fill-opacity="0.02"/>
<rect x="577.5" y="634.4" width="1.0" height="30.5" fill="#000" fill-opacity="0.02"/>
<rect x="578.5" y="634.4" width="2.0" height="30.5" fill="#fff" fill-opacity="0.07"/>
<rect x="580.5" y="634.4" width="2.0" height="30.5" fill="#fff" fill-opacity="0.16"/>
<rect x="582.5" y="634.4" width="3.0" height="30.5" fill="#fff" fill-opacity="0.06"/>
<rect x="585.5" y="634.4" width="3.0" height="30.5" fill="#000" fill-opacity="0.01"/>
<rect x="588.5" y="634.4" width="2.0" height="30.5" fill="#000" fill-opacity="0.05"/>
<rect x="593.5" y="634.4" width="1.5" height="30.5" fill="#000" fill-opacity="0.03"/>
<rect x="595.0" y="634.4" width="1.5" height="30.5" fill="#fff" fill-opacity="0.13"/>
<rect x="596.5" y="634.4" width="1.5" height="30.5" fill="#fff" fill-opacity="0.07"/>
<rect x="601.0" y="634.4" width="2.0" height="30.5" fill="#fff" fill-opacity="0.07"/>
<rect x="605.0" y="634.4" width="2.0" height="30.5" fill="#fff" fill-opacity="0.16"/>
<rect x="607.0" y="634.4" width="4.0" height="30.5" fill="#fff" fill-opacity="0.10"/>
<rect x="611.0" y="634.4" width="3.0" height="30.5" fill="#fff" fill-opacity="0.05"/>
<rect x="614.0" y="634.4" width="4.0" height="30.5" fill="#fff" fill-opacity="0.15"/>
<rect x="618.0" y="634.4" width="3.0" height="30.5" fill="#fff" fill-opacity="0.06"/>
<rect x="621.0" y="634.4" width="2.0" height="30.5" fill="#000" fill-opacity="0.03"/>
<rect x="623.0" y="634.4" width="4.0" height="30.5" fill="#000" fill-opacity="0.02"/>
<rect x="627.0" y="634.4" width="2.0" height="30.5" fill="#fff" fill-opacity="0.13"/>
<rect x="629.0" y="634.4" width="2.0" height="30.5" fill="#fff" fill-opacity="0.07"/>
<rect x="631.0" y="634.4" width="1.0" height="30.5" fill="#fff" fill-opacity="0.08"/>
<rect x="632.0" y="634.4" width="2.0" height="30.5" fill="#fff" fill-opacity="0.14"/>
<rect x="634.0" y="634.4" width="2.0" height="30.5" fill="#fff" fill-opacity="0.13"/>
<rect x="636.0" y="634.4" width="3.0" height="30.5" fill="#000" fill-opacity="0.02"/>
<rect x="639.0" y="634.4" width="3.0" height="30.5" fill="#fff" fill-opacity="0.04"/>
<rect x="642.0" y="634.4" width="1.5" height="30.5" fill="#000" fill-opacity="0.02"/>
<rect x="643.5" y="634.4" width="1.5" height="30.5" fill="#fff" fill-opacity="0.09"/>
<rect x="645.0" y="634.4" width="3.0" height="30.5" fill="#000" fill-opacity="0.03"/>
<rect x="648.0" y="634.4" width="3.0" height="30.5" fill="#fff" fill-opacity="0.13"/>
<rect x="651.0" y="634.4" width="4.0" height="30.5" fill="#fff" fill-opacity="0.15"/>
<rect x="655.0" y="634.4" width="2.0" height="30.5" fill="#000" fill-opacity="0.03"/>
<rect x="657.0" y="634.4" width="1.5" height="30.5" fill="#fff" fill-opacity="0.14"/>
<rect x="658.5" y="634.4" width="1.5" height="30.5" fill="#fff" fill-opacity="0.08"/>
<rect x="660.0" y="634.4" width="3.0" height="30.5" fill="#fff" fill-opacity="0.04"/>
<rect x="663.0" y="634.4" width="1.0" height="30.5" fill="#000" fill-opacity="0.03"/>
<rect x="665.0" y="634.4" width="4.0" height="30.5" fill="#fff" fill-opacity="0.12"/>
<rect x="669.0" y="634.4" width="1.5" height="30.5" fill="#000" fill-opacity="0.02"/>
<rect x="671.5" y="634.4" width="2.0" height="30.5" fill="#fff" fill-opacity="0.12"/>
<rect x="674.5" y="634.4" width="1.0" height="30.5" fill="#fff" fill-opacity="0.05"/>
<rect x="677.5" y="634.4" width="2.0" height="30.5" fill="#000" fill-opacity="0.02"/>
<rect x="681.0" y="634.4" width="1.5" height="30.5" fill="#000" fill-opacity="0.02"/>
<rect x="682.5" y="634.4" width="4.0" height="30.5" fill="#000" fill-opacity="0.03"/>
<rect x="686.5" y="634.4" width="4.0" height="30.5" fill="#fff" fill-opacity="0.09"/>
<rect x="690.5" y="634.4" width="1.5" height="30.5" fill="#000" fill-opacity="0.02"/>
<rect x="692.0" y="634.4" width="3.0" height="30.5" fill="#fff" fill-opacity="0.15"/>
<rect x="695.0" y="634.4" width="2.0" height="30.5" fill="#fff" fill-opacity="0.15"/>
<rect x="697.0" y="634.4" width="2.0" height="30.5" fill="#fff" fill-opacity="0.09"/>
<rect x="699.0" y="634.4" width="3.0" height="30.5" fill="#fff" fill-opacity="0.13"/>
<rect x="702.0" y="634.4" width="2.0" height="30.5" fill="#fff" fill-opacity="0.04"/>
<rect x="706.0" y="634.4" width="3.0" height="30.5" fill="#fff" fill-opacity="0.14"/>
<rect x="709.0" y="634.4" width="1.5" height="30.5" fill="#000" fill-opacity="0.03"/>
<rect x="712.5" y="634.4" width="2.0" height="30.5" fill="#fff" fill-opacity="0.12"/>
<rect x="716.0" y="634.4" width="4.0" height="30.5" fill="#fff" fill-opacity="0.11"/>
<rect x="720.0" y="634.4" width="3.0" height="30.5" fill="#fff" fill-opacity="0.07"/>
<rect x="727.0" y="634.4" width="2.0" height="30.5" fill="#fff" fill-opacity="0.06"/>
<rect x="729.0" y="634.4" width="3.0" height="30.5" fill="#fff" fill-opacity="0.10"/>
<rect x="734.0" y="634.4" width="1.5" height="30.5" fill="#000" fill-opacity="0.02"/>
<rect x="735.5" y="634.4" width="2.0" height="30.5" fill="#000" fill-opacity="0.02"/>
<rect x="738.5" y="634.4" width="2.0" height="30.5" fill="#fff" fill-opacity="0.11"/>
<rect x="744.5" y="634.4" width="1.0" height="30.5" fill="#000" fill-opacity="0.03"/>
<rect x="749.5" y="634.4" width="2.0" height="30.5" fill="#fff" fill-opacity="0.05"/>
<rect x="751.5" y="634.4" width="1.0" height="30.5" fill="#fff" fill-opacity="0.13"/>
<rect x="752.5" y="634.4" width="4.0" height="30.5" fill="#fff" fill-opacity="0.06"/>
<rect x="758.0" y="634.4" width="1.5" height="30.5" fill="#fff" fill-opacity="0.12"/>
<rect x="759.5" y="634.4" width="3.0" height="30.5" fill="#fff" fill-opacity="0.09"/>
<rect x="762.5" y="634.4" width="2.0" height="30.5" fill="#000" fill-opacity="0.03"/>
<rect x="764.5" y="634.4" width="1.5" height="30.5" fill="#000" fill-opacity="0.02"/>
<rect x="766.0" y="634.4" width="4.0" height="30.5" fill="#fff" fill-opacity="0.10"/>
<rect x="772.5" y="634.4" width="4.0" height="30.5" fill="#fff" fill-opacity="0.14"/>
<rect x="779.5" y="634.4" width="2.0" height="30.5" fill="#fff" fill-opacity="0.11"/>
<rect x="783.5" y="634.4" width="1.0" height="30.5" fill="#fff" fill-opacity="0.09"/>
<rect x="788.5" y="634.4" width="2.0" height="30.5" fill="#fff" fill-opacity="0.12"/>
<rect x="790.5" y="634.4" width="2.0" height="30.5" fill="#000" fill-opacity="0.02"/>
<rect x="796.0" y="634.4" width="1.5" height="30.5" fill="#000" fill-opacity="0.03"/>
<rect x="797.5" y="634.4" width="4.0" height="30.5" fill="#fff" fill-opacity="0.13"/>
<rect x="803.5" y="634.4" width="1.5" height="30.5" fill="#fff" fill-opacity="0.11"/>
<rect x="805.0" y="634.4" width="2.0" height="30.5" fill="#fff" fill-opacity="0.06"/>
<rect x="807.0" y="634.4" width="1.0" height="30.5" fill="#000" fill-opacity="0.04"/>
<rect x="808.0" y="634.4" width="1.5" height="30.5" fill="#fff" fill-opacity="0.07"/>
<rect x="809.5" y="634.4" width="2.0" height="30.5" fill="#000" fill-opacity="0.03"/>
<rect x="815.5" y="634.4" width="1.0" height="30.5" fill="#fff" fill-opacity="0.16"/>
<rect x="816.5" y="634.4" width="1.0" height="30.5" fill="#fff" fill-opacity="0.08"/>
<rect x="820.5" y="634.4" width="1.0" height="30.5" fill="#fff" fill-opacity="0.15"/>
<rect x="824.5" y="634.4" width="1.5" height="30.5" fill="#fff" fill-opacity="0.08"/>
<rect x="826.0" y="634.4" width="4.0" height="30.5" fill="#fff" fill-opacity="0.09"/>
<rect x="830.0" y="634.4" width="3.0" height="30.5" fill="#fff" fill-opacity="0.06"/>
<rect x="833.0" y="634.4" width="3.0" height="30.5" fill="#fff" fill-opacity="0.12"/>
<rect x="836.0" y="634.4" width="3.0" height="30.5" fill="#fff" fill-opacity="0.14"/>
<rect x="839.0" y="634.4" width="2.0" height="30.5" fill="#fff" fill-opacity="0.05"/>
<rect x="843.0" y="634.4" width="2.0" height="30.5" fill="#fff" fill-opacity="0.08"/>
<rect x="845.0" y="634.4" width="1.0" height="30.5" fill="#fff" fill-opacity="0.11"/>
<rect x="846.0" y="634.4" width="2.0" height="30.5" fill="#000" fill-opacity="0.02"/>
<rect x="848.0" y="634.4" width="1.5" height="30.5" fill="#fff" fill-opacity="0.06"/>
<rect x="849.5" y="634.4" width="3.0" height="30.5" fill="#fff" fill-opacity="0.05"/>
<rect x="852.5" y="634.4" width="1.0" height="30.5" fill="#fff" fill-opacity="0.13"/>
<rect x="853.5" y="634.4" width="4.0" height="30.5" fill="#fff" fill-opacity="0.06"/>
<rect x="857.5" y="634.4" width="2.0" height="30.5" fill="#fff" fill-opacity="0.13"/>
<rect x="859.5" y="634.4" width="2.0" height="30.5" fill="#000" fill-opacity="0.03"/>
<rect x="861.5" y="634.4" width="3.0" height="30.5" fill="#fff" fill-opacity="0.05"/>
<rect x="864.5" y="634.4" width="3.0" height="30.5" fill="#000" fill-opacity="0.04"/>
<rect x="867.5" y="634.4" width="2.0" height="30.5" fill="#fff" fill-opacity="0.15"/>
<rect x="871.0" y="634.4" width="2.0" height="30.5" fill="#000" fill-opacity="0.05"/>
<rect x="873.0" y="634.4" width="1.0" height="30.5" fill="#fff" fill-opacity="0.04"/>
<rect x="874.0" y="634.4" width="1.5" height="30.5" fill="#000" fill-opacity="0.04"/>
<rect x="875.5" y="634.4" width="2.0" height="30.5" fill="#fff" fill-opacity="0.13"/>
<rect x="877.5" y="634.4" width="2.0" height="30.5" fill="#fff" fill-opacity="0.10"/>
<rect x="879.5" y="634.4" width="1.5" height="30.5" fill="#fff" fill-opacity="0.08"/>
<rect x="881.0" y="634.4" width="3.0" height="30.5" fill="#fff" fill-opacity="0.07"/>
<rect x="884.0" y="634.4" width="4.0" height="30.5" fill="#000" fill-opacity="0.02"/>
<rect x="892.0" y="634.4" width="2.0" height="30.5" fill="#fff" fill-opacity="0.12"/>
<rect x="896.0" y="634.4" width="3.0" height="30.5" fill="#fff" fill-opacity="0.11"/>
<rect x="899.0" y="634.4" width="1.5" height="30.5" fill="#fff" fill-opacity="0.13"/>
<rect x="900.5" y="634.4" width="3.0" height="30.5" fill="#000" fill-opacity="0.04"/>
<rect x="903.5" y="634.4" width="2.0" height="30.5" fill="#000" fill-opacity="0.03"/>
<rect x="905.5" y="634.4" width="2.0" height="30.5" fill="#fff" fill-opacity="0.15"/>
<rect x="907.5" y="634.4" width="2.0" height="30.5" fill="#000" fill-opacity="0.02"/>
<rect x="909.5" y="634.4" width="1.5" height="30.5" fill="#000" fill-opacity="0.02"/>
<rect x="911.0" y="634.4" width="4.0" height="30.5" fill="#fff" fill-opacity="0.08"/>
<rect x="915.0" y="634.4" width="1.5" height="30.5" fill="#fff" fill-opacity="0.05"/>
<rect x="916.5" y="634.4" width="1.5" height="30.5" fill="#fff" fill-opacity="0.06"/>
<rect x="918.0" y="634.4" width="1.0" height="30.5" fill="#fff" fill-opacity="0.10"/>
<rect x="919.0" y="634.4" width="2.0" height="30.5" fill="#fff" fill-opacity="0.15"/>
<rect x="921.0" y="634.4" width="1.5" height="30.5" fill="#fff" fill-opacity="0.06"/>
<rect x="923.5" y="634.4" width="1.0" height="30.5" fill="#000" fill-opacity="0.02"/>
<rect x="926.5" y="634.4" width="1.5" height="30.5" fill="#000" fill-opacity="0.04"/>
<rect x="929.5" y="634.4" width="1.0" height="30.5" fill="#000" fill-opacity="0.05"/>
<rect x="932.5" y="634.4" width="2.0" height="30.5" fill="#000" fill-opacity="0.01"/>
<rect x="934.5" y="634.4" width="4.0" height="30.5" fill="#000" fill-opacity="0.03"/>
<rect x="938.5" y="634.4" width="4.0" height="30.5" fill="#fff" fill-opacity="0.11"/>
<rect x="944.5" y="634.4" width="4.0" height="30.5" fill="#000" fill-opacity="0.03"/>
<rect x="446.5" y="664.9" width="4.0" height="31.3" fill="#000" fill-opacity="0.03"/>
<rect x="450.5" y="664.9" width="2.0" height="31.3" fill="#fff" fill-opacity="0.09"/>
<rect x="452.5" y="664.9" width="1.5" height="31.3" fill="#fff" fill-opacity="0.10"/>
<rect x="454.0" y="664.9" width="1.0" height="31.3" fill="#000" fill-opacity="0.01"/>
<rect x="455.0" y="664.9" width="4.0" height="31.3" fill="#000" fill-opacity="0.02"/>
<rect x="459.0" y="664.9" width="1.0" height="31.3" fill="#000" fill-opacity="0.05"/>
<rect x="460.0" y="664.9" width="1.5" height="31.3" fill="#000" fill-opacity="0.02"/>
<rect x="461.5" y="664.9" width="2.0" height="31.3" fill="#000" fill-opacity="0.02"/>
<rect x="463.5" y="664.9" width="4.0" height="31.3" fill="#000" fill-opacity="0.03"/>
<rect x="470.0" y="664.9" width="2.0" height="31.3" fill="#fff" fill-opacity="0.06"/>
<rect x="477.5" y="664.9" width="1.0" height="31.3" fill="#000" fill-opacity="0.05"/>
<rect x="478.5" y="664.9" width="1.0" height="31.3" fill="#fff" fill-opacity="0.04"/>
<rect x="479.5" y="664.9" width="2.0" height="31.3" fill="#fff" fill-opacity="0.14"/>
<rect x="481.5" y="664.9" width="2.0" height="31.3" fill="#fff" fill-opacity="0.04"/>
<rect x="483.5" y="664.9" width="2.0" height="31.3" fill="#fff" fill-opacity="0.07"/>
<rect x="485.5" y="664.9" width="4.0" height="31.3" fill="#fff" fill-opacity="0.05"/>
<rect x="501.0" y="664.9" width="1.5" height="31.3" fill="#fff" fill-opacity="0.04"/>
<rect x="506.0" y="664.9" width="1.0" height="31.3" fill="#fff" fill-opacity="0.11"/>
<rect x="508.0" y="664.9" width="3.0" height="31.3" fill="#000" fill-opacity="0.03"/>
<rect x="512.0" y="664.9" width="1.5" height="31.3" fill="#000" fill-opacity="0.02"/>
<rect x="517.5" y="664.9" width="3.0" height="31.3" fill="#000" fill-opacity="0.03"/>
<rect x="521.5" y="664.9" width="4.0" height="31.3" fill="#fff" fill-opacity="0.12"/>
<rect x="525.5" y="664.9" width="2.0" height="31.3" fill="#000" fill-opacity="0.02"/>
<rect x="527.5" y="664.9" width="1.5" height="31.3" fill="#fff" fill-opacity="0.06"/>
<rect x="529.0" y="664.9" width="4.0" height="31.3" fill="#000" fill-opacity="0.01"/>
<rect x="533.0" y="664.9" width="2.0" height="31.3" fill="#fff" fill-opacity="0.15"/>
<rect x="535.0" y="664.9" width="3.0" height="31.3" fill="#000" fill-opacity="0.02"/>
<rect x="539.0" y="664.9" width="4.0" height="31.3" fill="#fff" fill-opacity="0.13"/>
<rect x="545.0" y="664.9" width="1.5" height="31.3" fill="#fff" fill-opacity="0.12"/>
<rect x="546.5" y="664.9" width="2.0" height="31.3" fill="#fff" fill-opacity="0.11"/>
<rect x="548.5" y="664.9" width="2.0" height="31.3" fill="#000" fill-opacity="0.03"/>
<rect x="550.5" y="664.9" width="1.0" height="31.3" fill="#fff" fill-opacity="0.12"/>
<rect x="551.5" y="664.9" width="1.5" height="31.3" fill="#000" fill-opacity="0.01"/>
<rect x="556.0" y="664.9" width="1.0" height="31.3" fill="#000" fill-opacity="0.03"/>
<rect x="557.0" y="664.9" width="2.0" height="31.3" fill="#fff" fill-opacity="0.13"/>
<rect x="559.0" y="664.9" width="3.0" height="31.3" fill="#fff" fill-opacity="0.12"/>
<rect x="562.0" y="664.9" width="2.0" height="31.3" fill="#fff" fill-opacity="0.07"/>
<rect x="564.0" y="664.9" width="2.0" height="31.3" fill="#000" fill-opacity="0.02"/>
<rect x="566.0" y="664.9" width="4.0" height="31.3" fill="#000" fill-opacity="0.04"/>
<rect x="570.0" y="664.9" width="1.5" height="31.3" fill="#fff" fill-opacity="0.08"/>
<rect x="574.5" y="664.9" width="2.0" height="31.3" fill="#fff" fill-opacity="0.07"/>
<rect x="577.5" y="664.9" width="3.0" height="31.3" fill="#fff" fill-opacity="0.12"/>
<rect x="583.5" y="664.9" width="1.0" height="31.3" fill="#fff" fill-opacity="0.13"/>
<rect x="584.5" y="664.9" width="4.0" height="31.3" fill="#000" fill-opacity="0.05"/>
<rect x="588.5" y="664.9" width="1.0" height="31.3" fill="#000" fill-opacity="0.02"/>
<rect x="589.5" y="664.9" width="1.0" height="31.3" fill="#fff" fill-opacity="0.10"/>
<rect x="590.5" y="664.9" width="2.0" height="31.3" fill="#000" fill-opacity="0.04"/>
<rect x="594.5" y="664.9" width="2.0" height="31.3" fill="#fff" fill-opacity="0.07"/>
<rect x="596.5" y="664.9" width="3.0" height="31.3" fill="#000" fill-opacity="0.05"/>
<rect x="600.5" y="664.9" width="4.0" height="31.3" fill="#fff" fill-opacity="0.12"/>
<rect x="604.5" y="664.9" width="1.5" height="31.3" fill="#000" fill-opacity="0.03"/>
<rect x="606.0" y="664.9" width="2.0" height="31.3" fill="#fff" fill-opacity="0.06"/>
<rect x="608.0" y="664.9" width="2.0" height="31.3" fill="#fff" fill-opacity="0.14"/>
<rect x="610.0" y="664.9" width="1.0" height="31.3" fill="#fff" fill-opacity="0.12"/>
<rect x="614.0" y="664.9" width="2.0" height="31.3" fill="#000" fill-opacity="0.05"/>
<rect x="618.0" y="664.9" width="1.0" height="31.3" fill="#fff" fill-opacity="0.06"/>
<rect x="621.0" y="664.9" width="1.0" height="31.3" fill="#fff" fill-opacity="0.09"/>
<rect x="622.0" y="664.9" width="3.0" height="31.3" fill="#000" fill-opacity="0.01"/>
<rect x="625.0" y="664.9" width="1.0" height="31.3" fill="#fff" fill-opacity="0.10"/>
<rect x="626.0" y="664.9" width="1.0" height="31.3" fill="#fff" fill-opacity="0.07"/>
<rect x="627.0" y="664.9" width="4.0" height="31.3" fill="#fff" fill-opacity="0.10"/>
<rect x="631.0" y="664.9" width="2.0" height="31.3" fill="#fff" fill-opacity="0.07"/>
<rect x="633.0" y="664.9" width="3.0" height="31.3" fill="#fff" fill-opacity="0.05"/>
<rect x="636.0" y="664.9" width="1.5" height="31.3" fill="#000" fill-opacity="0.02"/>
<rect x="637.5" y="664.9" width="1.0" height="31.3" fill="#000" fill-opacity="0.04"/>
<rect x="639.5" y="664.9" width="3.0" height="31.3" fill="#fff" fill-opacity="0.16"/>
<rect x="642.5" y="664.9" width="3.0" height="31.3" fill="#fff" fill-opacity="0.11"/>
<rect x="651.5" y="664.9" width="1.5" height="31.3" fill="#fff" fill-opacity="0.14"/>
<rect x="653.0" y="664.9" width="4.0" height="31.3" fill="#000" fill-opacity="0.03"/>
<rect x="657.0" y="664.9" width="2.0" height="31.3" fill="#000" fill-opacity="0.01"/>
<rect x="659.0" y="664.9" width="1.0" height="31.3" fill="#000" fill-opacity="0.05"/>
<rect x="660.0" y="664.9" width="3.0" height="31.3" fill="#000" fill-opacity="0.04"/>
<rect x="663.0" y="664.9" width="1.0" height="31.3" fill="#fff" fill-opacity="0.08"/>
<rect x="664.0" y="664.9" width="1.5" height="31.3" fill="#fff" fill-opacity="0.05"/>
<rect x="665.5" y="664.9" width="2.0" height="31.3" fill="#fff" fill-opacity="0.10"/>
<rect x="677.5" y="664.9" width="1.0" height="31.3" fill="#fff" fill-opacity="0.08"/>
<rect x="678.5" y="664.9" width="4.0" height="31.3" fill="#000" fill-opacity="0.02"/>
<rect x="682.5" y="664.9" width="1.0" height="31.3" fill="#fff" fill-opacity="0.10"/>
<rect x="683.5" y="664.9" width="2.0" height="31.3" fill="#000" fill-opacity="0.02"/>
<rect x="685.5" y="664.9" width="1.0" height="31.3" fill="#fff" fill-opacity="0.14"/>
<rect x="686.5" y="664.9" width="1.0" height="31.3" fill="#fff" fill-opacity="0.09"/>
<rect x="687.5" y="664.9" width="2.0" height="31.3" fill="#fff" fill-opacity="0.07"/>
<rect x="689.5" y="664.9" width="1.0" height="31.3" fill="#000" fill-opacity="0.01"/>
<rect x="690.5" y="664.9" width="2.0" height="31.3" fill="#000" fill-opacity="0.02"/>
<rect x="692.5" y="664.9" width="4.0" height="31.3" fill="#000" fill-opacity="0.04"/>
<rect x="696.5" y="664.9" width="2.0" height="31.3" fill="#fff" fill-opacity="0.16"/>
<rect x="698.5" y="664.9" width="1.0" height="31.3" fill="#000" fill-opacity="0.02"/>
<rect x="699.5" y="664.9" width="1.5" height="31.3" fill="#fff" fill-opacity="0.11"/>
<rect x="703.0" y="664.9" width="1.5" height="31.3" fill="#000" fill-opacity="0.03"/>
<rect x="704.5" y="664.9" width="2.0" height="31.3" fill="#fff" fill-opacity="0.05"/>
<rect x="706.5" y="664.9" width="2.0" height="31.3" fill="#fff" fill-opacity="0.05"/>
<rect x="708.5" y="664.9" width="2.0" height="31.3" fill="#000" fill-opacity="0.04"/>
<rect x="710.5" y="664.9" width="2.0" height="31.3" fill="#000" fill-opacity="0.02"/>
<rect x="712.5" y="664.9" width="1.0" height="31.3" fill="#fff" fill-opacity="0.12"/>
<rect x="713.5" y="664.9" width="1.0" height="31.3" fill="#fff" fill-opacity="0.07"/>
<rect x="714.5" y="664.9" width="2.0" height="31.3" fill="#fff" fill-opacity="0.08"/>
<rect x="718.0" y="664.9" width="4.0" height="31.3" fill="#fff" fill-opacity="0.16"/>
<rect x="722.0" y="664.9" width="2.0" height="31.3" fill="#fff" fill-opacity="0.11"/>
<rect x="724.0" y="664.9" width="3.0" height="31.3" fill="#fff" fill-opacity="0.08"/>
<rect x="727.0" y="664.9" width="4.0" height="31.3" fill="#fff" fill-opacity="0.15"/>
<rect x="731.0" y="664.9" width="1.5" height="31.3" fill="#000" fill-opacity="0.01"/>
<rect x="732.5" y="664.9" width="4.0" height="31.3" fill="#000" fill-opacity="0.02"/>
<rect x="740.5" y="664.9" width="1.0" height="31.3" fill="#fff" fill-opacity="0.05"/>
<rect x="747.5" y="664.9" width="4.0" height="31.3" fill="#fff" fill-opacity="0.05"/>
<rect x="753.5" y="664.9" width="4.0" height="31.3" fill="#fff" fill-opacity="0.05"/>
<rect x="757.5" y="664.9" width="2.0" height="31.3" fill="#000" fill-opacity="0.03"/>
<rect x="759.5" y="664.9" width="1.0" height="31.3" fill="#000" fill-opacity="0.03"/>
<rect x="764.5" y="664.9" width="3.0" height="31.3" fill="#fff" fill-opacity="0.14"/>
<rect x="767.5" y="664.9" width="1.0" height="31.3" fill="#fff" fill-opacity="0.10"/>
<rect x="768.5" y="664.9" width="1.0" height="31.3" fill="#fff" fill-opacity="0.07"/>
<rect x="769.5" y="664.9" width="2.0" height="31.3" fill="#fff" fill-opacity="0.09"/>
<rect x="771.5" y="664.9" width="2.0" height="31.3" fill="#fff" fill-opacity="0.12"/>
<rect x="773.5" y="664.9" width="2.0" height="31.3" fill="#000" fill-opacity="0.04"/>
<rect x="775.5" y="664.9" width="2.0" height="31.3" fill="#000" fill-opacity="0.03"/>
<rect x="777.5" y="664.9" width="3.0" height="31.3" fill="#000" fill-opacity="0.02"/>
<rect x="780.5" y="664.9" width="3.0" height="31.3" fill="#fff" fill-opacity="0.04"/>
<rect x="783.5" y="664.9" width="1.5" height="31.3" fill="#000" fill-opacity="0.03"/>
<rect x="785.0" y="664.9" width="3.0" height="31.3" fill="#000" fill-opacity="0.03"/>
<rect x="793.0" y="664.9" width="1.5" height="31.3" fill="#000" fill-opacity="0.05"/>
<rect x="794.5" y="664.9" width="2.0" height="31.3" fill="#fff" fill-opacity="0.10"/>
<rect x="796.5" y="664.9" width="4.0" height="31.3" fill="#fff" fill-opacity="0.13"/>
<rect x="800.5" y="664.9" width="3.0" height="31.3" fill="#fff" fill-opacity="0.15"/>
<rect x="803.5" y="664.9" width="2.0" height="31.3" fill="#fff" fill-opacity="0.13"/>
<rect x="807.5" y="664.9" width="1.0" height="31.3" fill="#000" fill-opacity="0.05"/>
<rect x="808.5" y="664.9" width="3.0" height="31.3" fill="#000" fill-opacity="0.03"/>
<rect x="811.5" y="664.9" width="1.5" height="31.3" fill="#fff" fill-opacity="0.11"/>
<rect x="813.0" y="664.9" width="4.0" height="31.3" fill="#fff" fill-opacity="0.14"/>
<rect x="818.0" y="664.9" width="2.0" height="31.3" fill="#000" fill-opacity="0.03"/>
<rect x="820.0" y="664.9" width="2.0" height="31.3" fill="#000" fill-opacity="0.03"/>
<rect x="824.0" y="664.9" width="1.0" height="31.3" fill="#fff" fill-opacity="0.06"/>
<rect x="826.5" y="664.9" width="4.0" height="31.3" fill="#000" fill-opacity="0.01"/>
<rect x="830.5" y="664.9" width="1.5" height="31.3" fill="#000" fill-opacity="0.05"/>
<rect x="832.0" y="664.9" width="2.0" height="31.3" fill="#000" fill-opacity="0.02"/>
<rect x="845.0" y="664.9" width="1.0" height="31.3" fill="#fff" fill-opacity="0.04"/>
<rect x="849.0" y="664.9" width="4.0" height="31.3" fill="#fff" fill-opacity="0.07"/>
<rect x="853.0" y="664.9" width="1.5" height="31.3" fill="#fff" fill-opacity="0.05"/>
<rect x="854.5" y="664.9" width="1.0" height="31.3" fill="#fff" fill-opacity="0.07"/>
<rect x="855.5" y="664.9" width="3.0" height="31.3" fill="#fff" fill-opacity="0.09"/>
<rect x="861.5" y="664.9" width="3.0" height="31.3" fill="#fff" fill-opacity="0.14"/>
<rect x="864.5" y="664.9" width="1.5" height="31.3" fill="#000" fill-opacity="0.04"/>
<rect x="869.0" y="664.9" width="2.0" height="31.3" fill="#fff" fill-opacity="0.09"/>
<rect x="871.0" y="664.9" width="2.0" height="31.3" fill="#000" fill-opacity="0.03"/>
<rect x="873.0" y="664.9" width="2.0" height="31.3" fill="#000" fill-opacity="0.02"/>
<rect x="875.0" y="664.9" width="4.0" height="31.3" fill="#fff" fill-opacity="0.12"/>
<rect x="879.0" y="664.9" width="2.0" height="31.3" fill="#000" fill-opacity="0.02"/>
<rect x="881.0" y="664.9" width="1.5" height="31.3" fill="#fff" fill-opacity="0.11"/>
<rect x="885.5" y="664.9" width="4.0" height="31.3" fill="#000" fill-opacity="0.02"/>
<rect x="889.5" y="664.9" width="1.0" height="31.3" fill="#fff" fill-opacity="0.11"/>
<rect x="890.5" y="664.9" width="1.0" height="31.3" fill="#fff" fill-opacity="0.08"/>
<rect x="894.5" y="664.9" width="4.0" height="31.3" fill="#fff" fill-opacity="0.04"/>
<rect x="898.5" y="664.9" width="3.0" height="31.3" fill="#fff" fill-opacity="0.15"/>
<rect x="901.5" y="664.9" width="3.0" height="31.3" fill="#000" fill-opacity="0.03"/>
<rect x="904.5" y="664.9" width="4.0" height="31.3" fill="#fff" fill-opacity="0.10"/>
<rect x="908.5" y="664.9" width="2.0" height="31.3" fill="#000" fill-opacity="0.05"/>
<rect x="910.5" y="664.9" width="4.0" height="31.3" fill="#fff" fill-opacity="0.06"/>
<rect x="914.5" y="664.9" width="1.5" height="31.3" fill="#fff" fill-opacity="0.10"/>
<rect x="919.0" y="664.9" width="3.0" height="31.3" fill="#fff" fill-opacity="0.15"/>
<rect x="922.0" y="664.9" width="2.0" height="31.3" fill="#fff" fill-opacity="0.12"/>
<rect x="927.0" y="664.9" width="1.0" height="31.3" fill="#000" fill-opacity="0.04"/>
<rect x="928.0" y="664.9" width="4.0" height="31.3" fill="#000" fill-opacity="0.05"/>
<rect x="936.5" y="664.9" width="1.0" height="31.3" fill="#fff" fill-opacity="0.08"/>
<rect x="939.5" y="664.9" width="1.0" height="31.3" fill="#fff" fill-opacity="0.06"/>
<rect x="940.5" y="664.9" width="1.5" height="31.3" fill="#000" fill-opacity="0.03"/>
<rect x="949.0" y="664.9" width="0.7" height="31.3" fill="#fff" fill-opacity="0.15"/>
<text x="952" y="441.1" font-family='"Liberation Serif", serif' font-size="17" font-weight="bold"  text-anchor="start" fill="#1a1a1a"  stroke="#1a1a1a" stroke-width="0.3">P_T</text>
<text x="952" y="471.1" font-family='"Liberation Serif", serif' font-size="17" font-weight="bold"  text-anchor="start" fill="#1a1a1a"  stroke="#1a1a1a" stroke-width="0.3">P_CK</text>
<text x="952" y="501.8" font-family='"Liberation Serif", serif' font-size="17" font-weight="bold"  text-anchor="start" fill="#1a1a1a"  stroke="#1a1a1a" stroke-width="0.3">M82_T</text>
<text x="952" y="532.9" font-family='"Liberation Serif", serif' font-size="17" font-weight="bold"  text-anchor="start" fill="#1a1a1a"  stroke="#1a1a1a" stroke-width="0.3">M82_CK</text>
<text x="953.5" y="594.4" font-family='"Liberation Serif", serif' font-size="17" font-weight="bold"  text-anchor="start" fill="#1a1a1a"  stroke="#1a1a1a" stroke-width="0.3">P_T</text>
<text x="953.5" y="624.4" font-family='"Liberation Serif", serif' font-size="17" font-weight="bold"  text-anchor="start" fill="#1a1a1a"  stroke="#1a1a1a" stroke-width="0.3">P_CK</text>
<text x="953.5" y="655.1" font-family='"Liberation Serif", serif' font-size="17" font-weight="bold"  text-anchor="start" fill="#1a1a1a"  stroke="#1a1a1a" stroke-width="0.3">M82_T</text>
<text x="953.5" y="687.1" font-family='"Liberation Serif", serif' font-size="17" font-weight="bold"  text-anchor="start" fill="#1a1a1a"  stroke="#1a1a1a" stroke-width="0.3">M82_CK</text>
<text x="702.7" y="562.1" font-family='"Liberation Serif", serif' font-size="19" font-weight="bold"  text-anchor="middle" fill="#1a1a1a"  stroke="#1a1a1a" stroke-width="0.3">lncRNA</text>
<text x="699" y="718.1" font-family='"Liberation Serif", serif' font-size="18.5" font-weight="bold"  text-anchor="middle" fill="#1a1a1a"  stroke="#1a1a1a" stroke-width="0.3">mRNA</text>
<defs><linearGradient id="zg" x1="0" y1="0" x2="0" y2="1"><stop offset="0" stop-color="#ff0000"/><stop offset="0.5" stop-color="#ffffff"/><stop offset="1" stop-color="#0000ff"/></linearGradient></defs>
<rect x="1062.7" y="472.9" width="22.9" height="151.8" fill="url(#zg)"/>
<text x="1092" y="481.2" font-family='"Liberation Serif", serif' font-size="17.5" font-weight="bold"  text-anchor="start" fill="#1a1a1a"  stroke="#1a1a1a" stroke-width="0.3">1.5</text>
<text x="1092" y="555.5" font-family='"Liberation Serif", serif' font-size="17.5" font-weight="bold"  text-anchor="start" fill="#1a1a1a"  stroke="#1a1a1a" stroke-width="0.3">0</text>
<text x="1089.2" y="629" font-family='"Liberation Serif", serif' font-size="17.5" font-weight="bold"  text-anchor="start" fill="#1a1a1a"  stroke="#1a1a1a" stroke-width="0.3">−1.5</text>
<text transform="translate(1057.5,584.4) rotate(-90)" font-family='"Liberation Serif", serif' font-size="19" font-weight="bold" fill="#1a1a1a" stroke="#1a1a1a" stroke-width="0.3">Z-score</text>
</svg>
</body></html>
